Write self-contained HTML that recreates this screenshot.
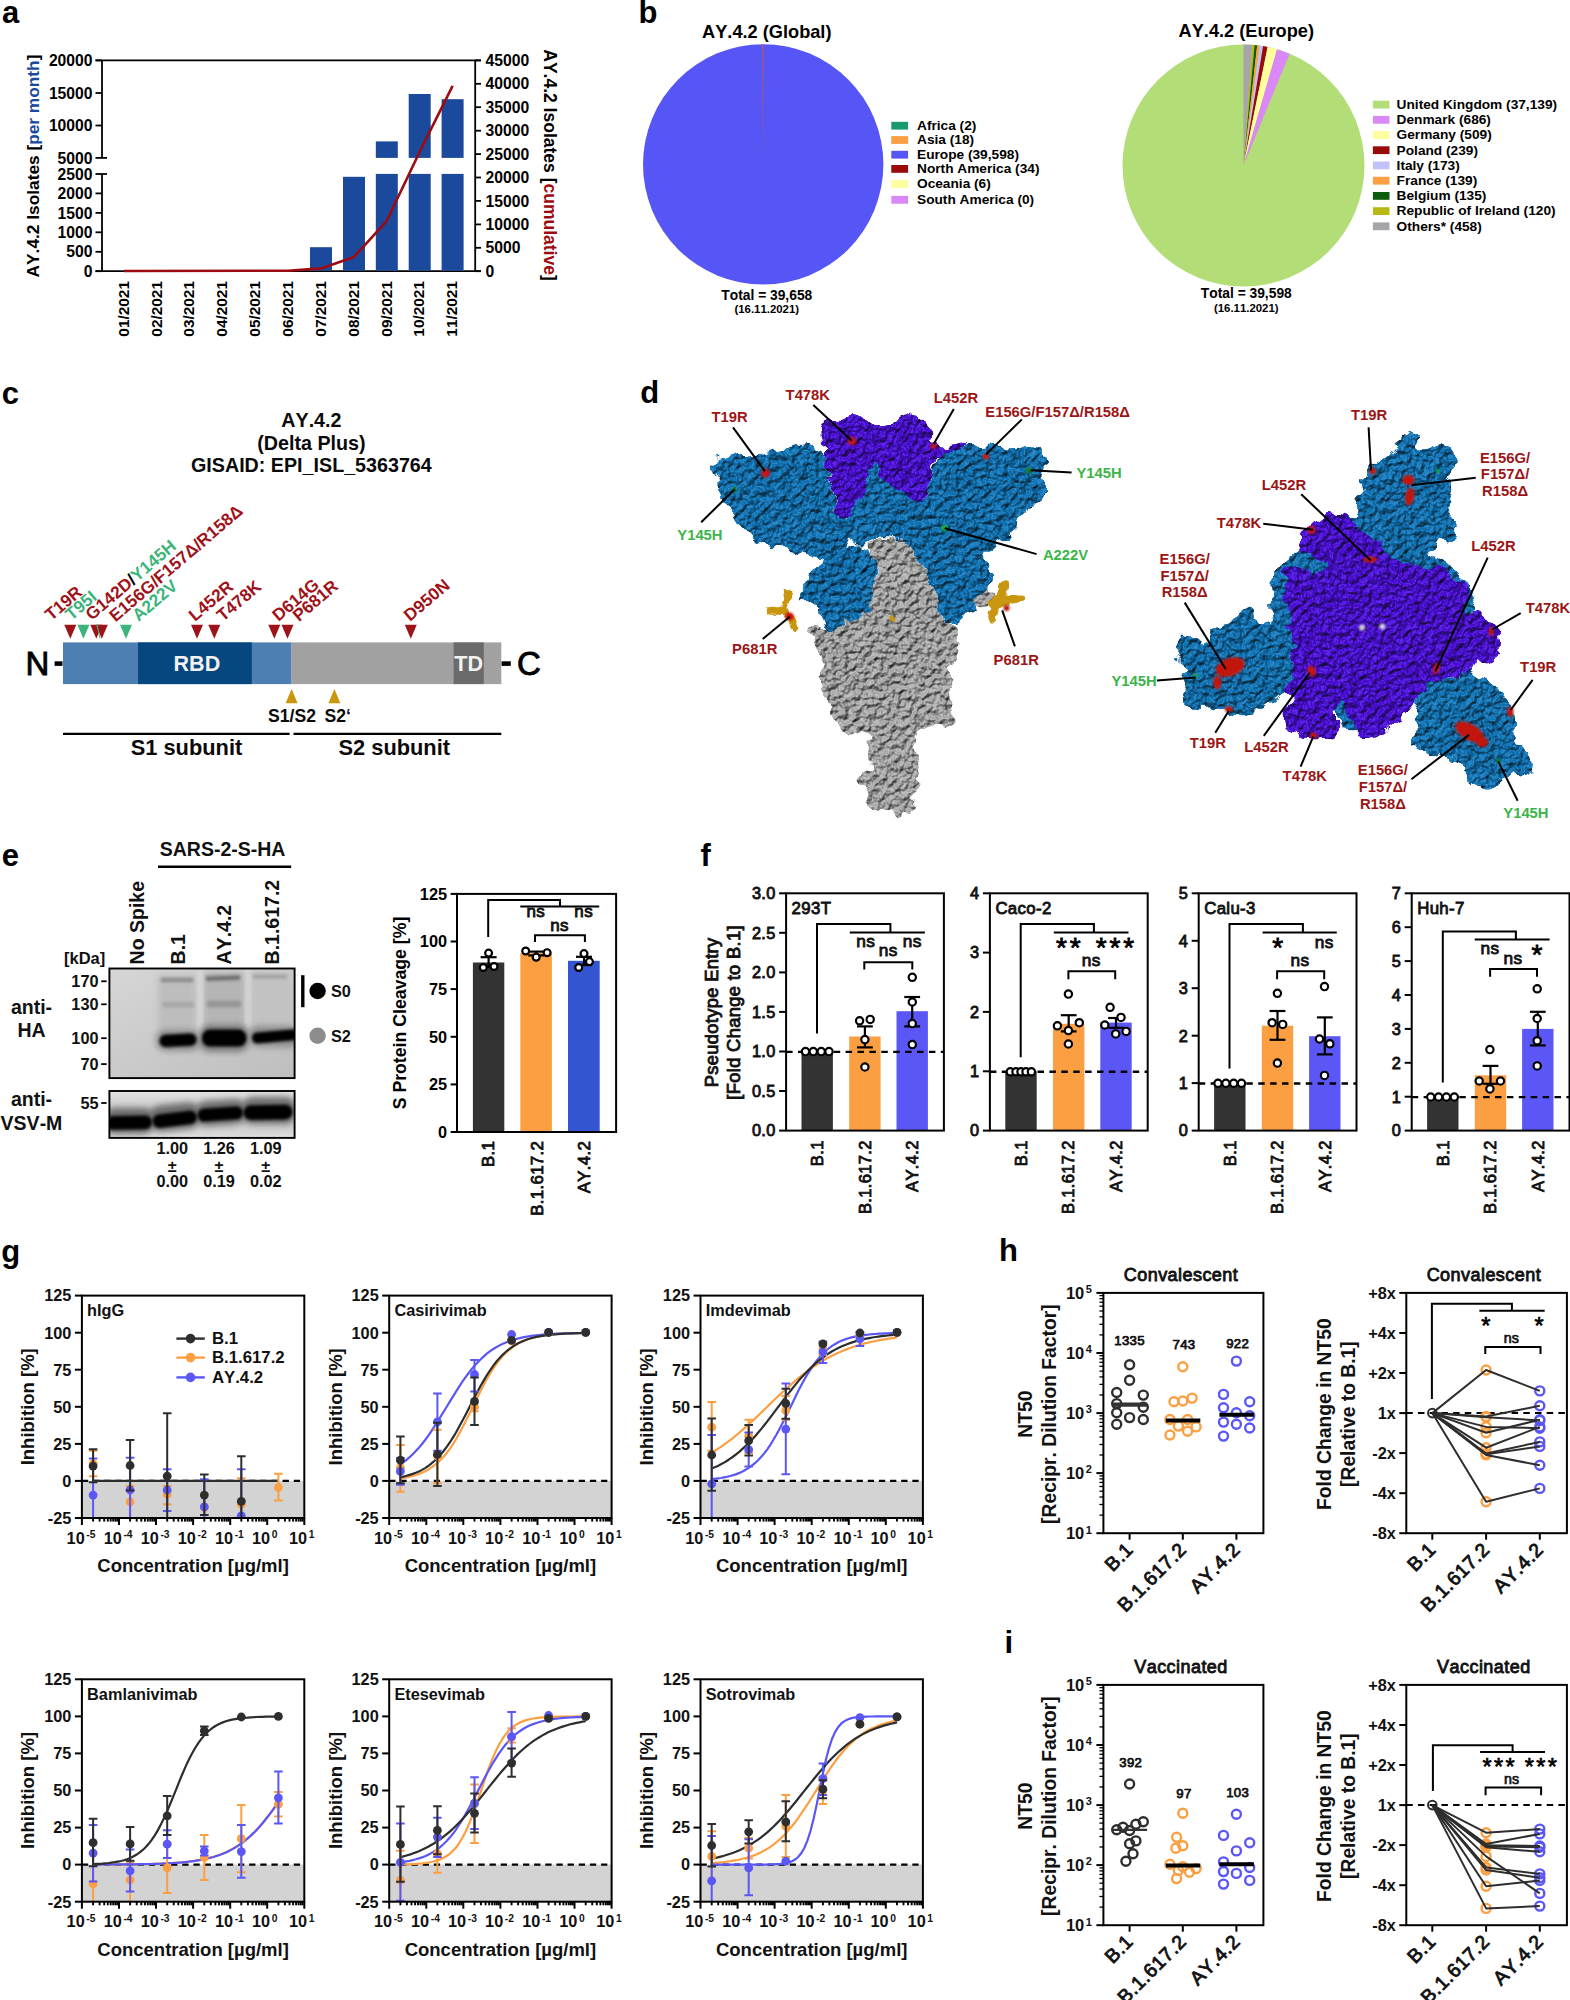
<!DOCTYPE html>
<html><head><meta charset="utf-8"><title>Figure</title>
<style>
html,body{margin:0;padding:0;background:#fff;}
svg{display:block;}
text{font-family:"Liberation Sans",sans-serif;font-weight:bold;font-kerning:none;}
</style></head><body>
<svg width="1570" height="2000" viewBox="0 0 1570 2000">
<rect width="1570" height="2000" fill="#fff"/>
<g id="pa">
<text x="2.0" y="23.2" font-size="31">a</text>
<line x1="95.5" y1="60.4" x2="481.0" y2="60.4" stroke="#000" stroke-width="1.8" />
<line x1="95.5" y1="271.2" x2="481.0" y2="271.2" stroke="#000" stroke-width="1.8" />
<line x1="102.0" y1="60.4" x2="102.0" y2="157.9" stroke="#000" stroke-width="1.8" />
<line x1="102.0" y1="174.0" x2="102.0" y2="271.2" stroke="#000" stroke-width="1.8" />
<line x1="475.2" y1="60.4" x2="475.2" y2="271.2" stroke="#000" stroke-width="1.8" />
<line x1="95.5" y1="60.4" x2="102.0" y2="60.4" stroke="#000" stroke-width="1.8" />
<text x="92.5" y="66.0" font-size="15.7" text-anchor="end">20000</text>
<line x1="95.5" y1="93.0" x2="102.0" y2="93.0" stroke="#000" stroke-width="1.8" />
<text x="92.5" y="98.6" font-size="15.7" text-anchor="end">15000</text>
<line x1="95.5" y1="125.5" x2="102.0" y2="125.5" stroke="#000" stroke-width="1.8" />
<text x="92.5" y="131.1" font-size="15.7" text-anchor="end">10000</text>
<line x1="95.5" y1="157.9" x2="107.0" y2="157.9" stroke="#000" stroke-width="1.8" />
<text x="92.5" y="163.5" font-size="15.7" text-anchor="end">5000</text>
<line x1="95.5" y1="174.0" x2="107.0" y2="174.0" stroke="#000" stroke-width="1.8" />
<text x="92.5" y="179.6" font-size="15.7" text-anchor="end">2500</text>
<line x1="95.5" y1="193.4" x2="102.0" y2="193.4" stroke="#000" stroke-width="1.8" />
<text x="92.5" y="199.0" font-size="15.7" text-anchor="end">2000</text>
<line x1="95.5" y1="212.9" x2="102.0" y2="212.9" stroke="#000" stroke-width="1.8" />
<text x="92.5" y="218.5" font-size="15.7" text-anchor="end">1500</text>
<line x1="95.5" y1="232.3" x2="102.0" y2="232.3" stroke="#000" stroke-width="1.8" />
<text x="92.5" y="237.9" font-size="15.7" text-anchor="end">1000</text>
<line x1="95.5" y1="251.8" x2="102.0" y2="251.8" stroke="#000" stroke-width="1.8" />
<text x="92.5" y="257.4" font-size="15.7" text-anchor="end">500</text>
<line x1="95.5" y1="271.2" x2="102.0" y2="271.2" stroke="#000" stroke-width="1.8" />
<text x="92.5" y="276.8" font-size="15.7" text-anchor="end">0</text>
<line x1="475.2" y1="271.2" x2="481.0" y2="271.2" stroke="#000" stroke-width="1.8" />
<text x="485.5" y="276.8" font-size="15.7">0</text>
<line x1="475.2" y1="247.8" x2="481.0" y2="247.8" stroke="#000" stroke-width="1.8" />
<text x="485.5" y="253.4" font-size="15.7">5000</text>
<line x1="475.2" y1="224.4" x2="481.0" y2="224.4" stroke="#000" stroke-width="1.8" />
<text x="485.5" y="230.0" font-size="15.7">10000</text>
<line x1="475.2" y1="200.9" x2="481.0" y2="200.9" stroke="#000" stroke-width="1.8" />
<text x="485.5" y="206.5" font-size="15.7">15000</text>
<line x1="475.2" y1="177.5" x2="481.0" y2="177.5" stroke="#000" stroke-width="1.8" />
<text x="485.5" y="183.1" font-size="15.7">20000</text>
<line x1="475.2" y1="154.1" x2="481.0" y2="154.1" stroke="#000" stroke-width="1.8" />
<text x="485.5" y="159.7" font-size="15.7">25000</text>
<line x1="475.2" y1="130.7" x2="481.0" y2="130.7" stroke="#000" stroke-width="1.8" />
<text x="485.5" y="136.3" font-size="15.7">30000</text>
<line x1="475.2" y1="107.2" x2="481.0" y2="107.2" stroke="#000" stroke-width="1.8" />
<text x="485.5" y="112.8" font-size="15.7">35000</text>
<line x1="475.2" y1="83.8" x2="481.0" y2="83.8" stroke="#000" stroke-width="1.8" />
<text x="485.5" y="89.4" font-size="15.7">40000</text>
<line x1="475.2" y1="60.4" x2="481.0" y2="60.4" stroke="#000" stroke-width="1.8" />
<text x="485.5" y="66.0" font-size="15.7">45000</text>
<rect x="310.0" y="247.2" width="22.0" height="23.5" fill="#1b4a9c" />
<rect x="343.0" y="176.8" width="22.0" height="93.9" fill="#1b4a9c" />
<rect x="375.8" y="173.9" width="22.0" height="96.8" fill="#1b4a9c" />
<rect x="375.8" y="141.4" width="22.0" height="16.5" fill="#1b4a9c" />
<rect x="408.7" y="173.9" width="22.0" height="96.8" fill="#1b4a9c" />
<rect x="408.7" y="94.0" width="22.0" height="63.9" fill="#1b4a9c" />
<rect x="441.6" y="173.9" width="22.0" height="96.8" fill="#1b4a9c" />
<rect x="441.6" y="99.2" width="22.0" height="58.7" fill="#1b4a9c" />
<path d="M124.0,271.0 L288.0,270.7 L321.0,268.4 L354.0,257.0 L386.8,220.8 L419.7,151.7 L452.6,85.8" stroke="#9b0b10" stroke-width="2.6" fill="none" stroke-linejoin="round"/>
<text x="128.6" y="281.0" font-size="15.4" text-anchor="end" transform="rotate(-90 128.6 281.0)">01/2021</text>
<text x="161.5" y="281.0" font-size="15.4" text-anchor="end" transform="rotate(-90 161.5 281.0)">02/2021</text>
<text x="194.3" y="281.0" font-size="15.4" text-anchor="end" transform="rotate(-90 194.3 281.0)">03/2021</text>
<text x="227.2" y="281.0" font-size="15.4" text-anchor="end" transform="rotate(-90 227.2 281.0)">04/2021</text>
<text x="260.0" y="281.0" font-size="15.4" text-anchor="end" transform="rotate(-90 260.0 281.0)">05/2021</text>
<text x="292.9" y="281.0" font-size="15.4" text-anchor="end" transform="rotate(-90 292.9 281.0)">06/2021</text>
<text x="325.8" y="281.0" font-size="15.4" text-anchor="end" transform="rotate(-90 325.8 281.0)">07/2021</text>
<text x="358.6" y="281.0" font-size="15.4" text-anchor="end" transform="rotate(-90 358.6 281.0)">08/2021</text>
<text x="391.5" y="281.0" font-size="15.4" text-anchor="end" transform="rotate(-90 391.5 281.0)">09/2021</text>
<text x="424.3" y="281.0" font-size="15.4" text-anchor="end" transform="rotate(-90 424.3 281.0)">10/2021</text>
<text x="457.2" y="281.0" font-size="15.4" text-anchor="end" transform="rotate(-90 457.2 281.0)">11/2021</text>
<text x="39.2" y="166.0" font-size="17.3" text-anchor="middle" transform="rotate(-90 39.2 166.0)">AY.4.2 Isolates [<tspan fill="#1b4a9c">per month</tspan>]</text>
<text x="543.8" y="165.0" font-size="17.5" text-anchor="middle" transform="rotate(90 543.8 165.0)">AY.4.2 Isolates [<tspan fill="#9b0b10">cumulative</tspan>]</text>
</g>
<g id="pb">
<text x="638.5" y="22.9" font-size="31">b</text>
<circle cx="763.2" cy="164.4" r="120.2" fill="#5656f7" stroke="none" stroke-width="0" />
<path d="M762.3,44.5 L763.5,44.5 L763.1,164.4 Z" fill="#c0564f"/>
<text x="766.8" y="38.0" font-size="18.2" text-anchor="middle">AY.4.2 (Global)</text>
<text x="766.8" y="299.6" font-size="13.8" text-anchor="middle">Total = 39,658</text>
<text x="766.8" y="313.4" font-size="11.4" text-anchor="middle">(16.11.2021)</text>
<rect x="891.3" y="121.8" width="16.8" height="7.8" fill="#1a9a6c" />
<text x="917.0" y="129.9" font-size="13.7">Africa (2)</text>
<rect x="891.3" y="136.1" width="16.8" height="7.8" fill="#fc9f42" />
<text x="917.0" y="144.2" font-size="13.7">Asia (18)</text>
<rect x="891.3" y="150.8" width="16.8" height="7.8" fill="#5656f7" />
<text x="917.0" y="158.9" font-size="13.7">Europe (39,598)</text>
<rect x="891.3" y="165.0" width="16.8" height="7.8" fill="#9b0a0a" />
<text x="917.0" y="173.1" font-size="13.7">North America (34)</text>
<rect x="891.3" y="180.1" width="16.8" height="7.8" fill="#fefe9e" />
<text x="917.0" y="188.2" font-size="13.7">Oceania (6)</text>
<rect x="891.3" y="195.9" width="16.8" height="7.8" fill="#da87f7" />
<text x="917.0" y="204.0" font-size="13.7">South America (0)</text>
<circle cx="1243.5" cy="165.5" r="121" fill="#b2dd77" stroke="none" stroke-width="0" />
<path d="M1243.50,165.50 L1243.50,44.50 A121,121 0 0 1 1252.39,44.83 Z" fill="#a6a6aa"/>
<path d="M1243.50,165.50 L1252.29,44.82 A121,121 0 0 1 1254.69,45.02 Z" fill="#b9b916"/>
<path d="M1243.50,165.50 L1254.58,45.01 A121,121 0 0 1 1257.27,45.29 Z" fill="#0b5d0b"/>
<path d="M1243.50,165.50 L1257.16,45.27 A121,121 0 0 1 1259.91,45.62 Z" fill="#fc9f42"/>
<path d="M1243.50,165.50 L1259.81,45.60 A121,121 0 0 1 1263.20,46.11 Z" fill="#c2c2fa"/>
<path d="M1243.50,165.50 L1263.09,46.10 A121,121 0 0 1 1267.71,46.95 Z" fill="#9b0a0a"/>
<path d="M1243.50,165.50 L1267.61,46.93 A121,121 0 0 1 1277.20,49.29 Z" fill="#fefe9e"/>
<path d="M1243.50,165.50 L1277.09,49.26 A121,121 0 0 1 1289.62,53.63 Z" fill="#da87f7"/>
<text x="1246.3" y="37.3" font-size="18.2" text-anchor="middle">AY.4.2 (Europe)</text>
<text x="1246.3" y="298.2" font-size="13.8" text-anchor="middle">Total = 39,598</text>
<text x="1246.3" y="312.0" font-size="11.4" text-anchor="middle">(16.11.2021)</text>
<rect x="1372.9" y="100.7" width="16.6" height="7.8" fill="#b2dd77" />
<text x="1396.6" y="108.9" font-size="13.7">United Kingdom (37,139)</text>
<rect x="1372.9" y="115.9" width="16.6" height="7.8" fill="#da87f7" />
<text x="1396.6" y="124.1" font-size="13.7">Denmark (686)</text>
<rect x="1372.9" y="131.1" width="16.6" height="7.8" fill="#fefe9e" />
<text x="1396.6" y="139.3" font-size="13.7">Germany (509)</text>
<rect x="1372.9" y="146.3" width="16.6" height="7.8" fill="#9b0a0a" />
<text x="1396.6" y="154.5" font-size="13.7">Poland (239)</text>
<rect x="1372.9" y="161.5" width="16.6" height="7.8" fill="#c2c2fa" />
<text x="1396.6" y="169.7" font-size="13.7">Italy (173)</text>
<rect x="1372.9" y="176.8" width="16.6" height="7.8" fill="#fc9f42" />
<text x="1396.6" y="185.0" font-size="13.7">France (139)</text>
<rect x="1372.9" y="192.0" width="16.6" height="7.8" fill="#0b5d0b" />
<text x="1396.6" y="200.2" font-size="13.7">Belgium (135)</text>
<rect x="1372.9" y="207.2" width="16.6" height="7.8" fill="#b9b916" />
<text x="1396.6" y="215.4" font-size="13.7">Republic of Ireland (120)</text>
<rect x="1372.9" y="222.4" width="16.6" height="7.8" fill="#a6a6aa" />
<text x="1396.6" y="230.6" font-size="13.7">Others* (458)</text>
</g>
<g id="pc">
<text x="1.7" y="403.6" font-size="31">c</text>
<text x="311.4" y="427.3" font-size="19.7" text-anchor="middle" fill="#0a0a0a">AY.4.2</text>
<text x="311.4" y="449.6" font-size="19.7" text-anchor="middle" fill="#0a0a0a">(Delta Plus)</text>
<text x="311.4" y="472.4" font-size="19.7" text-anchor="middle" fill="#0a0a0a">GISAID: EPI_ISL_5363764</text>
<rect x="63.0" y="642.4" width="228.6" height="41.7" fill="#4e7fb3" />
<rect x="138.0" y="642.4" width="113.8" height="41.7" fill="#06477f" />
<rect x="291.6" y="642.4" width="209.7" height="41.7" fill="#a1a1a1" />
<rect x="453.6" y="642.4" width="30.2" height="41.7" fill="#6b6b6b" />
<text x="196.9" y="671.3" font-size="21.5" text-anchor="middle" fill="#f2f2f2">RBD</text>
<text x="468.7" y="671.3" font-size="21.5" text-anchor="middle" fill="#f2f2f2">TD</text>
<text x="25.6" y="675.0" font-size="33" style="font-weight:normal" stroke="#000" stroke-width="0.9">N</text>
<text x="517.0" y="675.0" font-size="33" style="font-weight:normal" stroke="#000" stroke-width="0.9">C</text>
<line x1="54.6" y1="663.6" x2="62.5" y2="663.6" stroke="#000" stroke-width="4.6" />
<line x1="501.6" y1="663.6" x2="510.8" y2="663.6" stroke="#000" stroke-width="4.6" />
<path d="M64.3,624.8 L76.3,624.8 L70.3,638.8 Z" fill="#9e1219"/>
<path d="M90.3,624.8 L102.3,624.8 L96.3,638.8 Z" fill="#9e1219"/>
<path d="M95.8,624.8 L107.8,624.8 L101.8,638.8 Z" fill="#9e1219"/>
<path d="M191.0,624.8 L203.0,624.8 L197.0,638.8 Z" fill="#9e1219"/>
<path d="M208.3,624.8 L220.3,624.8 L214.3,638.8 Z" fill="#9e1219"/>
<path d="M268.3,624.8 L280.3,624.8 L274.3,638.8 Z" fill="#9e1219"/>
<path d="M281.5,624.8 L293.5,624.8 L287.5,638.8 Z" fill="#9e1219"/>
<path d="M404.8,624.8 L416.8,624.8 L410.8,638.8 Z" fill="#9e1219"/>
<path d="M96.2,624.8 L97.6,624.8 L100.4,637.5 L99.8,638.8 Z" fill="#3cb47b"/>
<path d="M77.4,624.8 L89.4,624.8 L83.4,638.8 Z" fill="#3cb47b"/>
<path d="M120.0,624.8 L132.0,624.8 L126.0,638.8 Z" fill="#3cb47b"/>
<path d="M285.6,703.2 L297.6,703.2 L291.6,689 Z" fill="#c9960c"/>
<path d="M328.4,703.2 L340.4,703.2 L334.4,689 Z" fill="#c9960c"/>
<text x="51.2" y="621.3" font-size="17.3" transform="rotate(-40.5 51.2 621.3)" fill="#9e1219">T19R</text>
<text x="71.5" y="621.0" font-size="17.3" transform="rotate(-40.5 71.5 621.0)" fill="#3cb47b">T95I</text>
<text x="91.8" y="621.0" font-size="17.3" transform="rotate(-40.5 91.8 621.0)" fill="#9e1219">G142D<tspan fill="#000">/</tspan><tspan fill="#3cb47b">Y145H</tspan></text>
<text x="115.5" y="622.5" font-size="17.3" transform="rotate(-40.5 115.5 622.5)" fill="#9e1219">E156G/F157Δ/R158Δ</text>
<text x="138.5" y="622.0" font-size="17.3" transform="rotate(-40.5 138.5 622.0)" fill="#3cb47b">A222V</text>
<text x="195.0" y="622.0" font-size="17.3" transform="rotate(-40.5 195.0 622.0)" fill="#9e1219">L452R</text>
<text x="223.0" y="622.0" font-size="17.3" transform="rotate(-40.5 223.0 622.0)" fill="#9e1219">T478K</text>
<text x="278.5" y="622.0" font-size="17.3" transform="rotate(-40.5 278.5 622.0)" fill="#9e1219">D614G</text>
<text x="299.0" y="622.3" font-size="17.3" transform="rotate(-40.5 299.0 622.3)" fill="#9e1219">P681R</text>
<text x="410.0" y="622.0" font-size="17.3" transform="rotate(-40.5 410.0 622.0)" fill="#9e1219">D950N</text>
<text x="292.0" y="721.5" font-size="17.6" text-anchor="middle" fill="#0a0a0a">S1/S2</text>
<text x="337.8" y="721.5" font-size="17.6" text-anchor="middle" fill="#0a0a0a">S2‘</text>
<line x1="63.0" y1="733.8" x2="289.6" y2="733.8" stroke="#000" stroke-width="2.2" />
<line x1="293.5" y1="733.8" x2="501.3" y2="733.8" stroke="#000" stroke-width="2.2" />
<text x="186.5" y="754.8" font-size="21.8" text-anchor="middle" fill="#0a0a0a">S1 subunit</text>
<text x="394.3" y="754.8" font-size="21.8" text-anchor="middle" fill="#0a0a0a">S2 subunit</text>
</g>
<g id="pd">
<defs>
<filter id="surf" x="-3%" y="-3%" width="106%" height="106%" color-interpolation-filters="sRGB">
<feTurbulence type="fractalNoise" baseFrequency="0.085" numOctaves="2" seed="11" result="n1"/>
<feDisplacementMap in="SourceGraphic" in2="n1" scale="13" xChannelSelector="R" yChannelSelector="G" result="d"/>
<feTurbulence type="fractalNoise" baseFrequency="0.17" numOctaves="2" seed="5" result="n"/>
<feDiffuseLighting in="n" surfaceScale="3.6" diffuseConstant="1.2" lighting-color="#fff" result="l"><feDistantLight azimuth="240" elevation="55"/></feDiffuseLighting>
<feComposite in="l" in2="d" operator="arithmetic" k1="0.92" k2="0" k3="0.04" k4="0" result="m"/>
<feSpecularLighting in="n" surfaceScale="3.6" specularConstant="0.5" specularExponent="14" lighting-color="#fff" result="sp"><feDistantLight azimuth="240" elevation="55"/></feSpecularLighting>
<feComposite in="sp" in2="m" operator="arithmetic" k1="0" k2="0.3" k3="1" k4="0" result="m2"/>
<feComposite in="m2" in2="d" operator="in"/>
</filter>
<filter id="surf2" x="-10%" y="-10%" width="120%" height="120%" color-interpolation-filters="sRGB">
<feTurbulence type="fractalNoise" baseFrequency="0.2" numOctaves="1" seed="3" result="n"/>
<feDisplacementMap in="SourceGraphic" in2="n" scale="5" xChannelSelector="R" yChannelSelector="G"/>
</filter>
<filter id="sb" x="-30%" y="-30%" width="160%" height="160%"><feGaussianBlur stdDeviation="0.8"/></filter>
</defs>
<text x="640.3" y="403.4" font-size="31">d</text>
<g filter="url(#surf)"><path d="M822.7,422.9 C824.2,420.3 827.8,418.9 830.7,418.3 C833.6,417.8 836.4,420.2 839.9,419.5 C843.3,418.8 847.9,414.7 851.3,414.2 C854.8,413.7 858.0,415.6 860.5,416.5 C863.0,417.4 864.0,418.0 866.2,419.5 C868.5,420.9 871.8,423.6 874.3,425.2 C876.8,426.9 879.2,428.7 881.2,429.4 C883.1,430.0 884.7,429.8 886.2,429.4 C887.7,428.9 888.1,428.6 890.3,426.4 C892.5,424.2 896.6,418.5 899.5,416.1 C902.4,413.6 904.8,411.7 907.5,411.9 C910.2,412.1 913.3,416.3 915.5,417.2 C917.8,418.1 919.0,415.1 921.3,417.2 C923.6,419.3 927.2,426.0 929.3,429.8 C931.4,433.6 932.0,437.3 933.9,440.1 C935.8,443.0 937.3,446.2 940.8,447.0 C944.2,447.8 950.1,445.5 954.5,444.7 C958.9,444.0 967.5,440.9 967.1,442.4 C966.8,444.0 957.4,450.8 952.2,453.9 C947.1,456.9 939.6,457.1 936.2,460.8 C932.7,464.4 933.1,469.7 931.6,475.7 C930.1,481.6 929.7,492.1 927.0,496.3 C924.3,500.5 920.5,500.9 915.5,500.9 C910.6,500.9 902.6,497.8 897.2,496.3 C891.9,494.8 888.0,491.7 883.4,491.7 C878.9,491.7 874.3,493.6 869.7,496.3 C865.1,499.0 859.7,503.8 855.9,507.8 C852.1,511.8 849.8,519.2 846.8,520.4 C843.7,521.5 839.5,518.3 837.6,514.7 C835.7,511.0 836.4,503.6 835.3,498.6 C834.1,493.6 832.0,489.8 830.7,484.8 C829.4,479.9 828.2,473.8 827.3,468.8 C826.3,463.8 825.9,460.8 825.0,455.0 C824.0,449.3 821.9,439.7 821.5,434.4 C821.1,429.0 821.1,425.6 822.7,422.9Z" fill="#3f03cc"/><path d="M867.4,546.8 C867.0,541.8 868.9,541.0 874.3,539.9 C879.6,538.7 893.4,538.3 899.5,539.9 C905.6,541.4 907.1,544.8 911.0,549.0 C914.8,553.3 919.4,559.4 922.4,565.1 C925.5,570.8 927.0,578.1 929.3,583.4 C931.6,588.8 934.7,592.6 936.2,597.2 C937.7,601.8 937.3,606.4 938.5,611.0 C939.6,615.5 940.1,622.2 943.1,624.7 C946.0,627.3 953.7,624.9 956.2,626.4 C958.7,627.8 958.0,629.9 958.0,633.5 C958.0,637.1 956.2,643.0 956.2,647.8 C956.2,652.5 959.0,658.5 958.0,662.0 C956.9,665.6 950.8,665.9 949.9,669.2 C949.0,672.4 952.8,677.5 952.6,681.7 C952.5,685.8 949.2,690.3 949.0,694.1 C948.9,698.0 950.8,701.0 951.7,704.8 C952.6,708.7 955.1,714.1 954.4,717.3 C953.7,720.6 949.9,723.6 947.3,724.5 C944.6,725.4 941.0,722.7 938.3,722.7 C935.7,722.7 934.2,723.3 931.2,724.5 C928.2,725.7 922.9,727.7 920.5,729.8 C918.1,731.9 917.8,733.4 916.9,736.9 C916.1,740.5 914.9,746.5 915.2,751.2 C915.5,756.0 918.3,761.0 918.7,765.5 C919.2,769.9 917.8,773.8 917.8,778.0 C917.8,782.1 919.2,786.9 918.7,790.5 C918.3,794.0 916.4,796.1 915.2,799.4 C914.0,802.6 913.7,807.7 911.6,810.1 C909.5,812.4 905.1,812.2 902.7,813.6 C900.3,815.1 899.1,819.6 897.3,819.0 C895.5,818.4 894.4,811.9 892.0,810.1 C889.6,808.3 885.7,808.0 883.1,808.3 C880.4,808.6 878.3,812.2 875.9,811.9 C873.5,811.6 870.3,808.6 868.8,806.5 C867.3,804.4 867.3,802.3 867.0,799.4 C866.7,796.4 867.8,791.3 867.0,788.7 C866.3,786.0 863.9,785.4 862.6,783.3 C861.2,781.2 857.6,778.6 859.0,776.2 C860.3,773.8 868.9,772.0 870.6,769.0 C872.2,766.1 868.9,762.5 868.8,758.3 C868.6,754.2 870.0,748.2 869.7,744.1 C869.4,739.9 869.2,734.6 867.0,733.4 C864.8,732.2 859.9,737.2 856.3,736.9 C852.7,736.6 849.2,734.0 845.6,731.6 C842.0,729.2 837.6,725.4 834.9,722.7 C832.2,720.0 830.6,718.5 829.6,715.5 C828.5,712.6 829.7,708.4 828.7,704.8 C827.6,701.3 824.7,698.3 823.3,694.1 C822.0,690.0 820.9,684.9 820.6,679.9 C820.3,674.8 821.5,668.6 821.5,663.8 C821.5,659.1 822.0,655.5 820.6,651.3 C819.3,647.2 814.8,643.3 813.5,638.9 C812.2,634.4 810.1,626.2 812.6,624.6 C815.1,623.0 822.6,631.1 828.3,629.2 C834.0,627.3 839.9,618.2 846.8,613.3 C853.7,608.3 865.5,604.5 869.7,599.5 C873.9,594.5 870.8,588.4 872.0,583.4 C873.1,578.5 877.3,575.8 876.6,569.7 C875.8,563.6 867.8,551.7 867.4,546.8Z" fill="#a3a3a3"/><path d="M968.7,596.1 C968.7,593.8 971.3,592.5 974.0,590.7 C976.7,588.9 982.0,585.4 984.7,585.4 C987.4,585.4 988.3,588.6 990.1,590.7 C991.9,592.8 995.7,595.8 995.4,597.8 C995.1,599.9 991.9,602.1 988.3,603.2 C984.7,604.2 977.3,605.3 974.0,604.1 C970.7,602.9 968.7,598.3 968.7,596.1Z" fill="#a3a3a3"/><path d="M712.6,464.2 C712.8,461.3 714.3,459.8 717.2,458.5 C720.1,457.1 725.6,456.9 729.8,456.2 C734.0,455.4 737.8,454.1 742.4,453.9 C747.0,453.7 752.9,455.4 757.3,455.0 C761.7,454.7 763.1,452.9 768.8,451.6 C774.5,450.3 785.2,448.2 791.7,447.0 C798.2,445.9 803.2,444.5 807.8,444.7 C812.4,444.9 816.4,446.4 819.2,448.2 C822.1,449.9 823.6,451.6 825.0,455.0 C826.3,458.5 826.3,463.8 827.3,468.8 C828.2,473.8 829.4,479.9 830.7,484.8 C832.0,489.8 834.1,493.6 835.3,498.6 C836.4,503.6 835.7,510.8 837.6,514.7 C839.5,518.5 844.8,517.7 846.8,521.5 C848.7,525.4 849.0,533.4 849.0,537.6 C849.0,541.8 844.8,545.2 846.8,546.8 C848.7,548.3 856.3,545.2 860.5,546.8 C864.7,548.3 869.3,552.1 872.0,555.9 C874.7,559.7 876.4,565.1 876.6,569.7 C876.8,574.3 874.0,578.5 873.1,583.4 C872.3,588.4 871.8,594.7 871.5,599.5 C871.3,604.3 873.4,609.5 871.5,612.1 C869.7,614.7 864.2,613.9 860.5,615.1 C856.8,616.2 853.1,616.4 849.3,619.0 C845.5,621.5 841.1,628.7 837.6,630.5 C834.1,632.2 830.9,631.0 828.4,629.3 C825.9,627.6 824.2,624.0 822.7,620.1 C821.1,616.3 821.7,609.8 819.2,606.4 C816.8,602.9 811.2,600.6 807.8,599.5 C804.3,598.3 799.0,602.2 798.6,599.5 C798.2,596.8 803.6,588.0 805.5,583.4 C807.4,578.9 807.0,575.8 810.1,572.0 C813.1,568.2 823.8,562.8 823.8,560.5 C823.8,558.2 815.0,559.7 810.1,558.2 C805.1,556.7 799.7,553.3 794.0,551.3 C788.3,549.4 781.8,548.3 775.7,546.8 C769.6,545.2 762.3,544.8 757.3,542.2 C752.4,539.5 749.3,534.5 745.9,530.7 C742.4,526.9 739.0,523.1 736.7,519.2 C734.4,515.4 734.0,510.4 732.1,507.8 C730.2,505.1 727.1,506.2 725.2,503.2 C723.3,500.1 722.2,494.0 720.6,489.4 C719.1,484.8 717.4,479.9 716.1,475.7 C714.7,471.5 712.4,467.1 712.6,464.2Z" fill="#0669ab"/><path d="M870.8,466.5 C872.4,465.0 874.5,465.0 876.6,466.5 C878.7,468.0 880.4,472.0 883.4,475.7 C886.5,479.3 891.1,485.2 894.9,488.3 C898.7,491.3 902.9,492.3 906.4,494.0 C909.8,495.7 912.1,498.2 915.5,498.6 C919.0,499.0 924.3,500.1 927.0,496.3 C929.7,492.5 929.7,481.8 931.6,475.7 C933.5,469.6 935.4,463.6 938.5,459.6 C941.5,455.6 945.2,454.1 949.9,451.6 C954.7,449.1 961.8,445.7 967.1,444.7 C972.5,443.8 976.9,445.9 982.0,445.9 C987.2,445.9 993.1,444.1 998.1,444.7 C1003.1,445.3 1006.5,449.1 1011.9,449.3 C1017.2,449.5 1024.8,444.9 1030.2,445.9 C1035.5,446.8 1040.9,452.2 1044.0,455.0 C1047.0,457.9 1048.9,459.6 1048.5,463.1 C1048.2,466.5 1042.0,471.3 1041.7,475.7 C1041.3,480.1 1046.3,485.2 1046.3,489.4 C1046.3,493.6 1044.7,497.8 1041.7,500.9 C1038.6,504.0 1032.1,504.7 1027.9,507.8 C1023.7,510.8 1019.1,514.3 1016.4,519.2 C1013.8,524.2 1014.9,534.1 1011.9,537.6 C1008.8,541.0 1001.5,538.0 998.1,539.9 C994.7,541.8 993.9,546.4 991.2,549.0 C988.5,551.7 982.0,552.9 982.0,555.9 C982.0,559.0 989.7,563.2 991.2,567.4 C992.7,571.6 992.4,577.3 991.2,581.2 C990.1,585.0 987.0,587.3 984.3,590.3 C981.7,593.4 976.3,596.4 975.2,599.5 C974.0,602.6 979.0,606.0 977.5,608.7 C975.9,611.3 969.8,613.1 966.0,615.5 C962.2,618.0 958.4,622.0 954.5,623.6 C950.7,625.1 945.7,626.8 943.1,624.7 C940.4,622.6 939.6,615.5 938.5,611.0 C937.3,606.4 937.7,601.8 936.2,597.2 C934.7,592.6 931.6,588.8 929.3,583.4 C927.0,578.1 925.5,570.8 922.4,565.1 C919.4,559.4 914.8,553.3 911.0,549.0 C907.1,544.8 904.1,541.8 899.5,539.9 C894.9,538.0 888.4,537.6 883.4,537.6 C878.5,537.6 873.5,538.3 869.7,539.9 C865.9,541.4 864.0,547.1 860.5,546.8 C857.1,546.4 851.3,541.8 849.0,537.6 C846.8,533.4 845.6,527.3 846.8,521.5 C847.9,515.8 852.9,508.2 855.9,503.2 C859.0,498.2 863.2,496.3 865.1,491.7 C867.0,487.1 866.4,479.9 867.4,475.7 C868.3,471.5 869.3,468.0 870.8,466.5Z" fill="#0669ab"/></g>
<g filter="url(#surf2)"><path d="M783.2,589.8 C784.4,588.3 789.6,589.4 791.2,590.7 C792.8,592.0 793.4,595.8 793.0,597.8 C792.5,599.9 789.6,601.4 788.5,603.2 C787.5,605.0 785.9,606.5 786.8,608.5 C787.6,610.6 792.0,612.7 793.9,615.7 C795.8,618.6 797.9,623.7 798.3,626.4 C798.8,629.0 797.6,631.1 796.6,631.7 C795.5,632.3 793.4,631.6 792.1,629.9 C790.8,628.3 789.7,624.3 788.5,621.9 C787.3,619.5 787.3,616.9 785.0,615.7 C782.6,614.5 777.1,615.1 774.3,614.8 C771.4,614.5 769.2,614.9 768.0,613.9 C766.8,612.8 766.4,609.7 767.1,608.5 C767.9,607.3 770.1,607.0 772.5,606.8 C774.9,606.5 779.5,607.9 781.4,606.8 C783.3,605.6 783.8,602.4 784.1,599.6 C784.4,596.8 782.0,591.3 783.2,589.8Z" fill="#c8960f"/><path d="M999.0,582.7 C1000.8,580.9 1006.3,580.7 1007.9,581.8 C1009.5,582.8 1009.1,586.8 1008.8,588.9 C1008.5,591.0 1004.8,593.2 1006.1,594.3 C1007.5,595.3 1013.8,594.9 1016.8,595.2 C1019.8,595.5 1022.6,595.3 1024.0,596.1 C1025.3,596.8 1025.7,598.6 1024.8,599.6 C1024.0,600.7 1021.4,601.4 1018.6,602.3 C1015.8,603.2 1011.2,603.9 1007.9,605.0 C1004.6,606.0 1000.9,606.8 999.0,608.5 C997.1,610.3 996.9,613.4 996.3,615.7 C995.7,617.9 996.5,620.9 995.4,621.9 C994.4,623.0 991.3,623.0 990.1,621.9 C988.9,620.9 988.3,617.9 988.3,615.7 C988.3,613.4 990.4,610.6 990.1,608.5 C989.8,606.5 986.2,604.7 986.5,603.2 C986.8,601.7 990.1,601.4 991.9,599.6 C993.6,597.8 996.0,595.3 997.2,592.5 C998.4,589.7 997.2,584.5 999.0,582.7Z" fill="#c8960f"/><circle cx="892" cy="618.5" r="3" fill="#c8960f"/></g>
<circle cx="852" cy="441" r="4.2" fill="#c4121a" filter="url(#sb)"/>
<circle cx="765.5" cy="473" r="4.5" fill="#c4121a" filter="url(#sb)"/>
<circle cx="933.5" cy="446" r="3" fill="#c4121a" filter="url(#sb)"/>
<circle cx="986" cy="456.5" r="3" fill="#d01a12" filter="url(#sb)"/>
<circle cx="789.5" cy="616.5" r="4" fill="#cc1111" filter="url(#sb)"/>
<circle cx="1006.5" cy="608" r="3" fill="#b5150f" filter="url(#sb)"/>
<circle cx="734" cy="489.5" r="2.5" fill="#0e7a1e" filter="url(#sb)"/>
<circle cx="1029" cy="470.5" r="3" fill="#0e7a1e" filter="url(#sb)"/>
<circle cx="944.5" cy="528" r="3" fill="#14b428" filter="url(#sb)"/>
<g filter="url(#surf)"><path d="M1272.1,588.2 C1272.5,578.8 1275.1,572.0 1277.2,567.8 C1279.3,563.5 1281.4,565.6 1284.8,562.7 C1288.2,559.7 1294.6,554.2 1297.6,549.9 C1300.6,545.7 1299.3,541.0 1302.7,537.2 C1306.1,533.4 1310.3,530.2 1318.0,527.0 C1325.6,523.8 1341.3,519.2 1348.5,518.1 C1355.8,517.0 1356.6,518.3 1361.3,520.6 C1365.9,523.0 1371.9,528.5 1376.6,532.1 C1381.2,535.7 1378.3,537.6 1389.3,542.3 C1400.3,547.0 1431.8,555.0 1442.8,560.1 C1453.8,565.2 1451.3,568.6 1455.5,572.9 C1459.8,577.1 1464.9,580.5 1468.3,585.6 C1471.7,590.7 1475.5,597.9 1475.9,603.4 C1476.3,609.0 1472.5,609.0 1470.8,618.7 C1469.1,628.5 1470.8,651.4 1465.7,662.0 C1460.6,672.7 1448.7,675.6 1440.3,682.4 C1431.8,689.2 1423.3,695.6 1414.8,702.8 C1406.3,710.0 1397.8,721.1 1389.3,725.7 C1380.8,730.4 1371.5,730.2 1363.8,730.8 C1356.2,731.5 1348.1,732.5 1343.4,729.6 C1338.8,726.6 1340.9,717.9 1335.8,713.0 C1330.7,708.1 1320.1,706.6 1312.9,700.3 C1305.6,693.9 1296.3,683.3 1292.5,674.8 C1288.7,666.3 1292.9,657.8 1289.9,649.3 C1287.0,640.8 1277.6,634.0 1274.6,623.8 C1271.7,613.6 1271.7,597.5 1272.1,588.2Z" fill="#0669ab"/><path d="M1399.5,439.1 C1402.5,436.1 1408.8,433.0 1412.2,432.7 C1415.6,432.5 1419.0,435.3 1419.9,437.8 C1420.7,440.4 1416.1,445.9 1417.3,448.0 C1418.6,450.1 1423.7,451.2 1427.5,450.6 C1431.3,449.9 1436.4,444.6 1440.3,444.2 C1444.1,443.8 1447.7,444.8 1450.4,448.0 C1453.2,451.2 1456.8,459.5 1456.8,463.3 C1456.8,467.1 1451.9,467.6 1450.4,471.0 C1449.0,474.4 1447.5,479.9 1447.9,483.7 C1448.3,487.5 1452.6,490.5 1453.0,493.9 C1453.4,497.3 1451.3,500.3 1450.4,504.1 C1449.6,507.9 1447.0,512.6 1447.9,516.8 C1448.7,521.1 1455.1,525.3 1455.5,529.6 C1456.0,533.8 1453.0,540.6 1450.4,542.3 C1447.9,544.0 1442.8,538.9 1440.3,539.7 C1437.7,540.6 1437.3,545.3 1435.2,547.4 C1433.0,549.5 1429.6,550.4 1427.5,552.5 C1425.4,554.6 1424.5,559.3 1422.4,560.1 C1420.3,561.0 1418.2,558.4 1414.8,557.6 C1411.4,556.7 1406.3,556.7 1402.0,555.0 C1397.8,553.3 1392.3,549.9 1389.3,547.4 C1386.3,544.8 1386.8,542.3 1384.2,539.7 C1381.7,537.2 1377.4,534.2 1374.0,532.1 C1370.6,530.0 1367.2,528.7 1363.8,527.0 C1360.4,525.3 1354.1,524.5 1353.6,521.9 C1353.2,519.4 1360.8,515.1 1361.3,511.7 C1361.7,508.3 1356.2,504.9 1356.2,501.5 C1356.2,498.1 1360.8,494.7 1361.3,491.3 C1361.7,487.9 1357.9,483.7 1358.7,481.1 C1359.6,478.6 1364.2,478.6 1366.4,476.1 C1368.5,473.5 1368.9,468.8 1371.5,465.9 C1374.0,462.9 1377.8,460.8 1381.7,458.2 C1385.5,455.7 1391.4,453.8 1394.4,450.6 C1397.4,447.4 1396.5,442.1 1399.5,439.1Z" fill="#0669ab"/><path d="M1175.3,656.9 C1174.0,651.4 1177.4,639.5 1180.4,636.6 C1183.4,633.6 1189.3,638.3 1193.1,639.1 C1196.9,640.0 1199.9,643.4 1203.3,641.7 C1206.7,640.0 1208.8,632.3 1213.5,628.9 C1218.2,625.5 1226.2,624.7 1231.3,621.3 C1236.4,617.9 1240.7,610.2 1244.1,608.5 C1247.5,606.8 1250.0,609.0 1251.7,611.1 C1253.4,613.2 1251.7,619.2 1254.3,621.3 C1256.8,623.4 1262.8,624.2 1267.0,623.8 C1271.3,623.4 1276.3,617.9 1279.7,618.7 C1283.1,619.6 1284.8,624.7 1287.4,628.9 C1289.9,633.2 1294.6,639.1 1295.0,644.2 C1295.5,649.3 1290.4,654.4 1289.9,659.5 C1289.5,664.6 1293.3,669.7 1292.5,674.8 C1291.6,679.9 1287.4,685.8 1284.8,690.1 C1282.3,694.3 1280.2,698.1 1277.2,700.3 C1274.2,702.4 1270.4,701.1 1267.0,702.8 C1263.6,704.5 1261.1,708.3 1256.8,710.4 C1252.6,712.6 1246.2,715.1 1241.5,715.5 C1236.9,716.0 1233.9,714.3 1228.8,713.0 C1223.7,711.7 1216.9,708.7 1211.0,707.9 C1205.0,707.0 1198.2,708.7 1193.1,707.9 C1188.0,707.0 1181.7,705.8 1180.4,702.8 C1179.1,699.8 1185.5,694.3 1185.5,690.1 C1185.5,685.8 1180.0,680.7 1180.4,677.3 C1180.8,673.9 1188.9,673.1 1188.0,669.7 C1187.2,666.3 1176.6,662.5 1175.3,656.9Z" fill="#0669ab"/><path d="M1409.7,700.3 C1410.1,698.1 1416.9,697.7 1419.9,695.2 C1422.8,692.6 1424.1,687.5 1427.5,685.0 C1430.9,682.4 1435.2,681.6 1440.3,679.9 C1445.4,678.2 1453.0,676.5 1458.1,674.8 C1463.2,673.1 1467.4,669.3 1470.8,669.7 C1474.2,670.1 1475.1,674.8 1478.5,677.3 C1481.9,679.9 1487.0,682.0 1491.2,685.0 C1495.5,687.9 1500.6,691.3 1503.9,695.2 C1507.3,699.0 1509.9,703.7 1511.6,707.9 C1513.3,712.1 1513.7,715.5 1514.1,720.6 C1514.6,725.7 1512.9,733.8 1514.1,738.5 C1515.4,743.1 1518.8,745.7 1521.8,748.7 C1524.8,751.6 1530.1,752.9 1532.0,756.3 C1533.9,759.7 1534.5,765.6 1533.2,769.0 C1532.0,772.4 1527.5,776.3 1524.3,776.7 C1521.1,777.1 1517.5,771.2 1514.1,771.6 C1510.7,772.0 1507.8,776.3 1503.9,779.2 C1500.1,782.2 1495.5,788.2 1491.2,789.4 C1487.0,790.7 1482.7,789.0 1478.5,786.9 C1474.2,784.8 1468.7,780.5 1465.7,776.7 C1462.8,772.9 1463.6,766.9 1460.6,763.9 C1457.7,761.0 1452.1,760.6 1447.9,758.9 C1443.7,757.2 1439.8,755.5 1435.2,753.8 C1430.5,752.1 1424.1,750.4 1419.9,748.7 C1415.6,747.0 1410.1,746.5 1409.7,743.6 C1409.3,740.6 1416.5,735.1 1417.3,730.8 C1418.2,726.6 1414.8,721.9 1414.8,718.1 C1414.8,714.3 1418.2,710.9 1417.3,707.9 C1416.5,704.9 1409.3,702.4 1409.7,700.3Z" fill="#0669ab"/><path d="M1298.9,539.7 C1298.9,535.5 1302.0,530.4 1305.2,527.0 C1308.4,523.6 1314.1,521.7 1318.0,519.4 C1321.8,517.0 1323.9,513.6 1328.2,513.0 C1332.4,512.4 1339.6,514.1 1343.4,515.5 C1347.3,517.0 1349.4,520.0 1351.1,521.9 C1352.8,523.8 1351.5,525.3 1353.6,527.0 C1355.8,528.7 1360.4,530.0 1363.8,532.1 C1367.2,534.2 1370.6,537.2 1374.0,539.7 C1377.4,542.3 1381.7,544.4 1384.2,547.4 C1386.8,550.4 1385.9,555.0 1389.3,557.6 C1392.7,560.1 1399.9,561.4 1404.6,562.7 C1409.3,563.9 1413.1,564.4 1417.3,565.2 C1421.6,566.1 1425.8,566.9 1430.1,567.8 C1434.3,568.6 1439.0,568.6 1442.8,570.3 C1446.6,572.0 1449.2,575.4 1453.0,578.0 C1456.8,580.5 1463.2,582.2 1465.7,585.6 C1468.3,589.0 1468.3,593.7 1468.3,598.3 C1468.3,603.0 1464.0,611.5 1465.7,613.6 C1467.4,615.8 1474.6,610.2 1478.5,611.1 C1482.3,611.9 1485.7,615.3 1488.7,618.7 C1491.6,622.1 1494.6,626.4 1496.3,631.5 C1498.0,636.6 1499.3,644.2 1498.9,649.3 C1498.4,654.4 1496.3,659.5 1493.8,662.0 C1491.2,664.6 1486.5,665.0 1483.6,664.6 C1480.6,664.2 1478.0,658.6 1475.9,659.5 C1473.8,660.3 1473.8,667.1 1470.8,669.7 C1467.9,672.2 1463.2,673.1 1458.1,674.8 C1453.0,676.5 1445.4,678.2 1440.3,679.9 C1435.2,681.6 1430.9,682.4 1427.5,685.0 C1424.1,687.5 1422.4,691.8 1419.9,695.2 C1417.3,698.6 1415.2,701.5 1412.2,705.4 C1409.3,709.2 1405.9,714.3 1402.0,718.1 C1398.2,721.9 1394.0,725.3 1389.3,728.3 C1384.6,731.3 1378.7,734.6 1374.0,735.9 C1369.3,737.2 1364.7,737.6 1361.3,735.9 C1357.9,734.2 1355.8,729.6 1353.6,725.7 C1351.5,721.9 1350.7,717.2 1348.5,713.0 C1346.4,708.7 1343.0,700.3 1340.9,700.3 C1338.8,700.3 1336.2,708.7 1335.8,713.0 C1335.4,717.2 1338.8,721.9 1338.3,725.7 C1337.9,729.6 1336.6,733.8 1333.2,735.9 C1329.9,738.0 1323.1,738.5 1318.0,738.5 C1312.9,738.5 1307.8,738.0 1302.7,735.9 C1297.6,733.8 1290.4,730.0 1287.4,725.7 C1284.4,721.5 1284.0,714.7 1284.8,710.4 C1285.7,706.2 1292.5,703.7 1292.5,700.3 C1292.5,696.9 1284.8,694.3 1284.8,690.1 C1284.8,685.8 1291.6,679.9 1292.5,674.8 C1293.3,669.7 1289.5,664.6 1289.9,659.5 C1290.4,654.4 1295.5,649.3 1295.0,644.2 C1294.6,639.1 1288.2,634.0 1287.4,628.9 C1286.5,623.8 1290.8,618.7 1289.9,613.6 C1289.1,608.5 1282.7,603.4 1282.3,598.3 C1281.9,593.2 1287.0,587.7 1287.4,583.1 C1287.8,578.4 1283.6,572.9 1284.8,570.3 C1286.1,567.8 1290.4,567.3 1295.0,567.8 C1299.7,568.2 1307.3,573.7 1312.9,572.9 C1318.4,572.0 1327.3,565.2 1328.2,562.7 C1329.0,560.1 1321.8,559.3 1318.0,557.6 C1314.1,555.9 1308.4,555.5 1305.2,552.5 C1302.0,549.5 1298.9,544.0 1298.9,539.7Z" fill="#3f03cc"/></g>
<ellipse cx="1372.7" cy="471.0" rx="3.2" ry="3.6" fill="#c2140f" transform="rotate(0 1372.7 471.0)" filter="url(#sb)"/>
<ellipse cx="1408.4" cy="479.9" rx="6" ry="5" fill="#c2140f" transform="rotate(0 1408.4 479.9)" filter="url(#sb)"/>
<ellipse cx="1409.7" cy="496.4" rx="4.5" ry="9" fill="#c2140f" transform="rotate(10 1409.7 496.4)" filter="url(#sb)"/>
<ellipse cx="1230.1" cy="667.1" rx="15" ry="9" fill="#c2140f" transform="rotate(-20 1230.1 667.1)" filter="url(#sb)"/>
<ellipse cx="1217.3" cy="682.4" rx="4" ry="7" fill="#c2140f" transform="rotate(0 1217.3 682.4)" filter="url(#sb)"/>
<ellipse cx="1228.8" cy="709.2" rx="4" ry="3" fill="#c2140f" transform="rotate(0 1228.8 709.2)" filter="url(#sb)"/>
<ellipse cx="1469.6" cy="732.1" rx="16" ry="8" fill="#c2140f" transform="rotate(30 1469.6 732.1)" filter="url(#sb)"/>
<ellipse cx="1482.3" cy="742.3" rx="6" ry="5" fill="#c2140f" transform="rotate(0 1482.3 742.3)" filter="url(#sb)"/>
<ellipse cx="1510.3" cy="711.7" rx="3.2" ry="5.5" fill="#c2140f" transform="rotate(0 1510.3 711.7)" filter="url(#sb)"/>
<ellipse cx="1311.6" cy="530.1" rx="4" ry="4" fill="#c2140f" transform="rotate(0 1311.6 530.1)" filter="url(#sb)"/>
<ellipse cx="1370.2" cy="559.6" rx="7" ry="3.2" fill="#c2140f" transform="rotate(0 1370.2 559.6)" filter="url(#sb)"/>
<ellipse cx="1311.6" cy="671.0" rx="4" ry="5.5" fill="#c2140f" transform="rotate(-20 1311.6 671.0)" filter="url(#sb)"/>
<ellipse cx="1313.6" cy="735.4" rx="3.6" ry="3" fill="#c2140f" transform="rotate(0 1313.6 735.4)" filter="url(#sb)"/>
<ellipse cx="1436.4" cy="668.4" rx="3.2" ry="6" fill="#c2140f" transform="rotate(20 1436.4 668.4)" filter="url(#sb)"/>
<ellipse cx="1491.2" cy="631.5" rx="2.4" ry="4.5" fill="#c2140f" transform="rotate(0 1491.2 631.5)" filter="url(#sb)"/>
<circle cx="1195.7" cy="675.5" r="2" fill="#18b030" filter="url(#sb)"/>
<circle cx="1498.3" cy="760.9" r="2" fill="#18b030" filter="url(#sb)"/>
<circle cx="1437.7" cy="471.0" r="2" fill="#18b030" filter="url(#sb)"/>
<circle cx="1362.0" cy="627.6" r="3" fill="#d0d0d0" filter="url(#sb)"/>
<circle cx="1382.4" cy="626.4" r="3" fill="#d0d0d0" filter="url(#sb)"/>
<line x1="813.3" y1="405.0" x2="851.8" y2="440.7" stroke="#000" stroke-width="2" />
<line x1="733.0" y1="427.3" x2="764.9" y2="471.3" stroke="#000" stroke-width="2" />
<line x1="953.8" y1="408.9" x2="933.7" y2="443.9" stroke="#000" stroke-width="2" />
<line x1="1021.9" y1="419.4" x2="986.2" y2="454.4" stroke="#000" stroke-width="2" />
<line x1="1071.6" y1="472.5" x2="1030.8" y2="470.3" stroke="#000" stroke-width="2" />
<line x1="701.2" y1="522.2" x2="734.6" y2="489.4" stroke="#000" stroke-width="2" />
<line x1="1036.6" y1="554.1" x2="944.8" y2="528.3" stroke="#000" stroke-width="2" />
<line x1="762.7" y1="639.1" x2="789.7" y2="616.8" stroke="#000" stroke-width="2" />
<line x1="1014.9" y1="646.4" x2="1002.2" y2="610.4" stroke="#000" stroke-width="2" />
<line x1="1368.6" y1="427.4" x2="1371.0" y2="470.2" stroke="#000" stroke-width="2" />
<line x1="1475.7" y1="477.7" x2="1411.4" y2="485.2" stroke="#000" stroke-width="2" />
<line x1="1301.2" y1="494.2" x2="1371.0" y2="560.7" stroke="#000" stroke-width="2" />
<line x1="1263.2" y1="523.8" x2="1313.2" y2="529.8" stroke="#000" stroke-width="2" />
<line x1="1184.7" y1="602.6" x2="1225.7" y2="669.0" stroke="#000" stroke-width="2" />
<line x1="1487.7" y1="557.7" x2="1435.3" y2="671.4" stroke="#000" stroke-width="2" />
<line x1="1520.7" y1="613.1" x2="1492.2" y2="629.5" stroke="#000" stroke-width="2" />
<line x1="1532.6" y1="679.8" x2="1510.8" y2="709.8" stroke="#000" stroke-width="2" />
<line x1="1156.9" y1="680.4" x2="1195.8" y2="677.4" stroke="#000" stroke-width="2" />
<line x1="1215.3" y1="732.8" x2="1228.7" y2="711.0" stroke="#000" stroke-width="2" />
<line x1="1263.8" y1="735.8" x2="1309.6" y2="672.9" stroke="#000" stroke-width="2" />
<line x1="1300.6" y1="766.6" x2="1313.2" y2="736.7" stroke="#000" stroke-width="2" />
<line x1="1411.4" y1="779.2" x2="1468.9" y2="734.9" stroke="#000" stroke-width="2" />
<line x1="1517.7" y1="800.8" x2="1498.2" y2="761.3" stroke="#000" stroke-width="2" />
<text x="785.6" y="400.3" font-size="14.8" fill="#9b1515">T478K</text>
<text x="711.4" y="421.6" font-size="14.8" fill="#9b1515">T19R</text>
<text x="933.7" y="403.4" font-size="14.8" fill="#9b1515">L452R</text>
<text x="985.3" y="416.8" font-size="14.8" fill="#9b1515">E156G/F157Δ/R158Δ</text>
<text x="1076.4" y="478.3" font-size="14.8" fill="#3bb54a">Y145H</text>
<text x="677.3" y="539.7" font-size="14.8" fill="#3bb54a">Y145H</text>
<text x="1042.9" y="560.4" font-size="14.8" fill="#3bb54a">A222V</text>
<text x="732.1" y="654.0" font-size="14.8" fill="#9b1515">P681R</text>
<text x="993.6" y="664.6" font-size="14.8" fill="#9b1515">P681R</text>
<text x="1350.9" y="419.9" font-size="14.8" fill="#9b1515">T19R</text>
<text x="1505.1" y="462.5" font-size="14.8" text-anchor="middle" fill="#9b1515">E156G/</text>
<text x="1505.1" y="478.9" font-size="14.8" text-anchor="middle" fill="#9b1515">F157Δ/</text>
<text x="1505.1" y="495.7" font-size="14.8" text-anchor="middle" fill="#9b1515">R158Δ</text>
<text x="1261.7" y="489.7" font-size="14.8" fill="#9b1515">L452R</text>
<text x="1216.8" y="527.7" font-size="14.8" fill="#9b1515">T478K</text>
<text x="1184.7" y="564.3" font-size="14.8" text-anchor="middle" fill="#9b1515">E156G/</text>
<text x="1184.7" y="580.7" font-size="14.8" text-anchor="middle" fill="#9b1515">F157Δ/</text>
<text x="1184.7" y="597.2" font-size="14.8" text-anchor="middle" fill="#9b1515">R158Δ</text>
<text x="1471.3" y="550.8" font-size="14.8" fill="#9b1515">L452R</text>
<text x="1525.7" y="612.5" font-size="14.8" fill="#9b1515">T478K</text>
<text x="1520.1" y="672.3" font-size="14.8" fill="#9b1515">T19R</text>
<text x="1111.4" y="685.8" font-size="14.8" fill="#3bb54a">Y145H</text>
<text x="1189.8" y="747.8" font-size="14.8" fill="#9b1515">T19R</text>
<text x="1244.3" y="751.7" font-size="14.8" fill="#9b1515">L452R</text>
<text x="1282.6" y="781.3" font-size="14.8" fill="#9b1515">T478K</text>
<text x="1382.9" y="775.3" font-size="14.8" text-anchor="middle" fill="#9b1515">E156G/</text>
<text x="1382.9" y="792.1" font-size="14.8" text-anchor="middle" fill="#9b1515">F157Δ/</text>
<text x="1382.9" y="808.6" font-size="14.8" text-anchor="middle" fill="#9b1515">R158Δ</text>
<text x="1503.3" y="818.1" font-size="14.8" fill="#3bb54a">Y145H</text>
</g>
<g id="pe">
<defs><filter id="bl2" x="-20%" y="-50%" width="140%" height="200%"><feGaussianBlur stdDeviation="2.2"/></filter><filter id="bl3" x="-20%" y="-50%" width="140%" height="200%"><feGaussianBlur stdDeviation="3"/></filter><filter id="bl1" x="-20%" y="-50%" width="140%" height="200%"><feGaussianBlur stdDeviation="1.6"/></filter><clipPath id="blot1"><rect x="109.4" y="968.5" width="185.2" height="109.6"/></clipPath><clipPath id="blot2"><rect x="109.4" y="1091" width="185.2" height="46.9"/></clipPath></defs>
<text x="1.7" y="866.3" font-size="31">e</text>
<text x="222.6" y="856.1" font-size="19.5" text-anchor="middle" fill="#111">SARS-2-S-HA</text>
<line x1="158.0" y1="866.8" x2="291.2" y2="866.8" stroke="#000" stroke-width="2.4" />
<text x="143.8" y="964.4" font-size="19.5" transform="rotate(-90 143.8 964.4)" fill="#111">No Spike</text>
<text x="184.9" y="964.4" font-size="19.5" transform="rotate(-90 184.9 964.4)" fill="#111">B.1</text>
<text x="231.0" y="964.4" font-size="19.5" transform="rotate(-90 231.0 964.4)" fill="#111">AY.4.2</text>
<text x="279.4" y="964.4" font-size="19.5" transform="rotate(-90 279.4 964.4)" fill="#111">B.1.617.2</text>
<text x="64.0" y="964.4" font-size="16.5" fill="#111">[kDa]</text>
<defs><linearGradient id="bg1" x1="0" y1="0" x2="1" y2="1"><stop offset="0" stop-color="#d6d6d6"/><stop offset="1" stop-color="#bebebe"/></linearGradient><linearGradient id="bg2" x1="0" y1="0" x2="0" y2="1"><stop offset="0" stop-color="#e2e2e2"/><stop offset="0.45" stop-color="#c8c8c8"/><stop offset="0.8" stop-color="#d0d0d0"/><stop offset="1" stop-color="#dedede"/></linearGradient></defs><rect x="109.4" y="968.5" width="185.2" height="109.6" fill="url(#bg1)" />
<g clip-path="url(#blot1)"><rect x="158" y="975" width="38" height="60" fill="#bdbdbd" filter="url(#bl3)"/><rect x="204" y="972" width="40" height="62" fill="#b4b4b4" filter="url(#bl3)"/><rect x="251" y="972" width="40" height="60" fill="#c2c2c2" filter="url(#bl3)"/><rect x="197.5" y="968" width="5" height="70" fill="#d8d8d8" filter="url(#bl2)"/><rect x="245.5" y="968" width="5" height="60" fill="#d6d6d6" filter="url(#bl2)"/><rect x="161" y="977.8" width="32" height="4.4" fill="#8e8e8e" filter="url(#bl1)"/><rect x="206" y="975.8" width="34" height="4.6" fill="#6e6e6e" filter="url(#bl1)" transform="rotate(-2 223 978)"/><rect x="253" y="974.6" width="34" height="4" fill="#a2a2a2" filter="url(#bl1)"/><rect x="162" y="1002" width="32" height="5.5" fill="#a8a8a8" filter="url(#bl1)"/><rect x="207" y="1000.5" width="34" height="7" fill="#979797" filter="url(#bl1)"/><rect x="156" y="1030" width="44" height="21" rx="9" fill="#7d7d7d" filter="url(#bl3)" opacity="0.8"/><rect x="199" y="1025" width="50" height="27" rx="10" fill="#6d6d6d" filter="url(#bl3)" opacity="0.85"/><rect x="249" y="1026" width="50" height="21" rx="9" fill="#7d7d7d" filter="url(#bl3)" opacity="0.8"/><rect x="159.5" y="1034" width="37" height="12.4" rx="6" fill="#000" filter="url(#bl1)" transform="rotate(-3 178 1040.2)"/><rect x="202" y="1029.6" width="44.5" height="17" rx="8" fill="#000" filter="url(#bl1)"/><rect x="252" y="1031" width="46" height="11" rx="5" fill="#000" filter="url(#bl1)" transform="rotate(-5 274 1036.5)"/></g>
<rect x="109.4" y="968.5" width="185.2" height="109.6" fill="none" stroke="#000" stroke-width="1.9"/>
<rect x="109.4" y="1091.0" width="185.2" height="46.9" fill="url(#bg2)" />
<g clip-path="url(#blot2)"><rect x="104" y="1108" width="50" height="26" rx="10" fill="#5a5a5a" filter="url(#bl3)" opacity="0.85"/><rect x="150" y="1104" width="50" height="26" rx="10" fill="#5a5a5a" filter="url(#bl3)" opacity="0.85" transform="rotate(-6 175 1119)"/><rect x="196" y="1100" width="50" height="25" rx="10" fill="#5a5a5a" filter="url(#bl3)" opacity="0.85" transform="rotate(-4 221 1114)"/><rect x="242" y="1097" width="54" height="27" rx="10" fill="#5a5a5a" filter="url(#bl3)" opacity="0.85"/><rect x="106" y="1115.8" width="46" height="13.6" rx="6.8" fill="#000" filter="url(#bl1)" transform="rotate(-1 129 1122.5)"/><rect x="152.5" y="1112.4" width="44.5" height="13.6" rx="6.8" fill="#000" filter="url(#bl1)" transform="rotate(-7 175 1119.2)"/><rect x="197.5" y="1107.6" width="45.5" height="13" rx="6.5" fill="#000" filter="url(#bl1)" transform="rotate(-4 220 1114)"/><rect x="243.5" y="1105" width="49" height="14.7" rx="7.3" fill="#000" filter="url(#bl1)" transform="rotate(-1 268 1112.4)"/></g>
<rect x="109.4" y="1091" width="185.2" height="46.9" fill="none" stroke="#000" stroke-width="1.9"/>
<text x="98.5" y="987.1" font-size="16.3" text-anchor="end" fill="#111">170</text>
<line x1="101.2" y1="981.3" x2="106.6" y2="981.3" stroke="#000" stroke-width="1.8" />
<text x="98.5" y="1010.1" font-size="16.3" text-anchor="end" fill="#111">130</text>
<line x1="101.2" y1="1004.3" x2="106.6" y2="1004.3" stroke="#000" stroke-width="1.8" />
<text x="98.5" y="1044.0" font-size="16.3" text-anchor="end" fill="#111">100</text>
<line x1="101.2" y1="1038.2" x2="106.6" y2="1038.2" stroke="#000" stroke-width="1.8" />
<text x="98.5" y="1069.9" font-size="16.3" text-anchor="end" fill="#111">70</text>
<line x1="101.2" y1="1064.1" x2="106.6" y2="1064.1" stroke="#000" stroke-width="1.8" />
<text x="98.5" y="1108.8" font-size="16.3" text-anchor="end" fill="#111">55</text>
<line x1="101.2" y1="1103.0" x2="106.6" y2="1103.0" stroke="#000" stroke-width="1.8" />
<text x="31.5" y="1013.8" font-size="19.5" text-anchor="middle" fill="#111">anti-</text>
<text x="31.5" y="1037.0" font-size="19.5" text-anchor="middle" fill="#111">HA</text>
<text x="31.5" y="1106.0" font-size="19.5" text-anchor="middle" fill="#111">anti-</text>
<text x="31.5" y="1129.7" font-size="19.5" text-anchor="middle" fill="#111">VSV-M</text>
<line x1="302.8" y1="975.2" x2="302.8" y2="1007.2" stroke="#000" stroke-width="3.4" />
<circle cx="317.6" cy="991.0" r="8.2" fill="#000" stroke="none" stroke-width="0" />
<circle cx="317.6" cy="1035.7" r="8.2" fill="#8c8c8c" stroke="none" stroke-width="0" />
<text x="331.0" y="997.0" font-size="16.3" fill="#111">S0</text>
<text x="331.0" y="1042.3" font-size="16.3" fill="#111">S2</text>
<text x="172.3" y="1154.3" font-size="16.3" text-anchor="middle" fill="#111">1.00</text>
<text x="172.3" y="1171.5" font-size="16.3" text-anchor="middle" fill="#111">±</text>
<text x="172.3" y="1187.2" font-size="16.3" text-anchor="middle" fill="#111">0.00</text>
<text x="219.0" y="1154.3" font-size="16.3" text-anchor="middle" fill="#111">1.26</text>
<text x="219.0" y="1171.5" font-size="16.3" text-anchor="middle" fill="#111">±</text>
<text x="219.0" y="1187.2" font-size="16.3" text-anchor="middle" fill="#111">0.19</text>
<text x="265.8" y="1154.3" font-size="16.3" text-anchor="middle" fill="#111">1.09</text>
<text x="265.8" y="1171.5" font-size="16.3" text-anchor="middle" fill="#111">±</text>
<text x="265.8" y="1187.2" font-size="16.3" text-anchor="middle" fill="#111">0.02</text>
<rect x="472.9" y="962.5" width="31.4" height="169.5" fill="#333333" />
<rect x="520.3" y="953.1" width="31.6" height="178.9" fill="#fc9f42" />
<rect x="568.0" y="960.8" width="31.7" height="171.2" fill="#3355d1" />
<rect x="457" y="893.9" width="159.1" height="238.1" fill="none" stroke="#000" stroke-width="2"/>
<line x1="450.6" y1="893.9" x2="457.0" y2="893.9" stroke="#000" stroke-width="2" />
<text x="447.0" y="899.7" font-size="16.3" text-anchor="end">125</text>
<line x1="450.6" y1="941.5" x2="457.0" y2="941.5" stroke="#000" stroke-width="2" />
<text x="447.0" y="947.3" font-size="16.3" text-anchor="end">100</text>
<line x1="450.6" y1="989.1" x2="457.0" y2="989.1" stroke="#000" stroke-width="2" />
<text x="447.0" y="994.9" font-size="16.3" text-anchor="end">75</text>
<line x1="450.6" y1="1036.8" x2="457.0" y2="1036.8" stroke="#000" stroke-width="2" />
<text x="447.0" y="1042.6" font-size="16.3" text-anchor="end">50</text>
<line x1="450.6" y1="1084.4" x2="457.0" y2="1084.4" stroke="#000" stroke-width="2" />
<text x="447.0" y="1090.2" font-size="16.3" text-anchor="end">25</text>
<line x1="450.6" y1="1132.0" x2="457.0" y2="1132.0" stroke="#000" stroke-width="2" />
<text x="447.0" y="1137.8" font-size="16.3" text-anchor="end">0</text>
<text x="406.3" y="1013.0" font-size="17.7" text-anchor="middle" transform="rotate(-90 406.3 1013.0)">S Protein Cleavage [%]</text>
<text x="494.4" y="1140.8" font-size="16.8" text-anchor="end" transform="rotate(-90 494.4 1140.8)" fill="#111" style="font-weight:normal" stroke="#111" stroke-width="0.85" letter-spacing="0.35">B.1</text>
<text x="542.6" y="1140.8" font-size="16.8" text-anchor="end" transform="rotate(-90 542.6 1140.8)" fill="#111" style="font-weight:normal" stroke="#111" stroke-width="0.85" letter-spacing="0.35">B.1.617.2</text>
<text x="589.8" y="1140.8" font-size="16.8" text-anchor="end" transform="rotate(-90 589.8 1140.8)" fill="#111" style="font-weight:normal" stroke="#111" stroke-width="0.85" letter-spacing="0.35">AY.4.2</text>
<path d="M488.2,937 V900.1 H560 V906.4 M520.3,906.4 H599.2" stroke="#000" stroke-width="2" fill="none" />
<path d="M535,942 V935.3 H584.9 V942" stroke="#000" stroke-width="2" fill="none" />
<text x="535.9" y="917.4" font-size="17" text-anchor="middle" fill="#111" style="font-weight:normal" stroke="#111" stroke-width="0.85" letter-spacing="0.35">ns</text>
<text x="583.7" y="917.4" font-size="17" text-anchor="middle" fill="#111" style="font-weight:normal" stroke="#111" stroke-width="0.85" letter-spacing="0.35">ns</text>
<text x="559.6" y="931.3" font-size="17" text-anchor="middle" fill="#111" style="font-weight:normal" stroke="#111" stroke-width="0.85" letter-spacing="0.35">ns</text>
<line x1="488.6" y1="957.2" x2="488.6" y2="967.0" stroke="#000" stroke-width="2.2" />
<line x1="480.6" y1="957.2" x2="496.6" y2="957.2" stroke="#000" stroke-width="2.2" />
<line x1="480.6" y1="967.0" x2="496.6" y2="967.0" stroke="#000" stroke-width="2.2" />
<line x1="536.2" y1="951.6" x2="536.2" y2="955.4" stroke="#000" stroke-width="2.2" />
<line x1="528.2" y1="951.6" x2="544.2" y2="951.6" stroke="#000" stroke-width="2.2" />
<line x1="528.2" y1="955.4" x2="544.2" y2="955.4" stroke="#000" stroke-width="2.2" />
<line x1="584.0" y1="956.8" x2="584.0" y2="965.0" stroke="#000" stroke-width="2.2" />
<line x1="576.0" y1="956.8" x2="592.0" y2="956.8" stroke="#000" stroke-width="2.2" />
<line x1="576.0" y1="965.0" x2="592.0" y2="965.0" stroke="#000" stroke-width="2.2" />
<circle cx="488.6" cy="953.1" r="3.45" fill="#fff" stroke="#000" stroke-width="2.2" />
<circle cx="483.3" cy="967.5" r="3.45" fill="#fff" stroke="#000" stroke-width="2.2" />
<circle cx="494.0" cy="966.5" r="3.45" fill="#fff" stroke="#000" stroke-width="2.2" />
<circle cx="525.7" cy="951.0" r="3.45" fill="#fff" stroke="#000" stroke-width="2.2" />
<circle cx="536.2" cy="957.2" r="3.45" fill="#fff" stroke="#000" stroke-width="2.2" />
<circle cx="547.1" cy="952.7" r="3.45" fill="#fff" stroke="#000" stroke-width="2.2" />
<circle cx="584.0" cy="953.6" r="3.45" fill="#fff" stroke="#000" stroke-width="2.2" />
<circle cx="589.4" cy="961.7" r="3.45" fill="#fff" stroke="#000" stroke-width="2.2" />
<circle cx="578.7" cy="967.5" r="3.45" fill="#fff" stroke="#000" stroke-width="2.2" />
</g>
<g id="pf">
<text x="700.5" y="866.0" font-size="31">f</text>
<text x="718.0" y="1012.4" font-size="18.3" text-anchor="middle" transform="rotate(-90 718.0 1012.4)" fill="#111" style="font-weight:normal" stroke="#111" stroke-width="0.85" letter-spacing="0.35">Pseudotype Entry</text>
<text x="740.5" y="1012.4" font-size="18.3" text-anchor="middle" transform="rotate(-90 740.5 1012.4)" fill="#111" style="font-weight:normal" stroke="#111" stroke-width="0.85" letter-spacing="0.35">[Fold Change to B.1]</text>
<rect x="801.5" y="1051.5" width="31.4" height="79.1" fill="#333333" />
<rect x="849.2" y="1036.5" width="31.4" height="94.1" fill="#fc9f42" />
<rect x="896.5" y="1011.2" width="31.4" height="119.4" fill="#5a57f6" />
<rect x="786.1" y="893.3" width="157.8" height="237.3" fill="none" stroke="#000" stroke-width="2"/>
<line x1="786.1" y1="1051.9" x2="943.9" y2="1051.9" stroke="#000" stroke-width="2.4" stroke-dasharray="6.5 5.4"/>
<line x1="779.1" y1="1130.6" x2="786.1" y2="1130.6" stroke="#000" stroke-width="2" />
<text x="775.6" y="1136.4" font-size="16.3" text-anchor="end" fill="#111" style="font-weight:normal" stroke="#111" stroke-width="0.85" letter-spacing="0.35">0.0</text>
<line x1="779.1" y1="1091.0" x2="786.1" y2="1091.0" stroke="#000" stroke-width="2" />
<text x="775.6" y="1096.8" font-size="16.3" text-anchor="end" fill="#111" style="font-weight:normal" stroke="#111" stroke-width="0.85" letter-spacing="0.35">0.5</text>
<line x1="779.1" y1="1051.5" x2="786.1" y2="1051.5" stroke="#000" stroke-width="2" />
<text x="775.6" y="1057.3" font-size="16.3" text-anchor="end" fill="#111" style="font-weight:normal" stroke="#111" stroke-width="0.85" letter-spacing="0.35">1.0</text>
<line x1="779.1" y1="1011.9" x2="786.1" y2="1011.9" stroke="#000" stroke-width="2" />
<text x="775.6" y="1017.7" font-size="16.3" text-anchor="end" fill="#111" style="font-weight:normal" stroke="#111" stroke-width="0.85" letter-spacing="0.35">1.5</text>
<line x1="779.1" y1="972.4" x2="786.1" y2="972.4" stroke="#000" stroke-width="2" />
<text x="775.6" y="978.2" font-size="16.3" text-anchor="end" fill="#111" style="font-weight:normal" stroke="#111" stroke-width="0.85" letter-spacing="0.35">2.0</text>
<line x1="779.1" y1="932.8" x2="786.1" y2="932.8" stroke="#000" stroke-width="2" />
<text x="775.6" y="938.6" font-size="16.3" text-anchor="end" fill="#111" style="font-weight:normal" stroke="#111" stroke-width="0.85" letter-spacing="0.35">2.5</text>
<line x1="779.1" y1="893.3" x2="786.1" y2="893.3" stroke="#000" stroke-width="2" />
<text x="775.6" y="899.1" font-size="16.3" text-anchor="end" fill="#111" style="font-weight:normal" stroke="#111" stroke-width="0.85" letter-spacing="0.35">3.0</text>
<text x="791.6" y="914.3" font-size="16.8" fill="#111" style="font-weight:normal" stroke="#111" stroke-width="0.85" letter-spacing="0.35">293T</text>
<text x="823.0" y="1140.3" font-size="16.5" text-anchor="end" transform="rotate(-90 823.0 1140.3)" fill="#111" style="font-weight:normal" stroke="#111" stroke-width="0.85" letter-spacing="0.35">B.1</text>
<text x="870.7" y="1140.3" font-size="16.5" text-anchor="end" transform="rotate(-90 870.7 1140.3)" fill="#111" style="font-weight:normal" stroke="#111" stroke-width="0.85" letter-spacing="0.35">B.1.617.2</text>
<text x="918.0" y="1140.3" font-size="16.5" text-anchor="end" transform="rotate(-90 918.0 1140.3)" fill="#111" style="font-weight:normal" stroke="#111" stroke-width="0.85" letter-spacing="0.35">AY.4.2</text>
<path d="M817,1033.4 V924.1 H890.4 V932.5 M849.8,932.5 H924.9" stroke="#000" stroke-width="2" fill="none" />
<path d="M864.3,969.5 V962.2 H912.3 V969.5" stroke="#000" stroke-width="2" fill="none" />
<text x="865.7" y="946.5" font-size="17.3" text-anchor="middle" fill="#111" style="font-weight:normal" stroke="#111" stroke-width="0.85" letter-spacing="0.35">ns</text>
<text x="912.3" y="946.5" font-size="17.3" text-anchor="middle" fill="#111" style="font-weight:normal" stroke="#111" stroke-width="0.85" letter-spacing="0.35">ns</text>
<text x="888.2" y="956.3" font-size="17.3" text-anchor="middle" fill="#111" style="font-weight:normal" stroke="#111" stroke-width="0.85" letter-spacing="0.35">ns</text>
<line x1="864.9" y1="1026.4" x2="864.9" y2="1047.4" stroke="#000" stroke-width="2.2" />
<line x1="857.0" y1="1026.4" x2="872.8" y2="1026.4" stroke="#000" stroke-width="2.2" />
<line x1="857.0" y1="1047.4" x2="872.8" y2="1047.4" stroke="#000" stroke-width="2.2" />
<line x1="912.2" y1="997.0" x2="912.2" y2="1026.4" stroke="#000" stroke-width="2.2" />
<line x1="904.3" y1="997.0" x2="920.1" y2="997.0" stroke="#000" stroke-width="2.2" />
<line x1="904.3" y1="1026.4" x2="920.1" y2="1026.4" stroke="#000" stroke-width="2.2" />
<circle cx="805.5" cy="1051.6" r="3.65" fill="#fff" stroke="#000" stroke-width="2.2" />
<circle cx="813.3" cy="1051.6" r="3.65" fill="#fff" stroke="#000" stroke-width="2.2" />
<circle cx="821.2" cy="1051.6" r="3.65" fill="#fff" stroke="#000" stroke-width="2.2" />
<circle cx="829.0" cy="1051.6" r="3.65" fill="#fff" stroke="#000" stroke-width="2.2" />
<circle cx="859.6" cy="1020.8" r="3.65" fill="#fff" stroke="#000" stroke-width="2.2" />
<circle cx="870.2" cy="1019.4" r="3.65" fill="#fff" stroke="#000" stroke-width="2.2" />
<circle cx="864.9" cy="1039.6" r="3.65" fill="#fff" stroke="#000" stroke-width="2.2" />
<circle cx="864.9" cy="1067.0" r="3.65" fill="#fff" stroke="#000" stroke-width="2.2" />
<circle cx="912.3" cy="977.3" r="3.65" fill="#fff" stroke="#000" stroke-width="2.2" />
<circle cx="912.3" cy="1002.0" r="3.65" fill="#fff" stroke="#000" stroke-width="2.2" />
<circle cx="912.3" cy="1023.6" r="3.65" fill="#fff" stroke="#000" stroke-width="2.2" />
<circle cx="912.3" cy="1044.6" r="3.65" fill="#fff" stroke="#000" stroke-width="2.2" />
<rect x="1005.3" y="1071.3" width="31.4" height="59.3" fill="#333333" />
<rect x="1053.0" y="1023.8" width="31.4" height="106.8" fill="#fc9f42" />
<rect x="1100.3" y="1022.6" width="31.4" height="108.0" fill="#5a57f6" />
<rect x="989.9" y="893.3" width="157.8" height="237.3" fill="none" stroke="#000" stroke-width="2"/>
<line x1="989.9" y1="1071.7" x2="1147.7" y2="1071.7" stroke="#000" stroke-width="2.4" stroke-dasharray="6.5 5.4"/>
<line x1="982.9" y1="1130.6" x2="989.9" y2="1130.6" stroke="#000" stroke-width="2" />
<text x="979.4" y="1136.4" font-size="16.3" text-anchor="end" fill="#111" style="font-weight:normal" stroke="#111" stroke-width="0.85" letter-spacing="0.35">0</text>
<line x1="982.9" y1="1071.3" x2="989.9" y2="1071.3" stroke="#000" stroke-width="2" />
<text x="979.4" y="1077.1" font-size="16.3" text-anchor="end" fill="#111" style="font-weight:normal" stroke="#111" stroke-width="0.85" letter-spacing="0.35">1</text>
<line x1="982.9" y1="1011.9" x2="989.9" y2="1011.9" stroke="#000" stroke-width="2" />
<text x="979.4" y="1017.7" font-size="16.3" text-anchor="end" fill="#111" style="font-weight:normal" stroke="#111" stroke-width="0.85" letter-spacing="0.35">2</text>
<line x1="982.9" y1="952.6" x2="989.9" y2="952.6" stroke="#000" stroke-width="2" />
<text x="979.4" y="958.4" font-size="16.3" text-anchor="end" fill="#111" style="font-weight:normal" stroke="#111" stroke-width="0.85" letter-spacing="0.35">3</text>
<line x1="982.9" y1="893.3" x2="989.9" y2="893.3" stroke="#000" stroke-width="2" />
<text x="979.4" y="899.1" font-size="16.3" text-anchor="end" fill="#111" style="font-weight:normal" stroke="#111" stroke-width="0.85" letter-spacing="0.35">4</text>
<text x="995.4" y="914.3" font-size="16.8" fill="#111" style="font-weight:normal" stroke="#111" stroke-width="0.85" letter-spacing="0.35">Caco-2</text>
<text x="1026.8" y="1140.3" font-size="16.5" text-anchor="end" transform="rotate(-90 1026.8 1140.3)" fill="#111" style="font-weight:normal" stroke="#111" stroke-width="0.85" letter-spacing="0.35">B.1</text>
<text x="1074.5" y="1140.3" font-size="16.5" text-anchor="end" transform="rotate(-90 1074.5 1140.3)" fill="#111" style="font-weight:normal" stroke="#111" stroke-width="0.85" letter-spacing="0.35">B.1.617.2</text>
<text x="1121.8" y="1140.3" font-size="16.5" text-anchor="end" transform="rotate(-90 1121.8 1140.3)" fill="#111" style="font-weight:normal" stroke="#111" stroke-width="0.85" letter-spacing="0.35">AY.4.2</text>
<path d="M1020.7,1057.2 V924.1 H1093.9 V932.5 M1053.8,932.5 H1128.5" stroke="#000" stroke-width="2" fill="none" />
<path d="M1068.4,979.3 V971.2 H1115.2 V979.3" stroke="#000" stroke-width="2" fill="none" />
<text x="1069.8" y="957.0" font-size="28" text-anchor="middle" style="font-weight:normal" stroke="#000" stroke-width="0.8" letter-spacing="2.8">**</text>
<text x="1116.4" y="957.0" font-size="28" text-anchor="middle" style="font-weight:normal" stroke="#000" stroke-width="0.8" letter-spacing="2.8">***</text>
<text x="1091.3" y="966.0" font-size="17.3" text-anchor="middle" fill="#111" style="font-weight:normal" stroke="#111" stroke-width="0.85" letter-spacing="0.35">ns</text>
<line x1="1068.7" y1="1015.2" x2="1068.7" y2="1031.4" stroke="#000" stroke-width="2.2" />
<line x1="1060.8" y1="1015.2" x2="1076.6" y2="1015.2" stroke="#000" stroke-width="2.2" />
<line x1="1060.8" y1="1031.4" x2="1076.6" y2="1031.4" stroke="#000" stroke-width="2.2" />
<line x1="1116.0" y1="1018.0" x2="1116.0" y2="1027.8" stroke="#000" stroke-width="2.2" />
<line x1="1108.1" y1="1018.0" x2="1123.9" y2="1018.0" stroke="#000" stroke-width="2.2" />
<line x1="1108.1" y1="1027.8" x2="1123.9" y2="1027.8" stroke="#000" stroke-width="2.2" />
<circle cx="1010.3" cy="1071.8" r="3.65" fill="#fff" stroke="#000" stroke-width="2.2" />
<circle cx="1016.0" cy="1071.8" r="3.65" fill="#fff" stroke="#000" stroke-width="2.2" />
<circle cx="1021.0" cy="1071.8" r="3.65" fill="#fff" stroke="#000" stroke-width="2.2" />
<circle cx="1026.0" cy="1071.8" r="3.65" fill="#fff" stroke="#000" stroke-width="2.2" />
<circle cx="1031.4" cy="1071.8" r="3.65" fill="#fff" stroke="#000" stroke-width="2.2" />
<circle cx="1068.4" cy="994.1" r="3.65" fill="#fff" stroke="#000" stroke-width="2.2" />
<circle cx="1057.4" cy="1025.8" r="3.65" fill="#fff" stroke="#000" stroke-width="2.2" />
<circle cx="1079.3" cy="1022.7" r="3.65" fill="#fff" stroke="#000" stroke-width="2.2" />
<circle cx="1068.4" cy="1030.6" r="3.65" fill="#fff" stroke="#000" stroke-width="2.2" />
<circle cx="1068.4" cy="1044.0" r="3.65" fill="#fff" stroke="#000" stroke-width="2.2" />
<circle cx="1110.1" cy="1007.3" r="3.65" fill="#fff" stroke="#000" stroke-width="2.2" />
<circle cx="1104.8" cy="1025.0" r="3.65" fill="#fff" stroke="#000" stroke-width="2.2" />
<circle cx="1121.0" cy="1017.4" r="3.65" fill="#fff" stroke="#000" stroke-width="2.2" />
<circle cx="1115.7" cy="1033.9" r="3.65" fill="#fff" stroke="#000" stroke-width="2.2" />
<circle cx="1126.1" cy="1031.4" r="3.65" fill="#fff" stroke="#000" stroke-width="2.2" />
<rect x="1214.1" y="1083.1" width="31.4" height="47.5" fill="#333333" />
<rect x="1261.8" y="1025.7" width="31.4" height="104.9" fill="#fc9f42" />
<rect x="1309.1" y="1036.2" width="31.4" height="94.4" fill="#5a57f6" />
<rect x="1198.7" y="893.3" width="157.8" height="237.3" fill="none" stroke="#000" stroke-width="2"/>
<line x1="1198.7" y1="1083.5" x2="1356.5" y2="1083.5" stroke="#000" stroke-width="2.4" stroke-dasharray="6.5 5.4"/>
<line x1="1191.7" y1="1130.6" x2="1198.7" y2="1130.6" stroke="#000" stroke-width="2" />
<text x="1188.2" y="1136.4" font-size="16.3" text-anchor="end" fill="#111" style="font-weight:normal" stroke="#111" stroke-width="0.85" letter-spacing="0.35">0</text>
<line x1="1191.7" y1="1083.1" x2="1198.7" y2="1083.1" stroke="#000" stroke-width="2" />
<text x="1188.2" y="1088.9" font-size="16.3" text-anchor="end" fill="#111" style="font-weight:normal" stroke="#111" stroke-width="0.85" letter-spacing="0.35">1</text>
<line x1="1191.7" y1="1035.7" x2="1198.7" y2="1035.7" stroke="#000" stroke-width="2" />
<text x="1188.2" y="1041.5" font-size="16.3" text-anchor="end" fill="#111" style="font-weight:normal" stroke="#111" stroke-width="0.85" letter-spacing="0.35">2</text>
<line x1="1191.7" y1="988.2" x2="1198.7" y2="988.2" stroke="#000" stroke-width="2" />
<text x="1188.2" y="994.0" font-size="16.3" text-anchor="end" fill="#111" style="font-weight:normal" stroke="#111" stroke-width="0.85" letter-spacing="0.35">3</text>
<line x1="1191.7" y1="940.8" x2="1198.7" y2="940.8" stroke="#000" stroke-width="2" />
<text x="1188.2" y="946.6" font-size="16.3" text-anchor="end" fill="#111" style="font-weight:normal" stroke="#111" stroke-width="0.85" letter-spacing="0.35">4</text>
<line x1="1191.7" y1="893.3" x2="1198.7" y2="893.3" stroke="#000" stroke-width="2" />
<text x="1188.2" y="899.1" font-size="16.3" text-anchor="end" fill="#111" style="font-weight:normal" stroke="#111" stroke-width="0.85" letter-spacing="0.35">5</text>
<text x="1204.2" y="914.3" font-size="16.8" fill="#111" style="font-weight:normal" stroke="#111" stroke-width="0.85" letter-spacing="0.35">Calu-3</text>
<text x="1235.6" y="1140.3" font-size="16.5" text-anchor="end" transform="rotate(-90 1235.6 1140.3)" fill="#111" style="font-weight:normal" stroke="#111" stroke-width="0.85" letter-spacing="0.35">B.1</text>
<text x="1283.3" y="1140.3" font-size="16.5" text-anchor="end" transform="rotate(-90 1283.3 1140.3)" fill="#111" style="font-weight:normal" stroke="#111" stroke-width="0.85" letter-spacing="0.35">B.1.617.2</text>
<text x="1330.6" y="1140.3" font-size="16.5" text-anchor="end" transform="rotate(-90 1330.6 1140.3)" fill="#111" style="font-weight:normal" stroke="#111" stroke-width="0.85" letter-spacing="0.35">AY.4.2</text>
<path d="M1229.5,1068.4 V924.1 H1302.9 V932.5 M1262.6,932.5 H1336.8" stroke="#000" stroke-width="2" fill="none" />
<path d="M1277.1,979.3 V971.2 H1324.2 V979.3" stroke="#000" stroke-width="2" fill="none" />
<text x="1279.1" y="957.0" font-size="28" text-anchor="middle" style="font-weight:normal" stroke="#000" stroke-width="0.8" letter-spacing="2.8">*</text>
<text x="1324.2" y="947.9" font-size="17.3" text-anchor="middle" fill="#111" style="font-weight:normal" stroke="#111" stroke-width="0.85" letter-spacing="0.35">ns</text>
<text x="1300.1" y="966.0" font-size="17.3" text-anchor="middle" fill="#111" style="font-weight:normal" stroke="#111" stroke-width="0.85" letter-spacing="0.35">ns</text>
<line x1="1277.5" y1="1011.0" x2="1277.5" y2="1039.8" stroke="#000" stroke-width="2.2" />
<line x1="1269.6" y1="1011.0" x2="1285.4" y2="1011.0" stroke="#000" stroke-width="2.2" />
<line x1="1269.6" y1="1039.8" x2="1285.4" y2="1039.8" stroke="#000" stroke-width="2.2" />
<line x1="1324.8" y1="1017.4" x2="1324.8" y2="1054.4" stroke="#000" stroke-width="2.2" />
<line x1="1316.9" y1="1017.4" x2="1332.7" y2="1017.4" stroke="#000" stroke-width="2.2" />
<line x1="1316.9" y1="1054.4" x2="1332.7" y2="1054.4" stroke="#000" stroke-width="2.2" />
<circle cx="1218.0" cy="1083.3" r="3.65" fill="#fff" stroke="#000" stroke-width="2.2" />
<circle cx="1225.9" cy="1083.3" r="3.65" fill="#fff" stroke="#000" stroke-width="2.2" />
<circle cx="1233.7" cy="1083.3" r="3.65" fill="#fff" stroke="#000" stroke-width="2.2" />
<circle cx="1241.5" cy="1083.3" r="3.65" fill="#fff" stroke="#000" stroke-width="2.2" />
<circle cx="1277.4" cy="993.3" r="3.65" fill="#fff" stroke="#000" stroke-width="2.2" />
<circle cx="1272.1" cy="1022.7" r="3.65" fill="#fff" stroke="#000" stroke-width="2.2" />
<circle cx="1282.7" cy="1024.4" r="3.65" fill="#fff" stroke="#000" stroke-width="2.2" />
<circle cx="1277.4" cy="1063.1" r="3.65" fill="#fff" stroke="#000" stroke-width="2.2" />
<circle cx="1324.5" cy="986.6" r="3.65" fill="#fff" stroke="#000" stroke-width="2.2" />
<circle cx="1319.5" cy="1039.0" r="3.65" fill="#fff" stroke="#000" stroke-width="2.2" />
<circle cx="1329.8" cy="1043.8" r="3.65" fill="#fff" stroke="#000" stroke-width="2.2" />
<circle cx="1324.5" cy="1075.4" r="3.65" fill="#fff" stroke="#000" stroke-width="2.2" />
<rect x="1427.1" y="1096.7" width="31.4" height="33.9" fill="#333333" />
<rect x="1474.8" y="1075.3" width="31.4" height="55.3" fill="#fc9f42" />
<rect x="1522.1" y="1028.9" width="31.4" height="101.7" fill="#5a57f6" />
<rect x="1411.7" y="893.3" width="157.8" height="237.3" fill="none" stroke="#000" stroke-width="2"/>
<line x1="1411.7" y1="1097.1" x2="1569.5" y2="1097.1" stroke="#000" stroke-width="2.4" stroke-dasharray="6.5 5.4"/>
<line x1="1404.7" y1="1130.6" x2="1411.7" y2="1130.6" stroke="#000" stroke-width="2" />
<text x="1401.2" y="1136.4" font-size="16.3" text-anchor="end" fill="#111" style="font-weight:normal" stroke="#111" stroke-width="0.85" letter-spacing="0.35">0</text>
<line x1="1404.7" y1="1096.7" x2="1411.7" y2="1096.7" stroke="#000" stroke-width="2" />
<text x="1401.2" y="1102.5" font-size="16.3" text-anchor="end" fill="#111" style="font-weight:normal" stroke="#111" stroke-width="0.85" letter-spacing="0.35">1</text>
<line x1="1404.7" y1="1062.8" x2="1411.7" y2="1062.8" stroke="#000" stroke-width="2" />
<text x="1401.2" y="1068.6" font-size="16.3" text-anchor="end" fill="#111" style="font-weight:normal" stroke="#111" stroke-width="0.85" letter-spacing="0.35">2</text>
<line x1="1404.7" y1="1028.9" x2="1411.7" y2="1028.9" stroke="#000" stroke-width="2" />
<text x="1401.2" y="1034.7" font-size="16.3" text-anchor="end" fill="#111" style="font-weight:normal" stroke="#111" stroke-width="0.85" letter-spacing="0.35">3</text>
<line x1="1404.7" y1="995.0" x2="1411.7" y2="995.0" stroke="#000" stroke-width="2" />
<text x="1401.2" y="1000.8" font-size="16.3" text-anchor="end" fill="#111" style="font-weight:normal" stroke="#111" stroke-width="0.85" letter-spacing="0.35">4</text>
<line x1="1404.7" y1="961.1" x2="1411.7" y2="961.1" stroke="#000" stroke-width="2" />
<text x="1401.2" y="966.9" font-size="16.3" text-anchor="end" fill="#111" style="font-weight:normal" stroke="#111" stroke-width="0.85" letter-spacing="0.35">5</text>
<line x1="1404.7" y1="927.2" x2="1411.7" y2="927.2" stroke="#000" stroke-width="2" />
<text x="1401.2" y="933.0" font-size="16.3" text-anchor="end" fill="#111" style="font-weight:normal" stroke="#111" stroke-width="0.85" letter-spacing="0.35">6</text>
<line x1="1404.7" y1="893.3" x2="1411.7" y2="893.3" stroke="#000" stroke-width="2" />
<text x="1401.2" y="899.1" font-size="16.3" text-anchor="end" fill="#111" style="font-weight:normal" stroke="#111" stroke-width="0.85" letter-spacing="0.35">7</text>
<text x="1417.2" y="914.3" font-size="16.8" fill="#111" style="font-weight:normal" stroke="#111" stroke-width="0.85" letter-spacing="0.35">Huh-7</text>
<text x="1448.6" y="1140.3" font-size="16.5" text-anchor="end" transform="rotate(-90 1448.6 1140.3)" fill="#111" style="font-weight:normal" stroke="#111" stroke-width="0.85" letter-spacing="0.35">B.1</text>
<text x="1496.3" y="1140.3" font-size="16.5" text-anchor="end" transform="rotate(-90 1496.3 1140.3)" fill="#111" style="font-weight:normal" stroke="#111" stroke-width="0.85" letter-spacing="0.35">B.1.617.2</text>
<text x="1543.6" y="1140.3" font-size="16.5" text-anchor="end" transform="rotate(-90 1543.6 1140.3)" fill="#111" style="font-weight:normal" stroke="#111" stroke-width="0.85" letter-spacing="0.35">AY.4.2</text>
<path d="M1442.8,1082.4 V931.4 H1515.9 V939.5 M1474.7,939.5 H1549.6" stroke="#000" stroke-width="2" fill="none" />
<path d="M1490.1,976.8 V968.9 H1537 V976.8" stroke="#000" stroke-width="2" fill="none" />
<text x="1490.1" y="953.5" font-size="17.3" text-anchor="middle" fill="#111" style="font-weight:normal" stroke="#111" stroke-width="0.85" letter-spacing="0.35">ns</text>
<text x="1538.4" y="963.5" font-size="28" text-anchor="middle" style="font-weight:normal" stroke="#000" stroke-width="0.8" letter-spacing="2.8">*</text>
<text x="1513.1" y="963.9" font-size="17.3" text-anchor="middle" fill="#111" style="font-weight:normal" stroke="#111" stroke-width="0.85" letter-spacing="0.35">ns</text>
<line x1="1490.5" y1="1065.9" x2="1490.5" y2="1083.8" stroke="#000" stroke-width="2.2" />
<line x1="1482.6" y1="1065.9" x2="1498.4" y2="1065.9" stroke="#000" stroke-width="2.2" />
<line x1="1482.6" y1="1083.8" x2="1498.4" y2="1083.8" stroke="#000" stroke-width="2.2" />
<line x1="1537.8" y1="1011.8" x2="1537.8" y2="1045.4" stroke="#000" stroke-width="2.2" />
<line x1="1529.9" y1="1011.8" x2="1545.7" y2="1011.8" stroke="#000" stroke-width="2.2" />
<line x1="1529.9" y1="1045.4" x2="1545.7" y2="1045.4" stroke="#000" stroke-width="2.2" />
<circle cx="1430.7" cy="1097.0" r="3.65" fill="#fff" stroke="#000" stroke-width="2.2" />
<circle cx="1438.6" cy="1097.0" r="3.65" fill="#fff" stroke="#000" stroke-width="2.2" />
<circle cx="1446.4" cy="1097.0" r="3.65" fill="#fff" stroke="#000" stroke-width="2.2" />
<circle cx="1454.3" cy="1097.0" r="3.65" fill="#fff" stroke="#000" stroke-width="2.2" />
<circle cx="1489.9" cy="1049.6" r="3.65" fill="#fff" stroke="#000" stroke-width="2.2" />
<circle cx="1479.2" cy="1081.0" r="3.65" fill="#fff" stroke="#000" stroke-width="2.2" />
<circle cx="1500.5" cy="1081.0" r="3.65" fill="#fff" stroke="#000" stroke-width="2.2" />
<circle cx="1489.9" cy="1088.9" r="3.65" fill="#fff" stroke="#000" stroke-width="2.2" />
<circle cx="1537.2" cy="988.8" r="3.65" fill="#fff" stroke="#000" stroke-width="2.2" />
<circle cx="1537.2" cy="1018.5" r="3.65" fill="#fff" stroke="#000" stroke-width="2.2" />
<circle cx="1537.2" cy="1040.7" r="3.65" fill="#fff" stroke="#000" stroke-width="2.2" />
<circle cx="1537.2" cy="1065.9" r="3.65" fill="#fff" stroke="#000" stroke-width="2.2" />
</g>
<g id="pg">
<text x="1.2" y="1261.8" font-size="31">g</text>
<rect x="81.9" y="1480.9" width="222.4" height="37.1" fill="#d3d3d3" />
<line x1="74.9" y1="1295.6" x2="81.9" y2="1295.6" stroke="#000" stroke-width="2" />
<text x="71.4" y="1301.4" font-size="16.3" text-anchor="end" fill="#111">125</text>
<line x1="74.9" y1="1332.7" x2="81.9" y2="1332.7" stroke="#000" stroke-width="2" />
<text x="71.4" y="1338.5" font-size="16.3" text-anchor="end" fill="#111">100</text>
<line x1="74.9" y1="1369.7" x2="81.9" y2="1369.7" stroke="#000" stroke-width="2" />
<text x="71.4" y="1375.5" font-size="16.3" text-anchor="end" fill="#111">75</text>
<line x1="74.9" y1="1406.8" x2="81.9" y2="1406.8" stroke="#000" stroke-width="2" />
<text x="71.4" y="1412.6" font-size="16.3" text-anchor="end" fill="#111">50</text>
<line x1="74.9" y1="1443.9" x2="81.9" y2="1443.9" stroke="#000" stroke-width="2" />
<text x="71.4" y="1449.7" font-size="16.3" text-anchor="end" fill="#111">25</text>
<line x1="74.9" y1="1480.9" x2="81.9" y2="1480.9" stroke="#000" stroke-width="2" />
<text x="71.4" y="1486.7" font-size="16.3" text-anchor="end" fill="#111">0</text>
<line x1="74.9" y1="1518.0" x2="81.9" y2="1518.0" stroke="#000" stroke-width="2" />
<text x="71.4" y="1523.8" font-size="16.3" text-anchor="end" fill="#111">-25</text>
<line x1="81.9" y1="1518.0" x2="81.9" y2="1525.0" stroke="#000" stroke-width="2" />
<text x="66.6" y="1543.6" font-size="16.3" fill="#111">10<tspan font-size="10.3" dy="-5.4" dx="1.6">-5</tspan></text>
<line x1="93.1" y1="1518.0" x2="93.1" y2="1521.6" stroke="#000" stroke-width="1.9" />
<line x1="99.6" y1="1518.0" x2="99.6" y2="1521.6" stroke="#000" stroke-width="1.9" />
<line x1="104.2" y1="1518.0" x2="104.2" y2="1521.6" stroke="#000" stroke-width="1.9" />
<line x1="107.8" y1="1518.0" x2="107.8" y2="1521.6" stroke="#000" stroke-width="1.9" />
<line x1="110.7" y1="1518.0" x2="110.7" y2="1521.6" stroke="#000" stroke-width="1.9" />
<line x1="113.2" y1="1518.0" x2="113.2" y2="1521.6" stroke="#000" stroke-width="1.9" />
<line x1="115.4" y1="1518.0" x2="115.4" y2="1521.6" stroke="#000" stroke-width="1.9" />
<line x1="117.3" y1="1518.0" x2="117.3" y2="1521.6" stroke="#000" stroke-width="1.9" />
<line x1="119.0" y1="1518.0" x2="119.0" y2="1525.0" stroke="#000" stroke-width="2" />
<text x="103.7" y="1543.6" font-size="16.3" fill="#111">10<tspan font-size="10.3" dy="-5.4" dx="1.6">-4</tspan></text>
<line x1="130.1" y1="1518.0" x2="130.1" y2="1521.6" stroke="#000" stroke-width="1.9" />
<line x1="136.7" y1="1518.0" x2="136.7" y2="1521.6" stroke="#000" stroke-width="1.9" />
<line x1="141.3" y1="1518.0" x2="141.3" y2="1521.6" stroke="#000" stroke-width="1.9" />
<line x1="144.9" y1="1518.0" x2="144.9" y2="1521.6" stroke="#000" stroke-width="1.9" />
<line x1="147.8" y1="1518.0" x2="147.8" y2="1521.6" stroke="#000" stroke-width="1.9" />
<line x1="150.3" y1="1518.0" x2="150.3" y2="1521.6" stroke="#000" stroke-width="1.9" />
<line x1="152.4" y1="1518.0" x2="152.4" y2="1521.6" stroke="#000" stroke-width="1.9" />
<line x1="154.3" y1="1518.0" x2="154.3" y2="1521.6" stroke="#000" stroke-width="1.9" />
<line x1="156.0" y1="1518.0" x2="156.0" y2="1525.0" stroke="#000" stroke-width="2" />
<text x="140.7" y="1543.6" font-size="16.3" fill="#111">10<tspan font-size="10.3" dy="-5.4" dx="1.6">-3</tspan></text>
<line x1="167.2" y1="1518.0" x2="167.2" y2="1521.6" stroke="#000" stroke-width="1.9" />
<line x1="173.7" y1="1518.0" x2="173.7" y2="1521.6" stroke="#000" stroke-width="1.9" />
<line x1="178.3" y1="1518.0" x2="178.3" y2="1521.6" stroke="#000" stroke-width="1.9" />
<line x1="181.9" y1="1518.0" x2="181.9" y2="1521.6" stroke="#000" stroke-width="1.9" />
<line x1="184.9" y1="1518.0" x2="184.9" y2="1521.6" stroke="#000" stroke-width="1.9" />
<line x1="187.4" y1="1518.0" x2="187.4" y2="1521.6" stroke="#000" stroke-width="1.9" />
<line x1="189.5" y1="1518.0" x2="189.5" y2="1521.6" stroke="#000" stroke-width="1.9" />
<line x1="191.4" y1="1518.0" x2="191.4" y2="1521.6" stroke="#000" stroke-width="1.9" />
<line x1="193.1" y1="1518.0" x2="193.1" y2="1525.0" stroke="#000" stroke-width="2" />
<text x="177.8" y="1543.6" font-size="16.3" fill="#111">10<tspan font-size="10.3" dy="-5.4" dx="1.6">-2</tspan></text>
<line x1="204.3" y1="1518.0" x2="204.3" y2="1521.6" stroke="#000" stroke-width="1.9" />
<line x1="210.8" y1="1518.0" x2="210.8" y2="1521.6" stroke="#000" stroke-width="1.9" />
<line x1="215.4" y1="1518.0" x2="215.4" y2="1521.6" stroke="#000" stroke-width="1.9" />
<line x1="219.0" y1="1518.0" x2="219.0" y2="1521.6" stroke="#000" stroke-width="1.9" />
<line x1="221.9" y1="1518.0" x2="221.9" y2="1521.6" stroke="#000" stroke-width="1.9" />
<line x1="224.4" y1="1518.0" x2="224.4" y2="1521.6" stroke="#000" stroke-width="1.9" />
<line x1="226.6" y1="1518.0" x2="226.6" y2="1521.6" stroke="#000" stroke-width="1.9" />
<line x1="228.5" y1="1518.0" x2="228.5" y2="1521.6" stroke="#000" stroke-width="1.9" />
<line x1="230.2" y1="1518.0" x2="230.2" y2="1525.0" stroke="#000" stroke-width="2" />
<text x="214.9" y="1543.6" font-size="16.3" fill="#111">10<tspan font-size="10.3" dy="-5.4" dx="1.6">-1</tspan></text>
<line x1="241.3" y1="1518.0" x2="241.3" y2="1521.6" stroke="#000" stroke-width="1.9" />
<line x1="247.9" y1="1518.0" x2="247.9" y2="1521.6" stroke="#000" stroke-width="1.9" />
<line x1="252.5" y1="1518.0" x2="252.5" y2="1521.6" stroke="#000" stroke-width="1.9" />
<line x1="256.1" y1="1518.0" x2="256.1" y2="1521.6" stroke="#000" stroke-width="1.9" />
<line x1="259.0" y1="1518.0" x2="259.0" y2="1521.6" stroke="#000" stroke-width="1.9" />
<line x1="261.5" y1="1518.0" x2="261.5" y2="1521.6" stroke="#000" stroke-width="1.9" />
<line x1="263.6" y1="1518.0" x2="263.6" y2="1521.6" stroke="#000" stroke-width="1.9" />
<line x1="265.5" y1="1518.0" x2="265.5" y2="1521.6" stroke="#000" stroke-width="1.9" />
<line x1="267.2" y1="1518.0" x2="267.2" y2="1525.0" stroke="#000" stroke-width="2" />
<text x="251.9" y="1543.6" font-size="16.3" fill="#111">10<tspan font-size="10.3" dy="-5.4" dx="1.6">0</tspan></text>
<line x1="278.4" y1="1518.0" x2="278.4" y2="1521.6" stroke="#000" stroke-width="1.9" />
<line x1="284.9" y1="1518.0" x2="284.9" y2="1521.6" stroke="#000" stroke-width="1.9" />
<line x1="289.5" y1="1518.0" x2="289.5" y2="1521.6" stroke="#000" stroke-width="1.9" />
<line x1="293.1" y1="1518.0" x2="293.1" y2="1521.6" stroke="#000" stroke-width="1.9" />
<line x1="296.1" y1="1518.0" x2="296.1" y2="1521.6" stroke="#000" stroke-width="1.9" />
<line x1="298.6" y1="1518.0" x2="298.6" y2="1521.6" stroke="#000" stroke-width="1.9" />
<line x1="300.7" y1="1518.0" x2="300.7" y2="1521.6" stroke="#000" stroke-width="1.9" />
<line x1="302.6" y1="1518.0" x2="302.6" y2="1521.6" stroke="#000" stroke-width="1.9" />
<line x1="304.3" y1="1518.0" x2="304.3" y2="1525.0" stroke="#000" stroke-width="2" />
<text x="289.0" y="1543.6" font-size="16.3" fill="#111">10<tspan font-size="10.3" dy="-5.4" dx="1.6">1</tspan></text>
<line x1="81.9" y1="1480.9" x2="304.3" y2="1480.9" stroke="#000" stroke-width="2.3" stroke-dasharray="6.3 4.85"/>
<g clip-path="url(#cp81_1295)"><clipPath id="cp81_1295"><rect x="81.9" y="1295.6" width="222.4" height="222.4"/></clipPath><line x1="93.1" y1="1480.9" x2="278.4" y2="1480.9" stroke="#2e2e2e" stroke-width="2.2" />
<line x1="93.1" y1="1450.8" x2="93.1" y2="1476.2" stroke="#fc9f42" stroke-width="2" />
<line x1="88.8" y1="1450.8" x2="97.4" y2="1450.8" stroke="#fc9f42" stroke-width="2" />
<line x1="88.8" y1="1476.2" x2="97.4" y2="1476.2" stroke="#fc9f42" stroke-width="2" />
<circle cx="93.1" cy="1463.7" r="4.4" fill="#fc9f42" stroke="none" stroke-width="0" />
<line x1="130.1" y1="1486.0" x2="130.1" y2="1530.0" stroke="#fc9f42" stroke-width="2" />
<line x1="125.8" y1="1486.0" x2="134.4" y2="1486.0" stroke="#fc9f42" stroke-width="2" />
<line x1="125.8" y1="1530.0" x2="134.4" y2="1530.0" stroke="#fc9f42" stroke-width="2" />
<circle cx="130.1" cy="1501.9" r="4.4" fill="#fc9f42" stroke="none" stroke-width="0" />
<line x1="167.2" y1="1486.0" x2="167.2" y2="1504.3" stroke="#fc9f42" stroke-width="2" />
<line x1="162.9" y1="1486.0" x2="171.5" y2="1486.0" stroke="#fc9f42" stroke-width="2" />
<line x1="162.9" y1="1504.3" x2="171.5" y2="1504.3" stroke="#fc9f42" stroke-width="2" />
<circle cx="167.2" cy="1494.5" r="4.4" fill="#fc9f42" stroke="none" stroke-width="0" />
<line x1="204.3" y1="1494.0" x2="204.3" y2="1522.0" stroke="#fc9f42" stroke-width="2" />
<line x1="200.0" y1="1494.0" x2="208.6" y2="1494.0" stroke="#fc9f42" stroke-width="2" />
<line x1="200.0" y1="1522.0" x2="208.6" y2="1522.0" stroke="#fc9f42" stroke-width="2" />
<circle cx="204.3" cy="1507.4" r="4.4" fill="#fc9f42" stroke="none" stroke-width="0" />
<line x1="241.3" y1="1478.3" x2="241.3" y2="1530.0" stroke="#fc9f42" stroke-width="2" />
<line x1="237.0" y1="1478.3" x2="245.6" y2="1478.3" stroke="#fc9f42" stroke-width="2" />
<line x1="237.0" y1="1530.0" x2="245.6" y2="1530.0" stroke="#fc9f42" stroke-width="2" />
<circle cx="241.3" cy="1504.3" r="4.4" fill="#fc9f42" stroke="none" stroke-width="0" />
<line x1="278.4" y1="1473.7" x2="278.4" y2="1500.6" stroke="#fc9f42" stroke-width="2" />
<line x1="274.1" y1="1473.7" x2="282.7" y2="1473.7" stroke="#fc9f42" stroke-width="2" />
<line x1="274.1" y1="1500.6" x2="282.7" y2="1500.6" stroke="#fc9f42" stroke-width="2" />
<circle cx="278.4" cy="1487.5" r="4.4" fill="#fc9f42" stroke="none" stroke-width="0" />
<line x1="93.1" y1="1458.5" x2="93.1" y2="1530.0" stroke="#5a57f6" stroke-width="2" />
<line x1="88.8" y1="1458.5" x2="97.4" y2="1458.5" stroke="#5a57f6" stroke-width="2" />
<line x1="88.8" y1="1530.0" x2="97.4" y2="1530.0" stroke="#5a57f6" stroke-width="2" />
<circle cx="93.1" cy="1495.1" r="4.4" fill="#5a57f6" stroke="none" stroke-width="0" />
<line x1="130.1" y1="1457.8" x2="130.1" y2="1522.0" stroke="#5a57f6" stroke-width="2" />
<line x1="125.8" y1="1457.8" x2="134.4" y2="1457.8" stroke="#5a57f6" stroke-width="2" />
<line x1="125.8" y1="1522.0" x2="134.4" y2="1522.0" stroke="#5a57f6" stroke-width="2" />
<circle cx="130.1" cy="1490.0" r="4.4" fill="#5a57f6" stroke="none" stroke-width="0" />
<line x1="167.2" y1="1469.2" x2="167.2" y2="1511.0" stroke="#5a57f6" stroke-width="2" />
<line x1="162.9" y1="1469.2" x2="171.5" y2="1469.2" stroke="#5a57f6" stroke-width="2" />
<line x1="162.9" y1="1511.0" x2="171.5" y2="1511.0" stroke="#5a57f6" stroke-width="2" />
<circle cx="167.2" cy="1490.0" r="4.4" fill="#5a57f6" stroke="none" stroke-width="0" />
<line x1="204.3" y1="1479.2" x2="204.3" y2="1530.0" stroke="#5a57f6" stroke-width="2" />
<line x1="200.0" y1="1479.2" x2="208.6" y2="1479.2" stroke="#5a57f6" stroke-width="2" />
<line x1="200.0" y1="1530.0" x2="208.6" y2="1530.0" stroke="#5a57f6" stroke-width="2" />
<circle cx="204.3" cy="1506.8" r="4.4" fill="#5a57f6" stroke="none" stroke-width="0" />
<line x1="241.3" y1="1469.2" x2="241.3" y2="1540.0" stroke="#5a57f6" stroke-width="2" />
<line x1="237.0" y1="1469.2" x2="245.6" y2="1469.2" stroke="#5a57f6" stroke-width="2" />
<line x1="237.0" y1="1540.0" x2="245.6" y2="1540.0" stroke="#5a57f6" stroke-width="2" />
<circle cx="241.3" cy="1515.9" r="4.4" fill="#5a57f6" stroke="none" stroke-width="0" />
<line x1="93.1" y1="1449.3" x2="93.1" y2="1482.3" stroke="#2e2e2e" stroke-width="2" />
<line x1="88.8" y1="1449.3" x2="97.4" y2="1449.3" stroke="#2e2e2e" stroke-width="2" />
<line x1="88.8" y1="1482.3" x2="97.4" y2="1482.3" stroke="#2e2e2e" stroke-width="2" />
<circle cx="93.1" cy="1466.1" r="4.4" fill="#2e2e2e" stroke="none" stroke-width="0" />
<line x1="130.1" y1="1440.1" x2="130.1" y2="1490.6" stroke="#2e2e2e" stroke-width="2" />
<line x1="125.8" y1="1440.1" x2="134.4" y2="1440.1" stroke="#2e2e2e" stroke-width="2" />
<line x1="125.8" y1="1490.6" x2="134.4" y2="1490.6" stroke="#2e2e2e" stroke-width="2" />
<circle cx="130.1" cy="1465.5" r="4.4" fill="#2e2e2e" stroke="none" stroke-width="0" />
<line x1="167.2" y1="1413.2" x2="167.2" y2="1540.0" stroke="#2e2e2e" stroke-width="2" />
<line x1="162.9" y1="1413.2" x2="171.5" y2="1413.2" stroke="#2e2e2e" stroke-width="2" />
<line x1="162.9" y1="1540.0" x2="171.5" y2="1540.0" stroke="#2e2e2e" stroke-width="2" />
<circle cx="167.2" cy="1476.2" r="4.4" fill="#2e2e2e" stroke="none" stroke-width="0" />
<line x1="204.3" y1="1474.4" x2="204.3" y2="1515.0" stroke="#2e2e2e" stroke-width="2" />
<line x1="200.0" y1="1474.4" x2="208.6" y2="1474.4" stroke="#2e2e2e" stroke-width="2" />
<line x1="200.0" y1="1515.0" x2="208.6" y2="1515.0" stroke="#2e2e2e" stroke-width="2" />
<circle cx="204.3" cy="1495.1" r="4.4" fill="#2e2e2e" stroke="none" stroke-width="0" />
<line x1="241.3" y1="1456.3" x2="241.3" y2="1545.0" stroke="#2e2e2e" stroke-width="2" />
<line x1="237.0" y1="1456.3" x2="245.6" y2="1456.3" stroke="#2e2e2e" stroke-width="2" />
<line x1="237.0" y1="1545.0" x2="245.6" y2="1545.0" stroke="#2e2e2e" stroke-width="2" />
<circle cx="241.3" cy="1501.3" r="4.4" fill="#2e2e2e" stroke="none" stroke-width="0" />
</g>
<rect x="81.9" y="1295.6" width="222.4" height="222.4" fill="none" stroke="#000" stroke-width="2"/>
<text x="87.1" y="1316.2" font-size="16.3" fill="#111">hIgG</text>
<text x="193.1" y="1572.4" font-size="18.5" text-anchor="middle" fill="#111">Concentration [µg/ml]</text>
<text x="34.4" y="1406.8" font-size="18.5" text-anchor="middle" transform="rotate(-90 34.4 1406.8)" fill="#111">Inhibition [%]</text>
<line x1="176.4" y1="1338.6" x2="204.8" y2="1338.6" stroke="#2e2e2e" stroke-width="2.4" />
<circle cx="190.5" cy="1338.6" r="4.8" fill="#2e2e2e" stroke="none" stroke-width="0" />
<text x="211.9" y="1344.4" font-size="16.8" fill="#111">B.1</text>
<line x1="176.4" y1="1357.6" x2="204.8" y2="1357.6" stroke="#fc9f42" stroke-width="2.4" />
<circle cx="190.5" cy="1357.6" r="4.8" fill="#fc9f42" stroke="none" stroke-width="0" />
<text x="211.9" y="1363.4" font-size="16.8" fill="#111">B.1.617.2</text>
<line x1="176.4" y1="1377.4" x2="204.8" y2="1377.4" stroke="#5a57f6" stroke-width="2.4" />
<circle cx="190.5" cy="1377.4" r="4.8" fill="#5a57f6" stroke="none" stroke-width="0" />
<text x="211.9" y="1383.2" font-size="16.8" fill="#111">AY.4.2</text>
<rect x="389.2" y="1480.9" width="222.4" height="37.1" fill="#d3d3d3" />
<line x1="382.2" y1="1295.6" x2="389.2" y2="1295.6" stroke="#000" stroke-width="2" />
<text x="378.7" y="1301.4" font-size="16.3" text-anchor="end" fill="#111">125</text>
<line x1="382.2" y1="1332.7" x2="389.2" y2="1332.7" stroke="#000" stroke-width="2" />
<text x="378.7" y="1338.5" font-size="16.3" text-anchor="end" fill="#111">100</text>
<line x1="382.2" y1="1369.7" x2="389.2" y2="1369.7" stroke="#000" stroke-width="2" />
<text x="378.7" y="1375.5" font-size="16.3" text-anchor="end" fill="#111">75</text>
<line x1="382.2" y1="1406.8" x2="389.2" y2="1406.8" stroke="#000" stroke-width="2" />
<text x="378.7" y="1412.6" font-size="16.3" text-anchor="end" fill="#111">50</text>
<line x1="382.2" y1="1443.9" x2="389.2" y2="1443.9" stroke="#000" stroke-width="2" />
<text x="378.7" y="1449.7" font-size="16.3" text-anchor="end" fill="#111">25</text>
<line x1="382.2" y1="1480.9" x2="389.2" y2="1480.9" stroke="#000" stroke-width="2" />
<text x="378.7" y="1486.7" font-size="16.3" text-anchor="end" fill="#111">0</text>
<line x1="382.2" y1="1518.0" x2="389.2" y2="1518.0" stroke="#000" stroke-width="2" />
<text x="378.7" y="1523.8" font-size="16.3" text-anchor="end" fill="#111">-25</text>
<line x1="389.2" y1="1518.0" x2="389.2" y2="1525.0" stroke="#000" stroke-width="2" />
<text x="373.9" y="1543.6" font-size="16.3" fill="#111">10<tspan font-size="10.3" dy="-5.4" dx="1.6">-5</tspan></text>
<line x1="400.4" y1="1518.0" x2="400.4" y2="1521.6" stroke="#000" stroke-width="1.9" />
<line x1="406.9" y1="1518.0" x2="406.9" y2="1521.6" stroke="#000" stroke-width="1.9" />
<line x1="411.5" y1="1518.0" x2="411.5" y2="1521.6" stroke="#000" stroke-width="1.9" />
<line x1="415.1" y1="1518.0" x2="415.1" y2="1521.6" stroke="#000" stroke-width="1.9" />
<line x1="418.0" y1="1518.0" x2="418.0" y2="1521.6" stroke="#000" stroke-width="1.9" />
<line x1="420.5" y1="1518.0" x2="420.5" y2="1521.6" stroke="#000" stroke-width="1.9" />
<line x1="422.7" y1="1518.0" x2="422.7" y2="1521.6" stroke="#000" stroke-width="1.9" />
<line x1="424.6" y1="1518.0" x2="424.6" y2="1521.6" stroke="#000" stroke-width="1.9" />
<line x1="426.3" y1="1518.0" x2="426.3" y2="1525.0" stroke="#000" stroke-width="2" />
<text x="411.0" y="1543.6" font-size="16.3" fill="#111">10<tspan font-size="10.3" dy="-5.4" dx="1.6">-4</tspan></text>
<line x1="437.4" y1="1518.0" x2="437.4" y2="1521.6" stroke="#000" stroke-width="1.9" />
<line x1="444.0" y1="1518.0" x2="444.0" y2="1521.6" stroke="#000" stroke-width="1.9" />
<line x1="448.6" y1="1518.0" x2="448.6" y2="1521.6" stroke="#000" stroke-width="1.9" />
<line x1="452.2" y1="1518.0" x2="452.2" y2="1521.6" stroke="#000" stroke-width="1.9" />
<line x1="455.1" y1="1518.0" x2="455.1" y2="1521.6" stroke="#000" stroke-width="1.9" />
<line x1="457.6" y1="1518.0" x2="457.6" y2="1521.6" stroke="#000" stroke-width="1.9" />
<line x1="459.7" y1="1518.0" x2="459.7" y2="1521.6" stroke="#000" stroke-width="1.9" />
<line x1="461.6" y1="1518.0" x2="461.6" y2="1521.6" stroke="#000" stroke-width="1.9" />
<line x1="463.3" y1="1518.0" x2="463.3" y2="1525.0" stroke="#000" stroke-width="2" />
<text x="448.0" y="1543.6" font-size="16.3" fill="#111">10<tspan font-size="10.3" dy="-5.4" dx="1.6">-3</tspan></text>
<line x1="474.5" y1="1518.0" x2="474.5" y2="1521.6" stroke="#000" stroke-width="1.9" />
<line x1="481.0" y1="1518.0" x2="481.0" y2="1521.6" stroke="#000" stroke-width="1.9" />
<line x1="485.6" y1="1518.0" x2="485.6" y2="1521.6" stroke="#000" stroke-width="1.9" />
<line x1="489.2" y1="1518.0" x2="489.2" y2="1521.6" stroke="#000" stroke-width="1.9" />
<line x1="492.2" y1="1518.0" x2="492.2" y2="1521.6" stroke="#000" stroke-width="1.9" />
<line x1="494.7" y1="1518.0" x2="494.7" y2="1521.6" stroke="#000" stroke-width="1.9" />
<line x1="496.8" y1="1518.0" x2="496.8" y2="1521.6" stroke="#000" stroke-width="1.9" />
<line x1="498.7" y1="1518.0" x2="498.7" y2="1521.6" stroke="#000" stroke-width="1.9" />
<line x1="500.4" y1="1518.0" x2="500.4" y2="1525.0" stroke="#000" stroke-width="2" />
<text x="485.1" y="1543.6" font-size="16.3" fill="#111">10<tspan font-size="10.3" dy="-5.4" dx="1.6">-2</tspan></text>
<line x1="511.6" y1="1518.0" x2="511.6" y2="1521.6" stroke="#000" stroke-width="1.9" />
<line x1="518.1" y1="1518.0" x2="518.1" y2="1521.6" stroke="#000" stroke-width="1.9" />
<line x1="522.7" y1="1518.0" x2="522.7" y2="1521.6" stroke="#000" stroke-width="1.9" />
<line x1="526.3" y1="1518.0" x2="526.3" y2="1521.6" stroke="#000" stroke-width="1.9" />
<line x1="529.2" y1="1518.0" x2="529.2" y2="1521.6" stroke="#000" stroke-width="1.9" />
<line x1="531.7" y1="1518.0" x2="531.7" y2="1521.6" stroke="#000" stroke-width="1.9" />
<line x1="533.9" y1="1518.0" x2="533.9" y2="1521.6" stroke="#000" stroke-width="1.9" />
<line x1="535.8" y1="1518.0" x2="535.8" y2="1521.6" stroke="#000" stroke-width="1.9" />
<line x1="537.5" y1="1518.0" x2="537.5" y2="1525.0" stroke="#000" stroke-width="2" />
<text x="522.2" y="1543.6" font-size="16.3" fill="#111">10<tspan font-size="10.3" dy="-5.4" dx="1.6">-1</tspan></text>
<line x1="548.6" y1="1518.0" x2="548.6" y2="1521.6" stroke="#000" stroke-width="1.9" />
<line x1="555.2" y1="1518.0" x2="555.2" y2="1521.6" stroke="#000" stroke-width="1.9" />
<line x1="559.8" y1="1518.0" x2="559.8" y2="1521.6" stroke="#000" stroke-width="1.9" />
<line x1="563.4" y1="1518.0" x2="563.4" y2="1521.6" stroke="#000" stroke-width="1.9" />
<line x1="566.3" y1="1518.0" x2="566.3" y2="1521.6" stroke="#000" stroke-width="1.9" />
<line x1="568.8" y1="1518.0" x2="568.8" y2="1521.6" stroke="#000" stroke-width="1.9" />
<line x1="570.9" y1="1518.0" x2="570.9" y2="1521.6" stroke="#000" stroke-width="1.9" />
<line x1="572.8" y1="1518.0" x2="572.8" y2="1521.6" stroke="#000" stroke-width="1.9" />
<line x1="574.5" y1="1518.0" x2="574.5" y2="1525.0" stroke="#000" stroke-width="2" />
<text x="559.2" y="1543.6" font-size="16.3" fill="#111">10<tspan font-size="10.3" dy="-5.4" dx="1.6">0</tspan></text>
<line x1="585.7" y1="1518.0" x2="585.7" y2="1521.6" stroke="#000" stroke-width="1.9" />
<line x1="592.2" y1="1518.0" x2="592.2" y2="1521.6" stroke="#000" stroke-width="1.9" />
<line x1="596.8" y1="1518.0" x2="596.8" y2="1521.6" stroke="#000" stroke-width="1.9" />
<line x1="600.4" y1="1518.0" x2="600.4" y2="1521.6" stroke="#000" stroke-width="1.9" />
<line x1="603.4" y1="1518.0" x2="603.4" y2="1521.6" stroke="#000" stroke-width="1.9" />
<line x1="605.9" y1="1518.0" x2="605.9" y2="1521.6" stroke="#000" stroke-width="1.9" />
<line x1="608.0" y1="1518.0" x2="608.0" y2="1521.6" stroke="#000" stroke-width="1.9" />
<line x1="609.9" y1="1518.0" x2="609.9" y2="1521.6" stroke="#000" stroke-width="1.9" />
<line x1="611.6" y1="1518.0" x2="611.6" y2="1525.0" stroke="#000" stroke-width="2" />
<text x="596.3" y="1543.6" font-size="16.3" fill="#111">10<tspan font-size="10.3" dy="-5.4" dx="1.6">1</tspan></text>
<line x1="389.2" y1="1480.9" x2="611.6" y2="1480.9" stroke="#000" stroke-width="2.3" stroke-dasharray="6.3 4.85"/>
<g clip-path="url(#cp389_1295)"><clipPath id="cp389_1295"><rect x="389.2" y="1295.6" width="222.4" height="222.4"/></clipPath><path d="M400.4,1478.4 L403.4,1477.9 L406.5,1477.4 L409.6,1476.7 L412.7,1475.9 L415.8,1475.0 L418.9,1474.0 L422.0,1472.8 L425.1,1471.3 L428.2,1469.6 L431.2,1467.7 L434.3,1465.5 L437.4,1462.9 L440.5,1460.0 L443.6,1456.7 L446.7,1453.0 L449.8,1448.8 L452.9,1444.3 L456.0,1439.3 L459.0,1433.9 L462.1,1428.2 L465.2,1422.2 L468.3,1416.0 L471.4,1409.7 L474.5,1403.3 L477.6,1396.9 L480.7,1390.7 L483.8,1384.7 L486.8,1379.1 L489.9,1373.8 L493.0,1368.8 L496.1,1364.3 L499.2,1360.2 L502.3,1356.6 L505.4,1353.3 L508.5,1350.4 L511.6,1347.9 L514.6,1345.7 L517.7,1343.8 L520.8,1342.1 L523.9,1340.7 L527.0,1339.5 L530.1,1338.5 L533.2,1337.6 L536.3,1336.8 L539.4,1336.2 L542.4,1335.6 L545.5,1335.2 L548.6,1334.8 L551.7,1334.4 L554.8,1334.2 L557.9,1333.9 L561.0,1333.7 L564.1,1333.6 L567.2,1333.4 L570.2,1333.3 L573.3,1333.2 L576.4,1333.1 L579.5,1333.0 L582.6,1333.0 L585.7,1332.9" stroke="#fc9f42" stroke-width="2.2" fill="none" />
<path d="M400.4,1464.3 L403.4,1462.2 L406.5,1459.8 L409.6,1457.2 L412.7,1454.3 L415.8,1451.1 L418.9,1447.7 L422.0,1444.0 L425.1,1440.0 L428.2,1435.8 L431.2,1431.4 L434.3,1426.7 L437.4,1421.9 L440.5,1416.9 L443.6,1411.8 L446.7,1406.7 L449.8,1401.6 L452.9,1396.6 L456.0,1391.6 L459.0,1386.8 L462.1,1382.1 L465.2,1377.7 L468.3,1373.5 L471.4,1369.5 L474.5,1365.8 L477.6,1362.4 L480.7,1359.2 L483.8,1356.4 L486.8,1353.7 L489.9,1351.4 L493.0,1349.2 L496.1,1347.3 L499.2,1345.6 L502.3,1344.0 L505.4,1342.7 L508.5,1341.5 L511.6,1340.4 L514.6,1339.4 L517.7,1338.6 L520.8,1337.9 L523.9,1337.2 L527.0,1336.6 L530.1,1336.1 L533.2,1335.7 L536.3,1335.3 L539.4,1335.0 L542.4,1334.7 L545.5,1334.4 L548.6,1334.2 L551.7,1334.0 L554.8,1333.8 L557.9,1333.7 L561.0,1333.6 L564.1,1333.4 L567.2,1333.3 L570.2,1333.3 L573.3,1333.2 L576.4,1333.1 L579.5,1333.1 L582.6,1333.0 L585.7,1333.0" stroke="#5a57f6" stroke-width="2.2" fill="none" />
<path d="M400.4,1477.2 L403.4,1476.6 L406.5,1475.8 L409.6,1474.9 L412.7,1473.9 L415.8,1472.8 L418.9,1471.4 L422.0,1469.9 L425.1,1468.1 L428.2,1466.0 L431.2,1463.7 L434.3,1461.0 L437.4,1458.0 L440.5,1454.7 L443.6,1451.0 L446.7,1446.9 L449.8,1442.5 L452.9,1437.6 L456.0,1432.5 L459.0,1427.0 L462.1,1421.3 L465.2,1415.4 L468.3,1409.4 L471.4,1403.3 L474.5,1397.3 L477.6,1391.5 L480.7,1385.8 L483.8,1380.4 L486.8,1375.3 L489.9,1370.5 L493.0,1366.1 L496.1,1362.0 L499.2,1358.4 L502.3,1355.1 L505.4,1352.2 L508.5,1349.6 L511.6,1347.3 L514.6,1345.3 L517.7,1343.5 L520.8,1342.0 L523.9,1340.7 L527.0,1339.5 L530.1,1338.5 L533.2,1337.7 L536.3,1336.9 L539.4,1336.3 L542.4,1335.8 L545.5,1335.3 L548.6,1334.9 L551.7,1334.6 L554.8,1334.3 L557.9,1334.1 L561.0,1333.8 L564.1,1333.7 L567.2,1333.5 L570.2,1333.4 L573.3,1333.3 L576.4,1333.2 L579.5,1333.1 L582.6,1333.0 L585.7,1333.0" stroke="#2e2e2e" stroke-width="2.2" fill="none" />
<line x1="400.4" y1="1444.9" x2="400.4" y2="1491.8" stroke="#fc9f42" stroke-width="2" />
<line x1="396.1" y1="1444.9" x2="404.7" y2="1444.9" stroke="#fc9f42" stroke-width="2" />
<line x1="396.1" y1="1491.8" x2="404.7" y2="1491.8" stroke="#fc9f42" stroke-width="2" />
<circle cx="400.4" cy="1467.6" r="4.4" fill="#fc9f42" stroke="none" stroke-width="0" />
<line x1="437.4" y1="1429.7" x2="437.4" y2="1483.3" stroke="#fc9f42" stroke-width="2" />
<line x1="433.1" y1="1429.7" x2="441.7" y2="1429.7" stroke="#fc9f42" stroke-width="2" />
<line x1="433.1" y1="1483.3" x2="441.7" y2="1483.3" stroke="#fc9f42" stroke-width="2" />
<circle cx="437.4" cy="1456.0" r="4.4" fill="#fc9f42" stroke="none" stroke-width="0" />
<line x1="474.5" y1="1407.7" x2="474.5" y2="1411.2" stroke="#fc9f42" stroke-width="2" />
<line x1="470.2" y1="1407.7" x2="478.8" y2="1407.7" stroke="#fc9f42" stroke-width="2" />
<line x1="470.2" y1="1411.2" x2="478.8" y2="1411.2" stroke="#fc9f42" stroke-width="2" />
<circle cx="474.5" cy="1406.6" r="4.4" fill="#fc9f42" stroke="none" stroke-width="0" />
<circle cx="511.6" cy="1340.8" r="4.4" fill="#fc9f42" stroke="none" stroke-width="0" />
<circle cx="548.6" cy="1332.6" r="4.4" fill="#fc9f42" stroke="none" stroke-width="0" />
<circle cx="585.7" cy="1332.4" r="4.4" fill="#fc9f42" stroke="none" stroke-width="0" />
<line x1="400.4" y1="1458.1" x2="400.4" y2="1484.8" stroke="#5a57f6" stroke-width="2" />
<line x1="396.1" y1="1458.1" x2="404.7" y2="1458.1" stroke="#5a57f6" stroke-width="2" />
<line x1="396.1" y1="1484.8" x2="404.7" y2="1484.8" stroke="#5a57f6" stroke-width="2" />
<circle cx="400.4" cy="1471.4" r="4.4" fill="#5a57f6" stroke="none" stroke-width="0" />
<line x1="437.4" y1="1393.6" x2="437.4" y2="1450.8" stroke="#5a57f6" stroke-width="2" />
<line x1="433.1" y1="1393.6" x2="441.7" y2="1393.6" stroke="#5a57f6" stroke-width="2" />
<line x1="433.1" y1="1450.8" x2="441.7" y2="1450.8" stroke="#5a57f6" stroke-width="2" />
<circle cx="437.4" cy="1421.8" r="4.4" fill="#5a57f6" stroke="none" stroke-width="0" />
<line x1="474.5" y1="1360.0" x2="474.5" y2="1391.5" stroke="#5a57f6" stroke-width="2" />
<line x1="470.2" y1="1360.0" x2="478.8" y2="1360.0" stroke="#5a57f6" stroke-width="2" />
<line x1="470.2" y1="1391.5" x2="478.8" y2="1391.5" stroke="#5a57f6" stroke-width="2" />
<circle cx="474.5" cy="1374.5" r="4.4" fill="#5a57f6" stroke="none" stroke-width="0" />
<circle cx="511.6" cy="1334.5" r="4.4" fill="#5a57f6" stroke="none" stroke-width="0" />
<circle cx="548.6" cy="1332.4" r="4.4" fill="#5a57f6" stroke="none" stroke-width="0" />
<circle cx="585.7" cy="1332.4" r="4.4" fill="#5a57f6" stroke="none" stroke-width="0" />
<line x1="400.4" y1="1436.5" x2="400.4" y2="1483.3" stroke="#2e2e2e" stroke-width="2" />
<line x1="396.1" y1="1436.5" x2="404.7" y2="1436.5" stroke="#2e2e2e" stroke-width="2" />
<line x1="396.1" y1="1483.3" x2="404.7" y2="1483.3" stroke="#2e2e2e" stroke-width="2" />
<circle cx="400.4" cy="1460.2" r="4.4" fill="#2e2e2e" stroke="none" stroke-width="0" />
<line x1="437.4" y1="1422.8" x2="437.4" y2="1485.9" stroke="#2e2e2e" stroke-width="2" />
<line x1="433.1" y1="1422.8" x2="441.7" y2="1422.8" stroke="#2e2e2e" stroke-width="2" />
<line x1="433.1" y1="1485.9" x2="441.7" y2="1485.9" stroke="#2e2e2e" stroke-width="2" />
<circle cx="437.4" cy="1454.5" r="4.4" fill="#2e2e2e" stroke="none" stroke-width="0" />
<line x1="474.5" y1="1377.6" x2="474.5" y2="1425.1" stroke="#2e2e2e" stroke-width="2" />
<line x1="470.2" y1="1377.6" x2="478.8" y2="1377.6" stroke="#2e2e2e" stroke-width="2" />
<line x1="470.2" y1="1425.1" x2="478.8" y2="1425.1" stroke="#2e2e2e" stroke-width="2" />
<circle cx="474.5" cy="1401.4" r="4.4" fill="#2e2e2e" stroke="none" stroke-width="0" />
<circle cx="511.6" cy="1340.4" r="4.4" fill="#2e2e2e" stroke="none" stroke-width="0" />
<circle cx="548.6" cy="1332.4" r="4.4" fill="#2e2e2e" stroke="none" stroke-width="0" />
<circle cx="585.7" cy="1332.4" r="4.4" fill="#2e2e2e" stroke="none" stroke-width="0" />
</g>
<rect x="389.2" y="1295.6" width="222.4" height="222.4" fill="none" stroke="#000" stroke-width="2"/>
<text x="394.4" y="1316.2" font-size="16.3" fill="#111">Casirivimab</text>
<text x="500.4" y="1572.4" font-size="18.5" text-anchor="middle" fill="#111">Concentration [µg/ml]</text>
<text x="341.7" y="1406.8" font-size="18.5" text-anchor="middle" transform="rotate(-90 341.7 1406.8)" fill="#111">Inhibition [%]</text>
<rect x="700.5" y="1480.9" width="222.4" height="37.1" fill="#d3d3d3" />
<line x1="693.5" y1="1295.6" x2="700.5" y2="1295.6" stroke="#000" stroke-width="2" />
<text x="690.0" y="1301.4" font-size="16.3" text-anchor="end" fill="#111">125</text>
<line x1="693.5" y1="1332.7" x2="700.5" y2="1332.7" stroke="#000" stroke-width="2" />
<text x="690.0" y="1338.5" font-size="16.3" text-anchor="end" fill="#111">100</text>
<line x1="693.5" y1="1369.7" x2="700.5" y2="1369.7" stroke="#000" stroke-width="2" />
<text x="690.0" y="1375.5" font-size="16.3" text-anchor="end" fill="#111">75</text>
<line x1="693.5" y1="1406.8" x2="700.5" y2="1406.8" stroke="#000" stroke-width="2" />
<text x="690.0" y="1412.6" font-size="16.3" text-anchor="end" fill="#111">50</text>
<line x1="693.5" y1="1443.9" x2="700.5" y2="1443.9" stroke="#000" stroke-width="2" />
<text x="690.0" y="1449.7" font-size="16.3" text-anchor="end" fill="#111">25</text>
<line x1="693.5" y1="1480.9" x2="700.5" y2="1480.9" stroke="#000" stroke-width="2" />
<text x="690.0" y="1486.7" font-size="16.3" text-anchor="end" fill="#111">0</text>
<line x1="693.5" y1="1518.0" x2="700.5" y2="1518.0" stroke="#000" stroke-width="2" />
<text x="690.0" y="1523.8" font-size="16.3" text-anchor="end" fill="#111">-25</text>
<line x1="700.5" y1="1518.0" x2="700.5" y2="1525.0" stroke="#000" stroke-width="2" />
<text x="685.2" y="1543.6" font-size="16.3" fill="#111">10<tspan font-size="10.3" dy="-5.4" dx="1.6">-5</tspan></text>
<line x1="711.7" y1="1518.0" x2="711.7" y2="1521.6" stroke="#000" stroke-width="1.9" />
<line x1="718.2" y1="1518.0" x2="718.2" y2="1521.6" stroke="#000" stroke-width="1.9" />
<line x1="722.8" y1="1518.0" x2="722.8" y2="1521.6" stroke="#000" stroke-width="1.9" />
<line x1="726.4" y1="1518.0" x2="726.4" y2="1521.6" stroke="#000" stroke-width="1.9" />
<line x1="729.3" y1="1518.0" x2="729.3" y2="1521.6" stroke="#000" stroke-width="1.9" />
<line x1="731.8" y1="1518.0" x2="731.8" y2="1521.6" stroke="#000" stroke-width="1.9" />
<line x1="734.0" y1="1518.0" x2="734.0" y2="1521.6" stroke="#000" stroke-width="1.9" />
<line x1="735.9" y1="1518.0" x2="735.9" y2="1521.6" stroke="#000" stroke-width="1.9" />
<line x1="737.6" y1="1518.0" x2="737.6" y2="1525.0" stroke="#000" stroke-width="2" />
<text x="722.3" y="1543.6" font-size="16.3" fill="#111">10<tspan font-size="10.3" dy="-5.4" dx="1.6">-4</tspan></text>
<line x1="748.7" y1="1518.0" x2="748.7" y2="1521.6" stroke="#000" stroke-width="1.9" />
<line x1="755.3" y1="1518.0" x2="755.3" y2="1521.6" stroke="#000" stroke-width="1.9" />
<line x1="759.9" y1="1518.0" x2="759.9" y2="1521.6" stroke="#000" stroke-width="1.9" />
<line x1="763.5" y1="1518.0" x2="763.5" y2="1521.6" stroke="#000" stroke-width="1.9" />
<line x1="766.4" y1="1518.0" x2="766.4" y2="1521.6" stroke="#000" stroke-width="1.9" />
<line x1="768.9" y1="1518.0" x2="768.9" y2="1521.6" stroke="#000" stroke-width="1.9" />
<line x1="771.0" y1="1518.0" x2="771.0" y2="1521.6" stroke="#000" stroke-width="1.9" />
<line x1="772.9" y1="1518.0" x2="772.9" y2="1521.6" stroke="#000" stroke-width="1.9" />
<line x1="774.6" y1="1518.0" x2="774.6" y2="1525.0" stroke="#000" stroke-width="2" />
<text x="759.3" y="1543.6" font-size="16.3" fill="#111">10<tspan font-size="10.3" dy="-5.4" dx="1.6">-3</tspan></text>
<line x1="785.8" y1="1518.0" x2="785.8" y2="1521.6" stroke="#000" stroke-width="1.9" />
<line x1="792.3" y1="1518.0" x2="792.3" y2="1521.6" stroke="#000" stroke-width="1.9" />
<line x1="796.9" y1="1518.0" x2="796.9" y2="1521.6" stroke="#000" stroke-width="1.9" />
<line x1="800.5" y1="1518.0" x2="800.5" y2="1521.6" stroke="#000" stroke-width="1.9" />
<line x1="803.5" y1="1518.0" x2="803.5" y2="1521.6" stroke="#000" stroke-width="1.9" />
<line x1="806.0" y1="1518.0" x2="806.0" y2="1521.6" stroke="#000" stroke-width="1.9" />
<line x1="808.1" y1="1518.0" x2="808.1" y2="1521.6" stroke="#000" stroke-width="1.9" />
<line x1="810.0" y1="1518.0" x2="810.0" y2="1521.6" stroke="#000" stroke-width="1.9" />
<line x1="811.7" y1="1518.0" x2="811.7" y2="1525.0" stroke="#000" stroke-width="2" />
<text x="796.4" y="1543.6" font-size="16.3" fill="#111">10<tspan font-size="10.3" dy="-5.4" dx="1.6">-2</tspan></text>
<line x1="822.9" y1="1518.0" x2="822.9" y2="1521.6" stroke="#000" stroke-width="1.9" />
<line x1="829.4" y1="1518.0" x2="829.4" y2="1521.6" stroke="#000" stroke-width="1.9" />
<line x1="834.0" y1="1518.0" x2="834.0" y2="1521.6" stroke="#000" stroke-width="1.9" />
<line x1="837.6" y1="1518.0" x2="837.6" y2="1521.6" stroke="#000" stroke-width="1.9" />
<line x1="840.5" y1="1518.0" x2="840.5" y2="1521.6" stroke="#000" stroke-width="1.9" />
<line x1="843.0" y1="1518.0" x2="843.0" y2="1521.6" stroke="#000" stroke-width="1.9" />
<line x1="845.2" y1="1518.0" x2="845.2" y2="1521.6" stroke="#000" stroke-width="1.9" />
<line x1="847.1" y1="1518.0" x2="847.1" y2="1521.6" stroke="#000" stroke-width="1.9" />
<line x1="848.8" y1="1518.0" x2="848.8" y2="1525.0" stroke="#000" stroke-width="2" />
<text x="833.5" y="1543.6" font-size="16.3" fill="#111">10<tspan font-size="10.3" dy="-5.4" dx="1.6">-1</tspan></text>
<line x1="859.9" y1="1518.0" x2="859.9" y2="1521.6" stroke="#000" stroke-width="1.9" />
<line x1="866.5" y1="1518.0" x2="866.5" y2="1521.6" stroke="#000" stroke-width="1.9" />
<line x1="871.1" y1="1518.0" x2="871.1" y2="1521.6" stroke="#000" stroke-width="1.9" />
<line x1="874.7" y1="1518.0" x2="874.7" y2="1521.6" stroke="#000" stroke-width="1.9" />
<line x1="877.6" y1="1518.0" x2="877.6" y2="1521.6" stroke="#000" stroke-width="1.9" />
<line x1="880.1" y1="1518.0" x2="880.1" y2="1521.6" stroke="#000" stroke-width="1.9" />
<line x1="882.2" y1="1518.0" x2="882.2" y2="1521.6" stroke="#000" stroke-width="1.9" />
<line x1="884.1" y1="1518.0" x2="884.1" y2="1521.6" stroke="#000" stroke-width="1.9" />
<line x1="885.8" y1="1518.0" x2="885.8" y2="1525.0" stroke="#000" stroke-width="2" />
<text x="870.5" y="1543.6" font-size="16.3" fill="#111">10<tspan font-size="10.3" dy="-5.4" dx="1.6">0</tspan></text>
<line x1="897.0" y1="1518.0" x2="897.0" y2="1521.6" stroke="#000" stroke-width="1.9" />
<line x1="903.5" y1="1518.0" x2="903.5" y2="1521.6" stroke="#000" stroke-width="1.9" />
<line x1="908.1" y1="1518.0" x2="908.1" y2="1521.6" stroke="#000" stroke-width="1.9" />
<line x1="911.7" y1="1518.0" x2="911.7" y2="1521.6" stroke="#000" stroke-width="1.9" />
<line x1="914.7" y1="1518.0" x2="914.7" y2="1521.6" stroke="#000" stroke-width="1.9" />
<line x1="917.2" y1="1518.0" x2="917.2" y2="1521.6" stroke="#000" stroke-width="1.9" />
<line x1="919.3" y1="1518.0" x2="919.3" y2="1521.6" stroke="#000" stroke-width="1.9" />
<line x1="921.2" y1="1518.0" x2="921.2" y2="1521.6" stroke="#000" stroke-width="1.9" />
<line x1="922.9" y1="1518.0" x2="922.9" y2="1525.0" stroke="#000" stroke-width="2" />
<text x="907.6" y="1543.6" font-size="16.3" fill="#111">10<tspan font-size="10.3" dy="-5.4" dx="1.6">1</tspan></text>
<line x1="700.5" y1="1480.9" x2="922.9" y2="1480.9" stroke="#000" stroke-width="2.3" stroke-dasharray="6.3 4.85"/>
<g clip-path="url(#cp700_1295)"><clipPath id="cp700_1295"><rect x="700.5" y="1295.6" width="222.4" height="222.4"/></clipPath><path d="M711.7,1452.8 L714.7,1450.9 L717.8,1448.9 L720.9,1446.8 L724.0,1444.7 L727.1,1442.4 L730.2,1440.1 L733.3,1437.6 L736.4,1435.1 L739.5,1432.5 L742.5,1429.9 L745.6,1427.1 L748.7,1424.3 L751.8,1421.5 L754.9,1418.6 L758.0,1415.7 L761.1,1412.7 L764.2,1409.7 L767.3,1406.8 L770.3,1403.8 L773.4,1400.8 L776.5,1397.8 L779.6,1394.9 L782.7,1392.0 L785.8,1389.2 L788.9,1386.4 L792.0,1383.7 L795.1,1381.0 L798.1,1378.4 L801.2,1375.9 L804.3,1373.5 L807.4,1371.1 L810.5,1368.9 L813.6,1366.7 L816.7,1364.7 L819.8,1362.7 L822.9,1360.8 L825.9,1359.0 L829.0,1357.3 L832.1,1355.7 L835.2,1354.2 L838.3,1352.7 L841.4,1351.4 L844.5,1350.1 L847.6,1348.9 L850.7,1347.8 L853.7,1346.7 L856.8,1345.7 L859.9,1344.8 L863.0,1343.9 L866.1,1343.1 L869.2,1342.4 L872.3,1341.7 L875.4,1341.0 L878.5,1340.4 L881.5,1339.8 L884.6,1339.3 L887.7,1338.8 L890.8,1338.3 L893.9,1337.9 L897.0,1337.5" stroke="#fc9f42" stroke-width="2.2" fill="none" />
<path d="M711.7,1479.2 L714.7,1478.8 L717.8,1478.4 L720.9,1478.0 L724.0,1477.4 L727.1,1476.8 L730.2,1476.0 L733.3,1475.1 L736.4,1474.1 L739.5,1472.9 L742.5,1471.5 L745.6,1469.8 L748.7,1467.9 L751.8,1465.7 L754.9,1463.2 L758.0,1460.3 L761.1,1457.0 L764.2,1453.4 L767.3,1449.3 L770.3,1444.8 L773.4,1439.8 L776.5,1434.5 L779.6,1428.8 L782.7,1422.8 L785.8,1416.6 L788.9,1410.3 L792.0,1403.9 L795.1,1397.6 L798.1,1391.3 L801.2,1385.3 L804.3,1379.6 L807.4,1374.3 L810.5,1369.3 L813.6,1364.7 L816.7,1360.6 L819.8,1356.9 L822.9,1353.6 L825.9,1350.7 L829.0,1348.1 L832.1,1345.9 L835.2,1344.0 L838.3,1342.3 L841.4,1340.8 L844.5,1339.6 L847.6,1338.5 L850.7,1337.6 L853.7,1336.9 L856.8,1336.2 L859.9,1335.7 L863.0,1335.2 L866.1,1334.8 L869.2,1334.5 L872.3,1334.2 L875.4,1334.0 L878.5,1333.7 L881.5,1333.6 L884.6,1333.4 L887.7,1333.3 L890.8,1333.2 L893.9,1333.1 L897.0,1333.1" stroke="#5a57f6" stroke-width="2.2" fill="none" />
<path d="M711.7,1468.6 L714.7,1467.3 L717.8,1465.9 L720.9,1464.3 L724.0,1462.6 L727.1,1460.7 L730.2,1458.7 L733.3,1456.5 L736.4,1454.2 L739.5,1451.6 L742.5,1448.9 L745.6,1446.0 L748.7,1443.0 L751.8,1439.8 L754.9,1436.4 L758.0,1432.8 L761.1,1429.1 L764.2,1425.3 L767.3,1421.4 L770.3,1417.4 L773.4,1413.3 L776.5,1409.2 L779.6,1405.1 L782.7,1401.0 L785.8,1396.9 L788.9,1392.9 L792.0,1389.0 L795.1,1385.1 L798.1,1381.4 L801.2,1377.8 L804.3,1374.4 L807.4,1371.2 L810.5,1368.1 L813.6,1365.2 L816.7,1362.4 L819.8,1359.9 L822.9,1357.5 L825.9,1355.3 L829.0,1353.2 L832.1,1351.3 L835.2,1349.6 L838.3,1348.0 L841.4,1346.5 L844.5,1345.2 L847.6,1344.0 L850.7,1342.9 L853.7,1341.9 L856.8,1340.9 L859.9,1340.1 L863.0,1339.4 L866.1,1338.7 L869.2,1338.1 L872.3,1337.5 L875.4,1337.0 L878.5,1336.6 L881.5,1336.2 L884.6,1335.8 L887.7,1335.5 L890.8,1335.2 L893.9,1334.9 L897.0,1334.7" stroke="#2e2e2e" stroke-width="2.2" fill="none" />
<line x1="711.7" y1="1402.0" x2="711.7" y2="1450.8" stroke="#fc9f42" stroke-width="2" />
<line x1="707.4" y1="1402.0" x2="716.0" y2="1402.0" stroke="#fc9f42" stroke-width="2" />
<line x1="707.4" y1="1450.8" x2="716.0" y2="1450.8" stroke="#fc9f42" stroke-width="2" />
<circle cx="711.7" cy="1427.2" r="4.4" fill="#fc9f42" stroke="none" stroke-width="0" />
<line x1="748.7" y1="1419.7" x2="748.7" y2="1452.9" stroke="#fc9f42" stroke-width="2" />
<line x1="744.4" y1="1419.7" x2="753.0" y2="1419.7" stroke="#fc9f42" stroke-width="2" />
<line x1="744.4" y1="1452.9" x2="753.0" y2="1452.9" stroke="#fc9f42" stroke-width="2" />
<circle cx="748.7" cy="1436.0" r="4.4" fill="#fc9f42" stroke="none" stroke-width="0" />
<line x1="785.8" y1="1396.0" x2="785.8" y2="1420.0" stroke="#fc9f42" stroke-width="2" />
<line x1="781.5" y1="1396.0" x2="790.1" y2="1396.0" stroke="#fc9f42" stroke-width="2" />
<line x1="781.5" y1="1420.0" x2="790.1" y2="1420.0" stroke="#fc9f42" stroke-width="2" />
<circle cx="785.8" cy="1410.4" r="4.4" fill="#fc9f42" stroke="none" stroke-width="0" />
<line x1="822.9" y1="1343.0" x2="822.9" y2="1355.0" stroke="#fc9f42" stroke-width="2" />
<line x1="818.6" y1="1343.0" x2="827.2" y2="1343.0" stroke="#fc9f42" stroke-width="2" />
<line x1="818.6" y1="1355.0" x2="827.2" y2="1355.0" stroke="#fc9f42" stroke-width="2" />
<circle cx="822.9" cy="1348.8" r="4.4" fill="#fc9f42" stroke="none" stroke-width="0" />
<circle cx="859.9" cy="1336.5" r="4.4" fill="#fc9f42" stroke="none" stroke-width="0" />
<circle cx="897.0" cy="1332.6" r="4.4" fill="#fc9f42" stroke="none" stroke-width="0" />
<line x1="711.7" y1="1435.0" x2="711.7" y2="1540.0" stroke="#5a57f6" stroke-width="2" />
<line x1="707.4" y1="1435.0" x2="716.0" y2="1435.0" stroke="#5a57f6" stroke-width="2" />
<line x1="707.4" y1="1540.0" x2="716.0" y2="1540.0" stroke="#5a57f6" stroke-width="2" />
<circle cx="711.7" cy="1483.8" r="4.4" fill="#5a57f6" stroke="none" stroke-width="0" />
<line x1="748.7" y1="1432.5" x2="748.7" y2="1466.5" stroke="#5a57f6" stroke-width="2" />
<line x1="744.4" y1="1432.5" x2="753.0" y2="1432.5" stroke="#5a57f6" stroke-width="2" />
<line x1="744.4" y1="1466.5" x2="753.0" y2="1466.5" stroke="#5a57f6" stroke-width="2" />
<circle cx="748.7" cy="1449.7" r="4.4" fill="#5a57f6" stroke="none" stroke-width="0" />
<line x1="785.8" y1="1383.5" x2="785.8" y2="1474.3" stroke="#5a57f6" stroke-width="2" />
<line x1="781.5" y1="1383.5" x2="790.1" y2="1383.5" stroke="#5a57f6" stroke-width="2" />
<line x1="781.5" y1="1474.3" x2="790.1" y2="1474.3" stroke="#5a57f6" stroke-width="2" />
<circle cx="785.8" cy="1429.1" r="4.4" fill="#5a57f6" stroke="none" stroke-width="0" />
<line x1="822.9" y1="1341.5" x2="822.9" y2="1363.1" stroke="#5a57f6" stroke-width="2" />
<line x1="818.6" y1="1341.5" x2="827.2" y2="1341.5" stroke="#5a57f6" stroke-width="2" />
<line x1="818.6" y1="1363.1" x2="827.2" y2="1363.1" stroke="#5a57f6" stroke-width="2" />
<circle cx="822.9" cy="1352.0" r="4.4" fill="#5a57f6" stroke="none" stroke-width="0" />
<line x1="859.9" y1="1332.0" x2="859.9" y2="1346.1" stroke="#5a57f6" stroke-width="2" />
<line x1="855.6" y1="1332.0" x2="864.2" y2="1332.0" stroke="#5a57f6" stroke-width="2" />
<line x1="855.6" y1="1346.1" x2="864.2" y2="1346.1" stroke="#5a57f6" stroke-width="2" />
<circle cx="859.9" cy="1338.9" r="4.4" fill="#5a57f6" stroke="none" stroke-width="0" />
<circle cx="897.0" cy="1332.4" r="4.4" fill="#5a57f6" stroke="none" stroke-width="0" />
<line x1="711.7" y1="1418.6" x2="711.7" y2="1490.7" stroke="#2e2e2e" stroke-width="2" />
<line x1="707.4" y1="1418.6" x2="716.0" y2="1418.6" stroke="#2e2e2e" stroke-width="2" />
<line x1="707.4" y1="1490.7" x2="716.0" y2="1490.7" stroke="#2e2e2e" stroke-width="2" />
<circle cx="711.7" cy="1455.0" r="4.4" fill="#2e2e2e" stroke="none" stroke-width="0" />
<line x1="748.7" y1="1425.1" x2="748.7" y2="1455.4" stroke="#2e2e2e" stroke-width="2" />
<line x1="744.4" y1="1425.1" x2="753.0" y2="1425.1" stroke="#2e2e2e" stroke-width="2" />
<line x1="744.4" y1="1455.4" x2="753.0" y2="1455.4" stroke="#2e2e2e" stroke-width="2" />
<circle cx="748.7" cy="1440.7" r="4.4" fill="#2e2e2e" stroke="none" stroke-width="0" />
<line x1="785.8" y1="1388.8" x2="785.8" y2="1418.8" stroke="#2e2e2e" stroke-width="2" />
<line x1="781.5" y1="1388.8" x2="790.1" y2="1388.8" stroke="#2e2e2e" stroke-width="2" />
<line x1="781.5" y1="1418.8" x2="790.1" y2="1418.8" stroke="#2e2e2e" stroke-width="2" />
<circle cx="785.8" cy="1403.5" r="4.4" fill="#2e2e2e" stroke="none" stroke-width="0" />
<circle cx="822.9" cy="1344.0" r="4.4" fill="#2e2e2e" stroke="none" stroke-width="0" />
<circle cx="859.9" cy="1333.0" r="4.4" fill="#2e2e2e" stroke="none" stroke-width="0" />
<circle cx="897.0" cy="1332.4" r="4.4" fill="#2e2e2e" stroke="none" stroke-width="0" />
</g>
<rect x="700.5" y="1295.6" width="222.4" height="222.4" fill="none" stroke="#000" stroke-width="2"/>
<text x="705.7" y="1316.2" font-size="16.3" fill="#111">Imdevimab</text>
<text x="811.7" y="1572.4" font-size="18.5" text-anchor="middle" fill="#111">Concentration [µg/ml]</text>
<text x="653.0" y="1406.8" font-size="18.5" text-anchor="middle" transform="rotate(-90 653.0 1406.8)" fill="#111">Inhibition [%]</text>
<rect x="81.9" y="1864.6" width="222.4" height="37.1" fill="#d3d3d3" />
<line x1="74.9" y1="1679.3" x2="81.9" y2="1679.3" stroke="#000" stroke-width="2" />
<text x="71.4" y="1685.1" font-size="16.3" text-anchor="end" fill="#111">125</text>
<line x1="74.9" y1="1716.4" x2="81.9" y2="1716.4" stroke="#000" stroke-width="2" />
<text x="71.4" y="1722.2" font-size="16.3" text-anchor="end" fill="#111">100</text>
<line x1="74.9" y1="1753.4" x2="81.9" y2="1753.4" stroke="#000" stroke-width="2" />
<text x="71.4" y="1759.2" font-size="16.3" text-anchor="end" fill="#111">75</text>
<line x1="74.9" y1="1790.5" x2="81.9" y2="1790.5" stroke="#000" stroke-width="2" />
<text x="71.4" y="1796.3" font-size="16.3" text-anchor="end" fill="#111">50</text>
<line x1="74.9" y1="1827.6" x2="81.9" y2="1827.6" stroke="#000" stroke-width="2" />
<text x="71.4" y="1833.4" font-size="16.3" text-anchor="end" fill="#111">25</text>
<line x1="74.9" y1="1864.6" x2="81.9" y2="1864.6" stroke="#000" stroke-width="2" />
<text x="71.4" y="1870.4" font-size="16.3" text-anchor="end" fill="#111">0</text>
<line x1="74.9" y1="1901.7" x2="81.9" y2="1901.7" stroke="#000" stroke-width="2" />
<text x="71.4" y="1907.5" font-size="16.3" text-anchor="end" fill="#111">-25</text>
<line x1="81.9" y1="1901.7" x2="81.9" y2="1908.7" stroke="#000" stroke-width="2" />
<text x="66.6" y="1927.3" font-size="16.3" fill="#111">10<tspan font-size="10.3" dy="-5.4" dx="1.6">-5</tspan></text>
<line x1="93.1" y1="1901.7" x2="93.1" y2="1905.3" stroke="#000" stroke-width="1.9" />
<line x1="99.6" y1="1901.7" x2="99.6" y2="1905.3" stroke="#000" stroke-width="1.9" />
<line x1="104.2" y1="1901.7" x2="104.2" y2="1905.3" stroke="#000" stroke-width="1.9" />
<line x1="107.8" y1="1901.7" x2="107.8" y2="1905.3" stroke="#000" stroke-width="1.9" />
<line x1="110.7" y1="1901.7" x2="110.7" y2="1905.3" stroke="#000" stroke-width="1.9" />
<line x1="113.2" y1="1901.7" x2="113.2" y2="1905.3" stroke="#000" stroke-width="1.9" />
<line x1="115.4" y1="1901.7" x2="115.4" y2="1905.3" stroke="#000" stroke-width="1.9" />
<line x1="117.3" y1="1901.7" x2="117.3" y2="1905.3" stroke="#000" stroke-width="1.9" />
<line x1="119.0" y1="1901.7" x2="119.0" y2="1908.7" stroke="#000" stroke-width="2" />
<text x="103.7" y="1927.3" font-size="16.3" fill="#111">10<tspan font-size="10.3" dy="-5.4" dx="1.6">-4</tspan></text>
<line x1="130.1" y1="1901.7" x2="130.1" y2="1905.3" stroke="#000" stroke-width="1.9" />
<line x1="136.7" y1="1901.7" x2="136.7" y2="1905.3" stroke="#000" stroke-width="1.9" />
<line x1="141.3" y1="1901.7" x2="141.3" y2="1905.3" stroke="#000" stroke-width="1.9" />
<line x1="144.9" y1="1901.7" x2="144.9" y2="1905.3" stroke="#000" stroke-width="1.9" />
<line x1="147.8" y1="1901.7" x2="147.8" y2="1905.3" stroke="#000" stroke-width="1.9" />
<line x1="150.3" y1="1901.7" x2="150.3" y2="1905.3" stroke="#000" stroke-width="1.9" />
<line x1="152.4" y1="1901.7" x2="152.4" y2="1905.3" stroke="#000" stroke-width="1.9" />
<line x1="154.3" y1="1901.7" x2="154.3" y2="1905.3" stroke="#000" stroke-width="1.9" />
<line x1="156.0" y1="1901.7" x2="156.0" y2="1908.7" stroke="#000" stroke-width="2" />
<text x="140.7" y="1927.3" font-size="16.3" fill="#111">10<tspan font-size="10.3" dy="-5.4" dx="1.6">-3</tspan></text>
<line x1="167.2" y1="1901.7" x2="167.2" y2="1905.3" stroke="#000" stroke-width="1.9" />
<line x1="173.7" y1="1901.7" x2="173.7" y2="1905.3" stroke="#000" stroke-width="1.9" />
<line x1="178.3" y1="1901.7" x2="178.3" y2="1905.3" stroke="#000" stroke-width="1.9" />
<line x1="181.9" y1="1901.7" x2="181.9" y2="1905.3" stroke="#000" stroke-width="1.9" />
<line x1="184.9" y1="1901.7" x2="184.9" y2="1905.3" stroke="#000" stroke-width="1.9" />
<line x1="187.4" y1="1901.7" x2="187.4" y2="1905.3" stroke="#000" stroke-width="1.9" />
<line x1="189.5" y1="1901.7" x2="189.5" y2="1905.3" stroke="#000" stroke-width="1.9" />
<line x1="191.4" y1="1901.7" x2="191.4" y2="1905.3" stroke="#000" stroke-width="1.9" />
<line x1="193.1" y1="1901.7" x2="193.1" y2="1908.7" stroke="#000" stroke-width="2" />
<text x="177.8" y="1927.3" font-size="16.3" fill="#111">10<tspan font-size="10.3" dy="-5.4" dx="1.6">-2</tspan></text>
<line x1="204.3" y1="1901.7" x2="204.3" y2="1905.3" stroke="#000" stroke-width="1.9" />
<line x1="210.8" y1="1901.7" x2="210.8" y2="1905.3" stroke="#000" stroke-width="1.9" />
<line x1="215.4" y1="1901.7" x2="215.4" y2="1905.3" stroke="#000" stroke-width="1.9" />
<line x1="219.0" y1="1901.7" x2="219.0" y2="1905.3" stroke="#000" stroke-width="1.9" />
<line x1="221.9" y1="1901.7" x2="221.9" y2="1905.3" stroke="#000" stroke-width="1.9" />
<line x1="224.4" y1="1901.7" x2="224.4" y2="1905.3" stroke="#000" stroke-width="1.9" />
<line x1="226.6" y1="1901.7" x2="226.6" y2="1905.3" stroke="#000" stroke-width="1.9" />
<line x1="228.5" y1="1901.7" x2="228.5" y2="1905.3" stroke="#000" stroke-width="1.9" />
<line x1="230.2" y1="1901.7" x2="230.2" y2="1908.7" stroke="#000" stroke-width="2" />
<text x="214.9" y="1927.3" font-size="16.3" fill="#111">10<tspan font-size="10.3" dy="-5.4" dx="1.6">-1</tspan></text>
<line x1="241.3" y1="1901.7" x2="241.3" y2="1905.3" stroke="#000" stroke-width="1.9" />
<line x1="247.9" y1="1901.7" x2="247.9" y2="1905.3" stroke="#000" stroke-width="1.9" />
<line x1="252.5" y1="1901.7" x2="252.5" y2="1905.3" stroke="#000" stroke-width="1.9" />
<line x1="256.1" y1="1901.7" x2="256.1" y2="1905.3" stroke="#000" stroke-width="1.9" />
<line x1="259.0" y1="1901.7" x2="259.0" y2="1905.3" stroke="#000" stroke-width="1.9" />
<line x1="261.5" y1="1901.7" x2="261.5" y2="1905.3" stroke="#000" stroke-width="1.9" />
<line x1="263.6" y1="1901.7" x2="263.6" y2="1905.3" stroke="#000" stroke-width="1.9" />
<line x1="265.5" y1="1901.7" x2="265.5" y2="1905.3" stroke="#000" stroke-width="1.9" />
<line x1="267.2" y1="1901.7" x2="267.2" y2="1908.7" stroke="#000" stroke-width="2" />
<text x="251.9" y="1927.3" font-size="16.3" fill="#111">10<tspan font-size="10.3" dy="-5.4" dx="1.6">0</tspan></text>
<line x1="278.4" y1="1901.7" x2="278.4" y2="1905.3" stroke="#000" stroke-width="1.9" />
<line x1="284.9" y1="1901.7" x2="284.9" y2="1905.3" stroke="#000" stroke-width="1.9" />
<line x1="289.5" y1="1901.7" x2="289.5" y2="1905.3" stroke="#000" stroke-width="1.9" />
<line x1="293.1" y1="1901.7" x2="293.1" y2="1905.3" stroke="#000" stroke-width="1.9" />
<line x1="296.1" y1="1901.7" x2="296.1" y2="1905.3" stroke="#000" stroke-width="1.9" />
<line x1="298.6" y1="1901.7" x2="298.6" y2="1905.3" stroke="#000" stroke-width="1.9" />
<line x1="300.7" y1="1901.7" x2="300.7" y2="1905.3" stroke="#000" stroke-width="1.9" />
<line x1="302.6" y1="1901.7" x2="302.6" y2="1905.3" stroke="#000" stroke-width="1.9" />
<line x1="304.3" y1="1901.7" x2="304.3" y2="1908.7" stroke="#000" stroke-width="2" />
<text x="289.0" y="1927.3" font-size="16.3" fill="#111">10<tspan font-size="10.3" dy="-5.4" dx="1.6">1</tspan></text>
<line x1="81.9" y1="1864.6" x2="304.3" y2="1864.6" stroke="#000" stroke-width="2.3" stroke-dasharray="6.3 4.85"/>
<g clip-path="url(#cp81_1679)"><clipPath id="cp81_1679"><rect x="81.9" y="1679.3" width="222.4" height="222.4"/></clipPath><path d="M93.1,1864.6 L96.1,1864.5 L99.2,1864.5 L102.3,1864.5 L105.4,1864.5 L108.5,1864.5 L111.6,1864.5 L114.7,1864.5 L117.8,1864.4 L120.9,1864.4 L123.9,1864.4 L127.0,1864.3 L130.1,1864.3 L133.2,1864.3 L136.3,1864.2 L139.4,1864.2 L142.5,1864.1 L145.6,1864.0 L148.7,1864.0 L151.7,1863.9 L154.8,1863.8 L157.9,1863.7 L161.0,1863.6 L164.1,1863.4 L167.2,1863.3 L170.3,1863.1 L173.4,1862.9 L176.5,1862.7 L179.5,1862.4 L182.6,1862.2 L185.7,1861.9 L188.8,1861.5 L191.9,1861.1 L195.0,1860.7 L198.1,1860.2 L201.2,1859.6 L204.3,1859.0 L207.3,1858.3 L210.4,1857.5 L213.5,1856.7 L216.6,1855.7 L219.7,1854.7 L222.8,1853.5 L225.9,1852.2 L229.0,1850.7 L232.1,1849.1 L235.1,1847.3 L238.2,1845.4 L241.3,1843.3 L244.4,1841.0 L247.5,1838.5 L250.6,1835.8 L253.7,1832.9 L256.8,1829.7 L259.9,1826.4 L262.9,1822.9 L266.0,1819.2 L269.1,1815.3 L272.2,1811.2 L275.3,1807.0 L278.4,1802.7" stroke="#fc9f42" stroke-width="2.2" fill="none" />
<path d="M93.1,1864.6 L96.1,1864.6 L99.2,1864.6 L102.3,1864.5 L105.4,1864.5 L108.5,1864.5 L111.6,1864.5 L114.7,1864.5 L117.8,1864.5 L120.9,1864.4 L123.9,1864.4 L127.0,1864.4 L130.1,1864.3 L133.2,1864.3 L136.3,1864.3 L139.4,1864.2 L142.5,1864.2 L145.6,1864.1 L148.7,1864.0 L151.7,1864.0 L154.8,1863.9 L157.9,1863.8 L161.0,1863.7 L164.1,1863.5 L167.2,1863.4 L170.3,1863.2 L173.4,1863.0 L176.5,1862.8 L179.5,1862.6 L182.6,1862.3 L185.7,1862.0 L188.8,1861.7 L191.9,1861.3 L195.0,1860.9 L198.1,1860.4 L201.2,1859.9 L204.3,1859.3 L207.3,1858.6 L210.4,1857.8 L213.5,1857.0 L216.6,1856.0 L219.7,1855.0 L222.8,1853.8 L225.9,1852.5 L229.0,1851.0 L232.1,1849.4 L235.1,1847.6 L238.2,1845.7 L241.3,1843.5 L244.4,1841.2 L247.5,1838.6 L250.6,1835.9 L253.7,1832.9 L256.8,1829.7 L259.9,1826.3 L262.9,1822.7 L266.0,1818.8 L269.1,1814.8 L272.2,1810.7 L275.3,1806.3 L278.4,1801.9" stroke="#5a57f6" stroke-width="2.2" fill="none" />
<path d="M93.1,1864.1 L96.1,1863.9 L99.2,1863.8 L102.3,1863.6 L105.4,1863.3 L108.5,1863.0 L111.6,1862.6 L114.7,1862.2 L117.8,1861.6 L120.9,1861.0 L123.9,1860.2 L127.0,1859.2 L130.1,1858.0 L133.2,1856.5 L136.3,1854.8 L139.4,1852.7 L142.5,1850.2 L145.6,1847.3 L148.7,1843.8 L151.7,1839.8 L154.8,1835.3 L157.9,1830.1 L161.0,1824.3 L164.1,1817.9 L167.2,1811.1 L170.3,1803.8 L173.4,1796.2 L176.5,1788.6 L179.5,1780.9 L182.6,1773.5 L185.7,1766.4 L188.8,1759.8 L191.9,1753.7 L195.0,1748.2 L198.1,1743.3 L201.2,1739.1 L204.3,1735.4 L207.3,1732.2 L210.4,1729.5 L213.5,1727.2 L216.6,1725.3 L219.7,1723.7 L222.8,1722.4 L225.9,1721.3 L229.0,1720.4 L232.1,1719.7 L235.1,1719.1 L238.2,1718.6 L241.3,1718.2 L244.4,1717.8 L247.5,1717.6 L250.6,1717.3 L253.7,1717.2 L256.8,1717.0 L259.9,1716.9 L262.9,1716.8 L266.0,1716.7 L269.1,1716.6 L272.2,1716.6 L275.3,1716.6 L278.4,1716.5" stroke="#2e2e2e" stroke-width="2.2" fill="none" />
<line x1="93.1" y1="1854.0" x2="93.1" y2="1920.0" stroke="#fc9f42" stroke-width="2" />
<line x1="88.8" y1="1854.0" x2="97.4" y2="1854.0" stroke="#fc9f42" stroke-width="2" />
<line x1="88.8" y1="1920.0" x2="97.4" y2="1920.0" stroke="#fc9f42" stroke-width="2" />
<circle cx="93.1" cy="1884.0" r="4.4" fill="#fc9f42" stroke="none" stroke-width="0" />
<line x1="130.1" y1="1862.0" x2="130.1" y2="1920.0" stroke="#fc9f42" stroke-width="2" />
<line x1="125.8" y1="1862.0" x2="134.4" y2="1862.0" stroke="#fc9f42" stroke-width="2" />
<line x1="125.8" y1="1920.0" x2="134.4" y2="1920.0" stroke="#fc9f42" stroke-width="2" />
<circle cx="130.1" cy="1880.0" r="4.4" fill="#fc9f42" stroke="none" stroke-width="0" />
<line x1="167.2" y1="1842.4" x2="167.2" y2="1893.1" stroke="#fc9f42" stroke-width="2" />
<line x1="162.9" y1="1842.4" x2="171.5" y2="1842.4" stroke="#fc9f42" stroke-width="2" />
<line x1="162.9" y1="1893.1" x2="171.5" y2="1893.1" stroke="#fc9f42" stroke-width="2" />
<circle cx="167.2" cy="1867.8" r="4.4" fill="#fc9f42" stroke="none" stroke-width="0" />
<line x1="204.3" y1="1835.0" x2="204.3" y2="1880.0" stroke="#fc9f42" stroke-width="2" />
<line x1="200.0" y1="1835.0" x2="208.6" y2="1835.0" stroke="#fc9f42" stroke-width="2" />
<line x1="200.0" y1="1880.0" x2="208.6" y2="1880.0" stroke="#fc9f42" stroke-width="2" />
<circle cx="204.3" cy="1857.7" r="4.4" fill="#fc9f42" stroke="none" stroke-width="0" />
<line x1="241.3" y1="1805.1" x2="241.3" y2="1872.3" stroke="#fc9f42" stroke-width="2" />
<line x1="237.0" y1="1805.1" x2="245.6" y2="1805.1" stroke="#fc9f42" stroke-width="2" />
<line x1="237.0" y1="1872.3" x2="245.6" y2="1872.3" stroke="#fc9f42" stroke-width="2" />
<circle cx="241.3" cy="1838.7" r="4.4" fill="#fc9f42" stroke="none" stroke-width="0" />
<line x1="278.4" y1="1791.9" x2="278.4" y2="1816.4" stroke="#fc9f42" stroke-width="2" />
<line x1="274.1" y1="1791.9" x2="282.7" y2="1791.9" stroke="#fc9f42" stroke-width="2" />
<line x1="274.1" y1="1816.4" x2="282.7" y2="1816.4" stroke="#fc9f42" stroke-width="2" />
<circle cx="278.4" cy="1804.2" r="4.4" fill="#fc9f42" stroke="none" stroke-width="0" />
<line x1="93.1" y1="1825.0" x2="93.1" y2="1881.5" stroke="#5a57f6" stroke-width="2" />
<line x1="88.8" y1="1825.0" x2="97.4" y2="1825.0" stroke="#5a57f6" stroke-width="2" />
<line x1="88.8" y1="1881.5" x2="97.4" y2="1881.5" stroke="#5a57f6" stroke-width="2" />
<circle cx="93.1" cy="1853.1" r="4.4" fill="#5a57f6" stroke="none" stroke-width="0" />
<line x1="130.1" y1="1849.4" x2="130.1" y2="1891.6" stroke="#5a57f6" stroke-width="2" />
<line x1="125.8" y1="1849.4" x2="134.4" y2="1849.4" stroke="#5a57f6" stroke-width="2" />
<line x1="125.8" y1="1891.6" x2="134.4" y2="1891.6" stroke="#5a57f6" stroke-width="2" />
<circle cx="130.1" cy="1870.8" r="4.4" fill="#5a57f6" stroke="none" stroke-width="0" />
<line x1="167.2" y1="1830.2" x2="167.2" y2="1858.0" stroke="#5a57f6" stroke-width="2" />
<line x1="162.9" y1="1830.2" x2="171.5" y2="1830.2" stroke="#5a57f6" stroke-width="2" />
<line x1="162.9" y1="1858.0" x2="171.5" y2="1858.0" stroke="#5a57f6" stroke-width="2" />
<circle cx="167.2" cy="1844.2" r="4.4" fill="#5a57f6" stroke="none" stroke-width="0" />
<line x1="204.3" y1="1846.4" x2="204.3" y2="1855.5" stroke="#5a57f6" stroke-width="2" />
<line x1="200.0" y1="1846.4" x2="208.6" y2="1846.4" stroke="#5a57f6" stroke-width="2" />
<line x1="200.0" y1="1855.5" x2="208.6" y2="1855.5" stroke="#5a57f6" stroke-width="2" />
<circle cx="204.3" cy="1851.0" r="4.4" fill="#5a57f6" stroke="none" stroke-width="0" />
<line x1="241.3" y1="1825.0" x2="241.3" y2="1877.8" stroke="#5a57f6" stroke-width="2" />
<line x1="237.0" y1="1825.0" x2="245.6" y2="1825.0" stroke="#5a57f6" stroke-width="2" />
<line x1="237.0" y1="1877.8" x2="245.6" y2="1877.8" stroke="#5a57f6" stroke-width="2" />
<circle cx="241.3" cy="1851.6" r="4.4" fill="#5a57f6" stroke="none" stroke-width="0" />
<line x1="278.4" y1="1771.5" x2="278.4" y2="1823.4" stroke="#5a57f6" stroke-width="2" />
<line x1="274.1" y1="1771.5" x2="282.7" y2="1771.5" stroke="#5a57f6" stroke-width="2" />
<line x1="274.1" y1="1823.4" x2="282.7" y2="1823.4" stroke="#5a57f6" stroke-width="2" />
<circle cx="278.4" cy="1797.8" r="4.4" fill="#5a57f6" stroke="none" stroke-width="0" />
<line x1="93.1" y1="1818.8" x2="93.1" y2="1866.2" stroke="#2e2e2e" stroke-width="2" />
<line x1="88.8" y1="1818.8" x2="97.4" y2="1818.8" stroke="#2e2e2e" stroke-width="2" />
<line x1="88.8" y1="1866.2" x2="97.4" y2="1866.2" stroke="#2e2e2e" stroke-width="2" />
<circle cx="93.1" cy="1842.7" r="4.4" fill="#2e2e2e" stroke="none" stroke-width="0" />
<line x1="130.1" y1="1827.1" x2="130.1" y2="1860.7" stroke="#2e2e2e" stroke-width="2" />
<line x1="125.8" y1="1827.1" x2="134.4" y2="1827.1" stroke="#2e2e2e" stroke-width="2" />
<line x1="125.8" y1="1860.7" x2="134.4" y2="1860.7" stroke="#2e2e2e" stroke-width="2" />
<circle cx="130.1" cy="1843.9" r="4.4" fill="#2e2e2e" stroke="none" stroke-width="0" />
<line x1="167.2" y1="1795.9" x2="167.2" y2="1835.0" stroke="#2e2e2e" stroke-width="2" />
<line x1="162.9" y1="1795.9" x2="171.5" y2="1795.9" stroke="#2e2e2e" stroke-width="2" />
<line x1="162.9" y1="1835.0" x2="171.5" y2="1835.0" stroke="#2e2e2e" stroke-width="2" />
<circle cx="167.2" cy="1815.8" r="4.4" fill="#2e2e2e" stroke="none" stroke-width="0" />
<line x1="204.3" y1="1726.5" x2="204.3" y2="1735.0" stroke="#2e2e2e" stroke-width="2" />
<line x1="200.0" y1="1726.5" x2="208.6" y2="1726.5" stroke="#2e2e2e" stroke-width="2" />
<line x1="200.0" y1="1735.0" x2="208.6" y2="1735.0" stroke="#2e2e2e" stroke-width="2" />
<circle cx="204.3" cy="1730.8" r="4.4" fill="#2e2e2e" stroke="none" stroke-width="0" />
<circle cx="241.3" cy="1717.0" r="4.4" fill="#2e2e2e" stroke="none" stroke-width="0" />
<circle cx="278.4" cy="1716.4" r="4.4" fill="#2e2e2e" stroke="none" stroke-width="0" />
</g>
<rect x="81.9" y="1679.3" width="222.4" height="222.4" fill="none" stroke="#000" stroke-width="2"/>
<text x="87.1" y="1699.9" font-size="16.3" fill="#111">Bamlanivimab</text>
<text x="193.1" y="1956.1" font-size="18.5" text-anchor="middle" fill="#111">Concentration [µg/ml]</text>
<text x="34.4" y="1790.5" font-size="18.5" text-anchor="middle" transform="rotate(-90 34.4 1790.5)" fill="#111">Inhibition [%]</text>
<rect x="389.2" y="1864.6" width="222.4" height="37.1" fill="#d3d3d3" />
<line x1="382.2" y1="1679.3" x2="389.2" y2="1679.3" stroke="#000" stroke-width="2" />
<text x="378.7" y="1685.1" font-size="16.3" text-anchor="end" fill="#111">125</text>
<line x1="382.2" y1="1716.4" x2="389.2" y2="1716.4" stroke="#000" stroke-width="2" />
<text x="378.7" y="1722.2" font-size="16.3" text-anchor="end" fill="#111">100</text>
<line x1="382.2" y1="1753.4" x2="389.2" y2="1753.4" stroke="#000" stroke-width="2" />
<text x="378.7" y="1759.2" font-size="16.3" text-anchor="end" fill="#111">75</text>
<line x1="382.2" y1="1790.5" x2="389.2" y2="1790.5" stroke="#000" stroke-width="2" />
<text x="378.7" y="1796.3" font-size="16.3" text-anchor="end" fill="#111">50</text>
<line x1="382.2" y1="1827.6" x2="389.2" y2="1827.6" stroke="#000" stroke-width="2" />
<text x="378.7" y="1833.4" font-size="16.3" text-anchor="end" fill="#111">25</text>
<line x1="382.2" y1="1864.6" x2="389.2" y2="1864.6" stroke="#000" stroke-width="2" />
<text x="378.7" y="1870.4" font-size="16.3" text-anchor="end" fill="#111">0</text>
<line x1="382.2" y1="1901.7" x2="389.2" y2="1901.7" stroke="#000" stroke-width="2" />
<text x="378.7" y="1907.5" font-size="16.3" text-anchor="end" fill="#111">-25</text>
<line x1="389.2" y1="1901.7" x2="389.2" y2="1908.7" stroke="#000" stroke-width="2" />
<text x="373.9" y="1927.3" font-size="16.3" fill="#111">10<tspan font-size="10.3" dy="-5.4" dx="1.6">-5</tspan></text>
<line x1="400.4" y1="1901.7" x2="400.4" y2="1905.3" stroke="#000" stroke-width="1.9" />
<line x1="406.9" y1="1901.7" x2="406.9" y2="1905.3" stroke="#000" stroke-width="1.9" />
<line x1="411.5" y1="1901.7" x2="411.5" y2="1905.3" stroke="#000" stroke-width="1.9" />
<line x1="415.1" y1="1901.7" x2="415.1" y2="1905.3" stroke="#000" stroke-width="1.9" />
<line x1="418.0" y1="1901.7" x2="418.0" y2="1905.3" stroke="#000" stroke-width="1.9" />
<line x1="420.5" y1="1901.7" x2="420.5" y2="1905.3" stroke="#000" stroke-width="1.9" />
<line x1="422.7" y1="1901.7" x2="422.7" y2="1905.3" stroke="#000" stroke-width="1.9" />
<line x1="424.6" y1="1901.7" x2="424.6" y2="1905.3" stroke="#000" stroke-width="1.9" />
<line x1="426.3" y1="1901.7" x2="426.3" y2="1908.7" stroke="#000" stroke-width="2" />
<text x="411.0" y="1927.3" font-size="16.3" fill="#111">10<tspan font-size="10.3" dy="-5.4" dx="1.6">-4</tspan></text>
<line x1="437.4" y1="1901.7" x2="437.4" y2="1905.3" stroke="#000" stroke-width="1.9" />
<line x1="444.0" y1="1901.7" x2="444.0" y2="1905.3" stroke="#000" stroke-width="1.9" />
<line x1="448.6" y1="1901.7" x2="448.6" y2="1905.3" stroke="#000" stroke-width="1.9" />
<line x1="452.2" y1="1901.7" x2="452.2" y2="1905.3" stroke="#000" stroke-width="1.9" />
<line x1="455.1" y1="1901.7" x2="455.1" y2="1905.3" stroke="#000" stroke-width="1.9" />
<line x1="457.6" y1="1901.7" x2="457.6" y2="1905.3" stroke="#000" stroke-width="1.9" />
<line x1="459.7" y1="1901.7" x2="459.7" y2="1905.3" stroke="#000" stroke-width="1.9" />
<line x1="461.6" y1="1901.7" x2="461.6" y2="1905.3" stroke="#000" stroke-width="1.9" />
<line x1="463.3" y1="1901.7" x2="463.3" y2="1908.7" stroke="#000" stroke-width="2" />
<text x="448.0" y="1927.3" font-size="16.3" fill="#111">10<tspan font-size="10.3" dy="-5.4" dx="1.6">-3</tspan></text>
<line x1="474.5" y1="1901.7" x2="474.5" y2="1905.3" stroke="#000" stroke-width="1.9" />
<line x1="481.0" y1="1901.7" x2="481.0" y2="1905.3" stroke="#000" stroke-width="1.9" />
<line x1="485.6" y1="1901.7" x2="485.6" y2="1905.3" stroke="#000" stroke-width="1.9" />
<line x1="489.2" y1="1901.7" x2="489.2" y2="1905.3" stroke="#000" stroke-width="1.9" />
<line x1="492.2" y1="1901.7" x2="492.2" y2="1905.3" stroke="#000" stroke-width="1.9" />
<line x1="494.7" y1="1901.7" x2="494.7" y2="1905.3" stroke="#000" stroke-width="1.9" />
<line x1="496.8" y1="1901.7" x2="496.8" y2="1905.3" stroke="#000" stroke-width="1.9" />
<line x1="498.7" y1="1901.7" x2="498.7" y2="1905.3" stroke="#000" stroke-width="1.9" />
<line x1="500.4" y1="1901.7" x2="500.4" y2="1908.7" stroke="#000" stroke-width="2" />
<text x="485.1" y="1927.3" font-size="16.3" fill="#111">10<tspan font-size="10.3" dy="-5.4" dx="1.6">-2</tspan></text>
<line x1="511.6" y1="1901.7" x2="511.6" y2="1905.3" stroke="#000" stroke-width="1.9" />
<line x1="518.1" y1="1901.7" x2="518.1" y2="1905.3" stroke="#000" stroke-width="1.9" />
<line x1="522.7" y1="1901.7" x2="522.7" y2="1905.3" stroke="#000" stroke-width="1.9" />
<line x1="526.3" y1="1901.7" x2="526.3" y2="1905.3" stroke="#000" stroke-width="1.9" />
<line x1="529.2" y1="1901.7" x2="529.2" y2="1905.3" stroke="#000" stroke-width="1.9" />
<line x1="531.7" y1="1901.7" x2="531.7" y2="1905.3" stroke="#000" stroke-width="1.9" />
<line x1="533.9" y1="1901.7" x2="533.9" y2="1905.3" stroke="#000" stroke-width="1.9" />
<line x1="535.8" y1="1901.7" x2="535.8" y2="1905.3" stroke="#000" stroke-width="1.9" />
<line x1="537.5" y1="1901.7" x2="537.5" y2="1908.7" stroke="#000" stroke-width="2" />
<text x="522.2" y="1927.3" font-size="16.3" fill="#111">10<tspan font-size="10.3" dy="-5.4" dx="1.6">-1</tspan></text>
<line x1="548.6" y1="1901.7" x2="548.6" y2="1905.3" stroke="#000" stroke-width="1.9" />
<line x1="555.2" y1="1901.7" x2="555.2" y2="1905.3" stroke="#000" stroke-width="1.9" />
<line x1="559.8" y1="1901.7" x2="559.8" y2="1905.3" stroke="#000" stroke-width="1.9" />
<line x1="563.4" y1="1901.7" x2="563.4" y2="1905.3" stroke="#000" stroke-width="1.9" />
<line x1="566.3" y1="1901.7" x2="566.3" y2="1905.3" stroke="#000" stroke-width="1.9" />
<line x1="568.8" y1="1901.7" x2="568.8" y2="1905.3" stroke="#000" stroke-width="1.9" />
<line x1="570.9" y1="1901.7" x2="570.9" y2="1905.3" stroke="#000" stroke-width="1.9" />
<line x1="572.8" y1="1901.7" x2="572.8" y2="1905.3" stroke="#000" stroke-width="1.9" />
<line x1="574.5" y1="1901.7" x2="574.5" y2="1908.7" stroke="#000" stroke-width="2" />
<text x="559.2" y="1927.3" font-size="16.3" fill="#111">10<tspan font-size="10.3" dy="-5.4" dx="1.6">0</tspan></text>
<line x1="585.7" y1="1901.7" x2="585.7" y2="1905.3" stroke="#000" stroke-width="1.9" />
<line x1="592.2" y1="1901.7" x2="592.2" y2="1905.3" stroke="#000" stroke-width="1.9" />
<line x1="596.8" y1="1901.7" x2="596.8" y2="1905.3" stroke="#000" stroke-width="1.9" />
<line x1="600.4" y1="1901.7" x2="600.4" y2="1905.3" stroke="#000" stroke-width="1.9" />
<line x1="603.4" y1="1901.7" x2="603.4" y2="1905.3" stroke="#000" stroke-width="1.9" />
<line x1="605.9" y1="1901.7" x2="605.9" y2="1905.3" stroke="#000" stroke-width="1.9" />
<line x1="608.0" y1="1901.7" x2="608.0" y2="1905.3" stroke="#000" stroke-width="1.9" />
<line x1="609.9" y1="1901.7" x2="609.9" y2="1905.3" stroke="#000" stroke-width="1.9" />
<line x1="611.6" y1="1901.7" x2="611.6" y2="1908.7" stroke="#000" stroke-width="2" />
<text x="596.3" y="1927.3" font-size="16.3" fill="#111">10<tspan font-size="10.3" dy="-5.4" dx="1.6">1</tspan></text>
<line x1="389.2" y1="1864.6" x2="611.6" y2="1864.6" stroke="#000" stroke-width="2.3" stroke-dasharray="6.3 4.85"/>
<g clip-path="url(#cp389_1679)"><clipPath id="cp389_1679"><rect x="389.2" y="1679.3" width="222.4" height="222.4"/></clipPath><path d="M400.4,1864.4 L403.4,1864.4 L406.5,1864.3 L409.6,1864.2 L412.7,1864.0 L415.8,1863.9 L418.9,1863.7 L422.0,1863.4 L425.1,1863.0 L428.2,1862.6 L431.2,1862.0 L434.3,1861.3 L437.4,1860.4 L440.5,1859.3 L443.6,1857.8 L446.7,1856.0 L449.8,1853.7 L452.9,1850.9 L456.0,1847.5 L459.0,1843.3 L462.1,1838.3 L465.2,1832.5 L468.3,1825.8 L471.4,1818.2 L474.5,1809.9 L477.6,1801.0 L480.7,1791.9 L483.8,1782.6 L486.8,1773.7 L489.9,1765.2 L493.0,1757.4 L496.1,1750.4 L499.2,1744.3 L502.3,1739.1 L505.4,1734.7 L508.5,1731.0 L511.6,1728.1 L514.6,1725.6 L517.7,1723.7 L520.8,1722.1 L523.9,1720.9 L527.0,1719.9 L530.1,1719.2 L533.2,1718.5 L536.3,1718.1 L539.4,1717.7 L542.4,1717.4 L545.5,1717.2 L548.6,1717.0 L551.7,1716.9 L554.8,1716.8 L557.9,1716.7 L561.0,1716.6 L564.1,1716.5 L567.2,1716.5 L570.2,1716.5 L573.3,1716.5 L576.4,1716.4 L579.5,1716.4 L582.6,1716.4 L585.7,1716.4" stroke="#fc9f42" stroke-width="2.2" fill="none" />
<path d="M400.4,1862.2 L403.4,1861.8 L406.5,1861.3 L409.6,1860.8 L412.7,1860.1 L415.8,1859.3 L418.9,1858.4 L422.0,1857.4 L425.1,1856.2 L428.2,1854.8 L431.2,1853.1 L434.3,1851.3 L437.4,1849.2 L440.5,1846.8 L443.6,1844.0 L446.7,1841.0 L449.8,1837.6 L452.9,1833.8 L456.0,1829.6 L459.0,1825.0 L462.1,1820.1 L465.2,1814.9 L468.3,1809.3 L471.4,1803.6 L474.5,1797.7 L477.6,1791.6 L480.7,1785.6 L483.8,1779.6 L486.8,1773.8 L489.9,1768.2 L493.0,1762.8 L496.1,1757.8 L499.2,1753.1 L502.3,1748.8 L505.4,1744.8 L508.5,1741.3 L511.6,1738.1 L514.6,1735.2 L517.7,1732.7 L520.8,1730.5 L523.9,1728.5 L527.0,1726.8 L530.1,1725.3 L533.2,1724.1 L536.3,1723.0 L539.4,1722.0 L542.4,1721.2 L545.5,1720.5 L548.6,1719.9 L551.7,1719.4 L554.8,1718.9 L557.9,1718.5 L561.0,1718.2 L564.1,1717.9 L567.2,1717.7 L570.2,1717.5 L573.3,1717.3 L576.4,1717.2 L579.5,1717.1 L582.6,1717.0 L585.7,1716.9" stroke="#5a57f6" stroke-width="2.2" fill="none" />
<path d="M400.4,1857.2 L403.4,1856.4 L406.5,1855.5 L409.6,1854.6 L412.7,1853.5 L415.8,1852.4 L418.9,1851.2 L422.0,1849.8 L425.1,1848.3 L428.2,1846.8 L431.2,1845.0 L434.3,1843.2 L437.4,1841.2 L440.5,1839.0 L443.6,1836.7 L446.7,1834.2 L449.8,1831.6 L452.9,1828.8 L456.0,1825.8 L459.0,1822.7 L462.1,1819.5 L465.2,1816.1 L468.3,1812.6 L471.4,1809.0 L474.5,1805.3 L477.6,1801.5 L480.7,1797.6 L483.8,1793.7 L486.8,1789.8 L489.9,1785.9 L493.0,1782.0 L496.1,1778.2 L499.2,1774.4 L502.3,1770.8 L505.4,1767.2 L508.5,1763.7 L511.6,1760.4 L514.6,1757.2 L517.7,1754.1 L520.8,1751.2 L523.9,1748.5 L527.0,1745.9 L530.1,1743.5 L533.2,1741.2 L536.3,1739.1 L539.4,1737.2 L542.4,1735.4 L545.5,1733.7 L548.6,1732.1 L551.7,1730.7 L554.8,1729.4 L557.9,1728.2 L561.0,1727.1 L564.1,1726.1 L567.2,1725.2 L570.2,1724.3 L573.3,1723.6 L576.4,1722.9 L579.5,1722.3 L582.6,1721.7 L585.7,1721.2" stroke="#2e2e2e" stroke-width="2.2" fill="none" />
<line x1="400.4" y1="1850.7" x2="400.4" y2="1920.0" stroke="#fc9f42" stroke-width="2" />
<line x1="396.1" y1="1850.7" x2="404.7" y2="1850.7" stroke="#fc9f42" stroke-width="2" />
<line x1="396.1" y1="1920.0" x2="404.7" y2="1920.0" stroke="#fc9f42" stroke-width="2" />
<circle cx="400.4" cy="1880.2" r="4.4" fill="#fc9f42" stroke="none" stroke-width="0" />
<line x1="437.4" y1="1836.0" x2="437.4" y2="1872.8" stroke="#fc9f42" stroke-width="2" />
<line x1="433.1" y1="1836.0" x2="441.7" y2="1836.0" stroke="#fc9f42" stroke-width="2" />
<line x1="433.1" y1="1872.8" x2="441.7" y2="1872.8" stroke="#fc9f42" stroke-width="2" />
<circle cx="437.4" cy="1853.5" r="4.4" fill="#fc9f42" stroke="none" stroke-width="0" />
<line x1="474.5" y1="1784.5" x2="474.5" y2="1843.0" stroke="#fc9f42" stroke-width="2" />
<line x1="470.2" y1="1784.5" x2="478.8" y2="1784.5" stroke="#fc9f42" stroke-width="2" />
<line x1="470.2" y1="1843.0" x2="478.8" y2="1843.0" stroke="#fc9f42" stroke-width="2" />
<circle cx="474.5" cy="1803.4" r="4.4" fill="#fc9f42" stroke="none" stroke-width="0" />
<line x1="511.6" y1="1728.2" x2="511.6" y2="1742.5" stroke="#fc9f42" stroke-width="2" />
<line x1="507.3" y1="1728.2" x2="515.9" y2="1728.2" stroke="#fc9f42" stroke-width="2" />
<line x1="507.3" y1="1742.5" x2="515.9" y2="1742.5" stroke="#fc9f42" stroke-width="2" />
<circle cx="511.6" cy="1737.2" r="4.4" fill="#fc9f42" stroke="none" stroke-width="0" />
<circle cx="548.6" cy="1717.0" r="4.4" fill="#fc9f42" stroke="none" stroke-width="0" />
<circle cx="585.7" cy="1716.4" r="4.4" fill="#fc9f42" stroke="none" stroke-width="0" />
<line x1="400.4" y1="1823.4" x2="400.4" y2="1900.8" stroke="#5a57f6" stroke-width="2" />
<line x1="396.1" y1="1823.4" x2="404.7" y2="1823.4" stroke="#5a57f6" stroke-width="2" />
<line x1="396.1" y1="1900.8" x2="404.7" y2="1900.8" stroke="#5a57f6" stroke-width="2" />
<circle cx="400.4" cy="1862.3" r="4.4" fill="#5a57f6" stroke="none" stroke-width="0" />
<line x1="437.4" y1="1817.7" x2="437.4" y2="1857.0" stroke="#5a57f6" stroke-width="2" />
<line x1="433.1" y1="1817.7" x2="441.7" y2="1817.7" stroke="#5a57f6" stroke-width="2" />
<line x1="433.1" y1="1857.0" x2="441.7" y2="1857.0" stroke="#5a57f6" stroke-width="2" />
<circle cx="437.4" cy="1837.1" r="4.4" fill="#5a57f6" stroke="none" stroke-width="0" />
<line x1="474.5" y1="1777.2" x2="474.5" y2="1829.1" stroke="#5a57f6" stroke-width="2" />
<line x1="470.2" y1="1777.2" x2="478.8" y2="1777.2" stroke="#5a57f6" stroke-width="2" />
<line x1="470.2" y1="1829.1" x2="478.8" y2="1829.1" stroke="#5a57f6" stroke-width="2" />
<circle cx="474.5" cy="1803.4" r="4.4" fill="#5a57f6" stroke="none" stroke-width="0" />
<line x1="511.6" y1="1712.0" x2="511.6" y2="1761.4" stroke="#5a57f6" stroke-width="2" />
<line x1="507.3" y1="1712.0" x2="515.9" y2="1712.0" stroke="#5a57f6" stroke-width="2" />
<line x1="507.3" y1="1761.4" x2="515.9" y2="1761.4" stroke="#5a57f6" stroke-width="2" />
<circle cx="511.6" cy="1736.6" r="4.4" fill="#5a57f6" stroke="none" stroke-width="0" />
<circle cx="548.6" cy="1715.5" r="4.4" fill="#5a57f6" stroke="none" stroke-width="0" />
<circle cx="585.7" cy="1716.4" r="4.4" fill="#5a57f6" stroke="none" stroke-width="0" />
<line x1="400.4" y1="1806.6" x2="400.4" y2="1881.8" stroke="#2e2e2e" stroke-width="2" />
<line x1="396.1" y1="1806.6" x2="404.7" y2="1806.6" stroke="#2e2e2e" stroke-width="2" />
<line x1="396.1" y1="1881.8" x2="404.7" y2="1881.8" stroke="#2e2e2e" stroke-width="2" />
<circle cx="400.4" cy="1844.4" r="4.4" fill="#2e2e2e" stroke="none" stroke-width="0" />
<line x1="437.4" y1="1806.2" x2="437.4" y2="1854.3" stroke="#2e2e2e" stroke-width="2" />
<line x1="433.1" y1="1806.2" x2="441.7" y2="1806.2" stroke="#2e2e2e" stroke-width="2" />
<line x1="433.1" y1="1854.3" x2="441.7" y2="1854.3" stroke="#2e2e2e" stroke-width="2" />
<circle cx="437.4" cy="1830.3" r="4.4" fill="#2e2e2e" stroke="none" stroke-width="0" />
<line x1="474.5" y1="1793.4" x2="474.5" y2="1832.4" stroke="#2e2e2e" stroke-width="2" />
<line x1="470.2" y1="1793.4" x2="478.8" y2="1793.4" stroke="#2e2e2e" stroke-width="2" />
<line x1="470.2" y1="1832.4" x2="478.8" y2="1832.4" stroke="#2e2e2e" stroke-width="2" />
<circle cx="474.5" cy="1813.3" r="4.4" fill="#2e2e2e" stroke="none" stroke-width="0" />
<line x1="511.6" y1="1748.4" x2="511.6" y2="1776.7" stroke="#2e2e2e" stroke-width="2" />
<line x1="507.3" y1="1748.4" x2="515.9" y2="1748.4" stroke="#2e2e2e" stroke-width="2" />
<line x1="507.3" y1="1776.7" x2="515.9" y2="1776.7" stroke="#2e2e2e" stroke-width="2" />
<circle cx="511.6" cy="1763.1" r="4.4" fill="#2e2e2e" stroke="none" stroke-width="0" />
<circle cx="548.6" cy="1718.3" r="4.4" fill="#2e2e2e" stroke="none" stroke-width="0" />
<circle cx="585.7" cy="1716.4" r="4.4" fill="#2e2e2e" stroke="none" stroke-width="0" />
</g>
<rect x="389.2" y="1679.3" width="222.4" height="222.4" fill="none" stroke="#000" stroke-width="2"/>
<text x="394.4" y="1699.9" font-size="16.3" fill="#111">Etesevimab</text>
<text x="500.4" y="1956.1" font-size="18.5" text-anchor="middle" fill="#111">Concentration [µg/ml]</text>
<text x="341.7" y="1790.5" font-size="18.5" text-anchor="middle" transform="rotate(-90 341.7 1790.5)" fill="#111">Inhibition [%]</text>
<rect x="700.5" y="1864.6" width="222.4" height="37.1" fill="#d3d3d3" />
<line x1="693.5" y1="1679.3" x2="700.5" y2="1679.3" stroke="#000" stroke-width="2" />
<text x="690.0" y="1685.1" font-size="16.3" text-anchor="end" fill="#111">125</text>
<line x1="693.5" y1="1716.4" x2="700.5" y2="1716.4" stroke="#000" stroke-width="2" />
<text x="690.0" y="1722.2" font-size="16.3" text-anchor="end" fill="#111">100</text>
<line x1="693.5" y1="1753.4" x2="700.5" y2="1753.4" stroke="#000" stroke-width="2" />
<text x="690.0" y="1759.2" font-size="16.3" text-anchor="end" fill="#111">75</text>
<line x1="693.5" y1="1790.5" x2="700.5" y2="1790.5" stroke="#000" stroke-width="2" />
<text x="690.0" y="1796.3" font-size="16.3" text-anchor="end" fill="#111">50</text>
<line x1="693.5" y1="1827.6" x2="700.5" y2="1827.6" stroke="#000" stroke-width="2" />
<text x="690.0" y="1833.4" font-size="16.3" text-anchor="end" fill="#111">25</text>
<line x1="693.5" y1="1864.6" x2="700.5" y2="1864.6" stroke="#000" stroke-width="2" />
<text x="690.0" y="1870.4" font-size="16.3" text-anchor="end" fill="#111">0</text>
<line x1="693.5" y1="1901.7" x2="700.5" y2="1901.7" stroke="#000" stroke-width="2" />
<text x="690.0" y="1907.5" font-size="16.3" text-anchor="end" fill="#111">-25</text>
<line x1="700.5" y1="1901.7" x2="700.5" y2="1908.7" stroke="#000" stroke-width="2" />
<text x="685.2" y="1927.3" font-size="16.3" fill="#111">10<tspan font-size="10.3" dy="-5.4" dx="1.6">-5</tspan></text>
<line x1="711.7" y1="1901.7" x2="711.7" y2="1905.3" stroke="#000" stroke-width="1.9" />
<line x1="718.2" y1="1901.7" x2="718.2" y2="1905.3" stroke="#000" stroke-width="1.9" />
<line x1="722.8" y1="1901.7" x2="722.8" y2="1905.3" stroke="#000" stroke-width="1.9" />
<line x1="726.4" y1="1901.7" x2="726.4" y2="1905.3" stroke="#000" stroke-width="1.9" />
<line x1="729.3" y1="1901.7" x2="729.3" y2="1905.3" stroke="#000" stroke-width="1.9" />
<line x1="731.8" y1="1901.7" x2="731.8" y2="1905.3" stroke="#000" stroke-width="1.9" />
<line x1="734.0" y1="1901.7" x2="734.0" y2="1905.3" stroke="#000" stroke-width="1.9" />
<line x1="735.9" y1="1901.7" x2="735.9" y2="1905.3" stroke="#000" stroke-width="1.9" />
<line x1="737.6" y1="1901.7" x2="737.6" y2="1908.7" stroke="#000" stroke-width="2" />
<text x="722.3" y="1927.3" font-size="16.3" fill="#111">10<tspan font-size="10.3" dy="-5.4" dx="1.6">-4</tspan></text>
<line x1="748.7" y1="1901.7" x2="748.7" y2="1905.3" stroke="#000" stroke-width="1.9" />
<line x1="755.3" y1="1901.7" x2="755.3" y2="1905.3" stroke="#000" stroke-width="1.9" />
<line x1="759.9" y1="1901.7" x2="759.9" y2="1905.3" stroke="#000" stroke-width="1.9" />
<line x1="763.5" y1="1901.7" x2="763.5" y2="1905.3" stroke="#000" stroke-width="1.9" />
<line x1="766.4" y1="1901.7" x2="766.4" y2="1905.3" stroke="#000" stroke-width="1.9" />
<line x1="768.9" y1="1901.7" x2="768.9" y2="1905.3" stroke="#000" stroke-width="1.9" />
<line x1="771.0" y1="1901.7" x2="771.0" y2="1905.3" stroke="#000" stroke-width="1.9" />
<line x1="772.9" y1="1901.7" x2="772.9" y2="1905.3" stroke="#000" stroke-width="1.9" />
<line x1="774.6" y1="1901.7" x2="774.6" y2="1908.7" stroke="#000" stroke-width="2" />
<text x="759.3" y="1927.3" font-size="16.3" fill="#111">10<tspan font-size="10.3" dy="-5.4" dx="1.6">-3</tspan></text>
<line x1="785.8" y1="1901.7" x2="785.8" y2="1905.3" stroke="#000" stroke-width="1.9" />
<line x1="792.3" y1="1901.7" x2="792.3" y2="1905.3" stroke="#000" stroke-width="1.9" />
<line x1="796.9" y1="1901.7" x2="796.9" y2="1905.3" stroke="#000" stroke-width="1.9" />
<line x1="800.5" y1="1901.7" x2="800.5" y2="1905.3" stroke="#000" stroke-width="1.9" />
<line x1="803.5" y1="1901.7" x2="803.5" y2="1905.3" stroke="#000" stroke-width="1.9" />
<line x1="806.0" y1="1901.7" x2="806.0" y2="1905.3" stroke="#000" stroke-width="1.9" />
<line x1="808.1" y1="1901.7" x2="808.1" y2="1905.3" stroke="#000" stroke-width="1.9" />
<line x1="810.0" y1="1901.7" x2="810.0" y2="1905.3" stroke="#000" stroke-width="1.9" />
<line x1="811.7" y1="1901.7" x2="811.7" y2="1908.7" stroke="#000" stroke-width="2" />
<text x="796.4" y="1927.3" font-size="16.3" fill="#111">10<tspan font-size="10.3" dy="-5.4" dx="1.6">-2</tspan></text>
<line x1="822.9" y1="1901.7" x2="822.9" y2="1905.3" stroke="#000" stroke-width="1.9" />
<line x1="829.4" y1="1901.7" x2="829.4" y2="1905.3" stroke="#000" stroke-width="1.9" />
<line x1="834.0" y1="1901.7" x2="834.0" y2="1905.3" stroke="#000" stroke-width="1.9" />
<line x1="837.6" y1="1901.7" x2="837.6" y2="1905.3" stroke="#000" stroke-width="1.9" />
<line x1="840.5" y1="1901.7" x2="840.5" y2="1905.3" stroke="#000" stroke-width="1.9" />
<line x1="843.0" y1="1901.7" x2="843.0" y2="1905.3" stroke="#000" stroke-width="1.9" />
<line x1="845.2" y1="1901.7" x2="845.2" y2="1905.3" stroke="#000" stroke-width="1.9" />
<line x1="847.1" y1="1901.7" x2="847.1" y2="1905.3" stroke="#000" stroke-width="1.9" />
<line x1="848.8" y1="1901.7" x2="848.8" y2="1908.7" stroke="#000" stroke-width="2" />
<text x="833.5" y="1927.3" font-size="16.3" fill="#111">10<tspan font-size="10.3" dy="-5.4" dx="1.6">-1</tspan></text>
<line x1="859.9" y1="1901.7" x2="859.9" y2="1905.3" stroke="#000" stroke-width="1.9" />
<line x1="866.5" y1="1901.7" x2="866.5" y2="1905.3" stroke="#000" stroke-width="1.9" />
<line x1="871.1" y1="1901.7" x2="871.1" y2="1905.3" stroke="#000" stroke-width="1.9" />
<line x1="874.7" y1="1901.7" x2="874.7" y2="1905.3" stroke="#000" stroke-width="1.9" />
<line x1="877.6" y1="1901.7" x2="877.6" y2="1905.3" stroke="#000" stroke-width="1.9" />
<line x1="880.1" y1="1901.7" x2="880.1" y2="1905.3" stroke="#000" stroke-width="1.9" />
<line x1="882.2" y1="1901.7" x2="882.2" y2="1905.3" stroke="#000" stroke-width="1.9" />
<line x1="884.1" y1="1901.7" x2="884.1" y2="1905.3" stroke="#000" stroke-width="1.9" />
<line x1="885.8" y1="1901.7" x2="885.8" y2="1908.7" stroke="#000" stroke-width="2" />
<text x="870.5" y="1927.3" font-size="16.3" fill="#111">10<tspan font-size="10.3" dy="-5.4" dx="1.6">0</tspan></text>
<line x1="897.0" y1="1901.7" x2="897.0" y2="1905.3" stroke="#000" stroke-width="1.9" />
<line x1="903.5" y1="1901.7" x2="903.5" y2="1905.3" stroke="#000" stroke-width="1.9" />
<line x1="908.1" y1="1901.7" x2="908.1" y2="1905.3" stroke="#000" stroke-width="1.9" />
<line x1="911.7" y1="1901.7" x2="911.7" y2="1905.3" stroke="#000" stroke-width="1.9" />
<line x1="914.7" y1="1901.7" x2="914.7" y2="1905.3" stroke="#000" stroke-width="1.9" />
<line x1="917.2" y1="1901.7" x2="917.2" y2="1905.3" stroke="#000" stroke-width="1.9" />
<line x1="919.3" y1="1901.7" x2="919.3" y2="1905.3" stroke="#000" stroke-width="1.9" />
<line x1="921.2" y1="1901.7" x2="921.2" y2="1905.3" stroke="#000" stroke-width="1.9" />
<line x1="922.9" y1="1901.7" x2="922.9" y2="1908.7" stroke="#000" stroke-width="2" />
<text x="907.6" y="1927.3" font-size="16.3" fill="#111">10<tspan font-size="10.3" dy="-5.4" dx="1.6">1</tspan></text>
<line x1="700.5" y1="1864.6" x2="922.9" y2="1864.6" stroke="#000" stroke-width="2.3" stroke-dasharray="6.3 4.85"/>
<g clip-path="url(#cp700_1679)"><clipPath id="cp700_1679"><rect x="700.5" y="1679.3" width="222.4" height="222.4"/></clipPath><path d="M711.7,1863.1 L714.7,1862.9 L717.8,1862.6 L720.9,1862.3 L724.0,1862.0 L727.1,1861.6 L730.2,1861.2 L733.3,1860.7 L736.4,1860.2 L739.5,1859.5 L742.5,1858.8 L745.6,1858.0 L748.7,1857.1 L751.8,1856.1 L754.9,1855.0 L758.0,1853.7 L761.1,1852.2 L764.2,1850.6 L767.3,1848.8 L770.3,1846.8 L773.4,1844.6 L776.5,1842.2 L779.6,1839.5 L782.7,1836.6 L785.8,1833.4 L788.9,1829.9 L792.0,1826.2 L795.1,1822.3 L798.1,1818.1 L801.2,1813.7 L804.3,1809.1 L807.4,1804.4 L810.5,1799.6 L813.6,1794.6 L816.7,1789.6 L819.8,1784.7 L822.9,1779.8 L825.9,1774.9 L829.0,1770.3 L832.1,1765.7 L835.2,1761.4 L838.3,1757.3 L841.4,1753.5 L844.5,1749.8 L847.6,1746.5 L850.7,1743.4 L853.7,1740.6 L856.8,1738.0 L859.9,1735.6 L863.0,1733.5 L866.1,1731.5 L869.2,1729.8 L872.3,1728.2 L875.4,1726.9 L878.5,1725.6 L881.5,1724.5 L884.6,1723.5 L887.7,1722.7 L890.8,1721.9 L893.9,1721.2 L897.0,1720.6" stroke="#fc9f42" stroke-width="2.2" fill="none" />
<path d="M711.7,1864.6 L714.7,1864.6 L717.8,1864.6 L720.9,1864.6 L724.0,1864.6 L727.1,1864.6 L730.2,1864.6 L733.3,1864.6 L736.4,1864.6 L739.5,1864.6 L742.5,1864.6 L745.6,1864.6 L748.7,1864.6 L751.8,1864.6 L754.9,1864.6 L758.0,1864.6 L761.1,1864.6 L764.2,1864.6 L767.3,1864.5 L770.3,1864.5 L773.4,1864.4 L776.5,1864.2 L779.6,1864.0 L782.7,1863.7 L785.8,1863.2 L788.9,1862.4 L792.0,1861.3 L795.1,1859.5 L798.1,1857.0 L801.2,1853.3 L804.3,1848.0 L807.4,1840.7 L810.5,1831.0 L813.6,1818.8 L816.7,1804.5 L819.8,1789.1 L822.9,1773.7 L825.9,1759.7 L829.0,1748.0 L832.1,1738.7 L835.2,1731.8 L838.3,1726.9 L841.4,1723.4 L844.5,1721.1 L847.6,1719.5 L850.7,1718.4 L853.7,1717.7 L856.8,1717.3 L859.9,1717.0 L863.0,1716.8 L866.1,1716.6 L869.2,1716.5 L872.3,1716.5 L875.4,1716.4 L878.5,1716.4 L881.5,1716.4 L884.6,1716.4 L887.7,1716.4 L890.8,1716.4 L893.9,1716.4 L897.0,1716.4" stroke="#5a57f6" stroke-width="2.2" fill="none" />
<path d="M711.7,1858.7 L714.7,1858.1 L717.8,1857.4 L720.9,1856.6 L724.0,1855.8 L727.1,1854.8 L730.2,1853.8 L733.3,1852.7 L736.4,1851.5 L739.5,1850.2 L742.5,1848.8 L745.6,1847.2 L748.7,1845.5 L751.8,1843.7 L754.9,1841.7 L758.0,1839.6 L761.1,1837.3 L764.2,1834.9 L767.3,1832.3 L770.3,1829.6 L773.4,1826.7 L776.5,1823.6 L779.6,1820.4 L782.7,1817.1 L785.8,1813.6 L788.9,1810.0 L792.0,1806.3 L795.1,1802.5 L798.1,1798.7 L801.2,1794.8 L804.3,1790.9 L807.4,1787.0 L810.5,1783.1 L813.6,1779.3 L816.7,1775.5 L819.8,1771.8 L822.9,1768.2 L825.9,1764.7 L829.0,1761.3 L832.1,1758.1 L835.2,1755.0 L838.3,1752.0 L841.4,1749.3 L844.5,1746.6 L847.6,1744.2 L850.7,1741.9 L853.7,1739.7 L856.8,1737.7 L859.9,1735.9 L863.0,1734.1 L866.1,1732.6 L869.2,1731.1 L872.3,1729.7 L875.4,1728.5 L878.5,1727.4 L881.5,1726.4 L884.6,1725.4 L887.7,1724.6 L890.8,1723.8 L893.9,1723.1 L897.0,1722.4" stroke="#2e2e2e" stroke-width="2.2" fill="none" />
<line x1="711.7" y1="1831.2" x2="711.7" y2="1881.0" stroke="#fc9f42" stroke-width="2" />
<line x1="707.4" y1="1831.2" x2="716.0" y2="1831.2" stroke="#fc9f42" stroke-width="2" />
<line x1="707.4" y1="1881.0" x2="716.0" y2="1881.0" stroke="#fc9f42" stroke-width="2" />
<circle cx="711.7" cy="1856.4" r="4.4" fill="#fc9f42" stroke="none" stroke-width="0" />
<line x1="748.7" y1="1838.1" x2="748.7" y2="1858.5" stroke="#fc9f42" stroke-width="2" />
<line x1="744.4" y1="1838.1" x2="753.0" y2="1838.1" stroke="#fc9f42" stroke-width="2" />
<line x1="744.4" y1="1858.5" x2="753.0" y2="1858.5" stroke="#fc9f42" stroke-width="2" />
<circle cx="748.7" cy="1848.2" r="4.4" fill="#fc9f42" stroke="none" stroke-width="0" />
<line x1="785.8" y1="1795.0" x2="785.8" y2="1857.0" stroke="#fc9f42" stroke-width="2" />
<line x1="781.5" y1="1795.0" x2="790.1" y2="1795.0" stroke="#fc9f42" stroke-width="2" />
<line x1="781.5" y1="1857.0" x2="790.1" y2="1857.0" stroke="#fc9f42" stroke-width="2" />
<circle cx="785.8" cy="1826.1" r="4.4" fill="#fc9f42" stroke="none" stroke-width="0" />
<line x1="822.9" y1="1777.0" x2="822.9" y2="1804.0" stroke="#fc9f42" stroke-width="2" />
<line x1="818.6" y1="1777.0" x2="827.2" y2="1777.0" stroke="#fc9f42" stroke-width="2" />
<line x1="818.6" y1="1804.0" x2="827.2" y2="1804.0" stroke="#fc9f42" stroke-width="2" />
<circle cx="822.9" cy="1790.4" r="4.4" fill="#fc9f42" stroke="none" stroke-width="0" />
<circle cx="859.9" cy="1724.2" r="4.4" fill="#fc9f42" stroke="none" stroke-width="0" />
<circle cx="897.0" cy="1716.8" r="4.4" fill="#fc9f42" stroke="none" stroke-width="0" />
<line x1="711.7" y1="1836.0" x2="711.7" y2="1925.0" stroke="#5a57f6" stroke-width="2" />
<line x1="707.4" y1="1836.0" x2="716.0" y2="1836.0" stroke="#5a57f6" stroke-width="2" />
<line x1="707.4" y1="1925.0" x2="716.0" y2="1925.0" stroke="#5a57f6" stroke-width="2" />
<circle cx="711.7" cy="1880.8" r="4.4" fill="#5a57f6" stroke="none" stroke-width="0" />
<line x1="748.7" y1="1839.2" x2="748.7" y2="1895.3" stroke="#5a57f6" stroke-width="2" />
<line x1="744.4" y1="1839.2" x2="753.0" y2="1839.2" stroke="#5a57f6" stroke-width="2" />
<line x1="744.4" y1="1895.3" x2="753.0" y2="1895.3" stroke="#5a57f6" stroke-width="2" />
<circle cx="748.7" cy="1868.0" r="4.4" fill="#5a57f6" stroke="none" stroke-width="0" />
<circle cx="785.8" cy="1861.2" r="4.4" fill="#5a57f6" stroke="none" stroke-width="0" />
<line x1="822.9" y1="1763.5" x2="822.9" y2="1795.0" stroke="#5a57f6" stroke-width="2" />
<line x1="818.6" y1="1763.5" x2="827.2" y2="1763.5" stroke="#5a57f6" stroke-width="2" />
<line x1="818.6" y1="1795.0" x2="827.2" y2="1795.0" stroke="#5a57f6" stroke-width="2" />
<circle cx="822.9" cy="1778.6" r="4.4" fill="#5a57f6" stroke="none" stroke-width="0" />
<circle cx="859.9" cy="1717.7" r="4.4" fill="#5a57f6" stroke="none" stroke-width="0" />
<circle cx="897.0" cy="1716.8" r="4.4" fill="#5a57f6" stroke="none" stroke-width="0" />
<line x1="711.7" y1="1824.0" x2="711.7" y2="1866.5" stroke="#2e2e2e" stroke-width="2" />
<line x1="707.4" y1="1824.0" x2="716.0" y2="1824.0" stroke="#2e2e2e" stroke-width="2" />
<line x1="707.4" y1="1866.5" x2="716.0" y2="1866.5" stroke="#2e2e2e" stroke-width="2" />
<circle cx="711.7" cy="1845.5" r="4.4" fill="#2e2e2e" stroke="none" stroke-width="0" />
<line x1="748.7" y1="1820.3" x2="748.7" y2="1843.4" stroke="#2e2e2e" stroke-width="2" />
<line x1="744.4" y1="1820.3" x2="753.0" y2="1820.3" stroke="#2e2e2e" stroke-width="2" />
<line x1="744.4" y1="1843.4" x2="753.0" y2="1843.4" stroke="#2e2e2e" stroke-width="2" />
<circle cx="748.7" cy="1831.8" r="4.4" fill="#2e2e2e" stroke="none" stroke-width="0" />
<line x1="785.8" y1="1801.3" x2="785.8" y2="1841.3" stroke="#2e2e2e" stroke-width="2" />
<line x1="781.5" y1="1801.3" x2="790.1" y2="1801.3" stroke="#2e2e2e" stroke-width="2" />
<line x1="781.5" y1="1841.3" x2="790.1" y2="1841.3" stroke="#2e2e2e" stroke-width="2" />
<circle cx="785.8" cy="1821.9" r="4.4" fill="#2e2e2e" stroke="none" stroke-width="0" />
<line x1="822.9" y1="1780.3" x2="822.9" y2="1798.2" stroke="#2e2e2e" stroke-width="2" />
<line x1="818.6" y1="1780.3" x2="827.2" y2="1780.3" stroke="#2e2e2e" stroke-width="2" />
<line x1="818.6" y1="1798.2" x2="827.2" y2="1798.2" stroke="#2e2e2e" stroke-width="2" />
<circle cx="822.9" cy="1789.1" r="4.4" fill="#2e2e2e" stroke="none" stroke-width="0" />
<circle cx="859.9" cy="1724.2" r="4.4" fill="#2e2e2e" stroke="none" stroke-width="0" />
<circle cx="897.0" cy="1716.8" r="4.4" fill="#2e2e2e" stroke="none" stroke-width="0" />
</g>
<rect x="700.5" y="1679.3" width="222.4" height="222.4" fill="none" stroke="#000" stroke-width="2"/>
<text x="705.7" y="1699.9" font-size="16.3" fill="#111">Sotrovimab</text>
<text x="811.7" y="1956.1" font-size="18.5" text-anchor="middle" fill="#111">Concentration [µg/ml]</text>
<text x="653.0" y="1790.5" font-size="18.5" text-anchor="middle" transform="rotate(-90 653.0 1790.5)" fill="#111">Inhibition [%]</text>
</g>
<g id="ph">
<text x="999.0" y="1261.4" font-size="31">h</text>
<text x="1004.5" y="1652.5" font-size="31">i</text>
<text x="1181.0" y="1280.5" font-size="18" text-anchor="middle" fill="#111" style="font-weight:normal" stroke="#111" stroke-width="0.85" letter-spacing="0.45">Convalescent</text>
<rect x="1103.4" y="1292.9" width="160.0" height="240.3" fill="none" stroke="#000" stroke-width="2"/>
<line x1="1096.4" y1="1292.9" x2="1103.4" y2="1292.9" stroke="#000" stroke-width="2" />
<text x="1065.9" y="1298.7" font-size="16.5" fill="#111">10<tspan font-size="11" dy="-5.5" dx="1.5">5</tspan></text>
<line x1="1099.4" y1="1334.9" x2="1103.4" y2="1334.9" stroke="#000" stroke-width="1.3" />
<line x1="1099.4" y1="1324.3" x2="1103.4" y2="1324.3" stroke="#000" stroke-width="1.3" />
<line x1="1099.4" y1="1316.8" x2="1103.4" y2="1316.8" stroke="#000" stroke-width="1.3" />
<line x1="1099.4" y1="1311.0" x2="1103.4" y2="1311.0" stroke="#000" stroke-width="1.3" />
<line x1="1099.4" y1="1306.2" x2="1103.4" y2="1306.2" stroke="#000" stroke-width="1.3" />
<line x1="1099.4" y1="1302.2" x2="1103.4" y2="1302.2" stroke="#000" stroke-width="1.3" />
<line x1="1099.4" y1="1298.7" x2="1103.4" y2="1298.7" stroke="#000" stroke-width="1.3" />
<line x1="1099.4" y1="1295.6" x2="1103.4" y2="1295.6" stroke="#000" stroke-width="1.3" />
<line x1="1096.4" y1="1353.0" x2="1103.4" y2="1353.0" stroke="#000" stroke-width="2" />
<text x="1065.9" y="1358.8" font-size="16.5" fill="#111">10<tspan font-size="11" dy="-5.5" dx="1.5">4</tspan></text>
<line x1="1099.4" y1="1395.0" x2="1103.4" y2="1395.0" stroke="#000" stroke-width="1.3" />
<line x1="1099.4" y1="1384.4" x2="1103.4" y2="1384.4" stroke="#000" stroke-width="1.3" />
<line x1="1099.4" y1="1376.9" x2="1103.4" y2="1376.9" stroke="#000" stroke-width="1.3" />
<line x1="1099.4" y1="1371.1" x2="1103.4" y2="1371.1" stroke="#000" stroke-width="1.3" />
<line x1="1099.4" y1="1366.3" x2="1103.4" y2="1366.3" stroke="#000" stroke-width="1.3" />
<line x1="1099.4" y1="1362.3" x2="1103.4" y2="1362.3" stroke="#000" stroke-width="1.3" />
<line x1="1099.4" y1="1358.8" x2="1103.4" y2="1358.8" stroke="#000" stroke-width="1.3" />
<line x1="1099.4" y1="1355.7" x2="1103.4" y2="1355.7" stroke="#000" stroke-width="1.3" />
<line x1="1096.4" y1="1413.1" x2="1103.4" y2="1413.1" stroke="#000" stroke-width="2" />
<text x="1065.9" y="1418.9" font-size="16.5" fill="#111">10<tspan font-size="11" dy="-5.5" dx="1.5">3</tspan></text>
<line x1="1099.4" y1="1455.0" x2="1103.4" y2="1455.0" stroke="#000" stroke-width="1.3" />
<line x1="1099.4" y1="1444.5" x2="1103.4" y2="1444.5" stroke="#000" stroke-width="1.3" />
<line x1="1099.4" y1="1437.0" x2="1103.4" y2="1437.0" stroke="#000" stroke-width="1.3" />
<line x1="1099.4" y1="1431.1" x2="1103.4" y2="1431.1" stroke="#000" stroke-width="1.3" />
<line x1="1099.4" y1="1426.4" x2="1103.4" y2="1426.4" stroke="#000" stroke-width="1.3" />
<line x1="1099.4" y1="1422.4" x2="1103.4" y2="1422.4" stroke="#000" stroke-width="1.3" />
<line x1="1099.4" y1="1418.9" x2="1103.4" y2="1418.9" stroke="#000" stroke-width="1.3" />
<line x1="1099.4" y1="1415.8" x2="1103.4" y2="1415.8" stroke="#000" stroke-width="1.3" />
<line x1="1096.4" y1="1473.1" x2="1103.4" y2="1473.1" stroke="#000" stroke-width="2" />
<text x="1065.9" y="1478.9" font-size="16.5" fill="#111">10<tspan font-size="11" dy="-5.5" dx="1.5">2</tspan></text>
<line x1="1099.4" y1="1515.1" x2="1103.4" y2="1515.1" stroke="#000" stroke-width="1.3" />
<line x1="1099.4" y1="1504.5" x2="1103.4" y2="1504.5" stroke="#000" stroke-width="1.3" />
<line x1="1099.4" y1="1497.0" x2="1103.4" y2="1497.0" stroke="#000" stroke-width="1.3" />
<line x1="1099.4" y1="1491.2" x2="1103.4" y2="1491.2" stroke="#000" stroke-width="1.3" />
<line x1="1099.4" y1="1486.5" x2="1103.4" y2="1486.5" stroke="#000" stroke-width="1.3" />
<line x1="1099.4" y1="1482.4" x2="1103.4" y2="1482.4" stroke="#000" stroke-width="1.3" />
<line x1="1099.4" y1="1478.9" x2="1103.4" y2="1478.9" stroke="#000" stroke-width="1.3" />
<line x1="1099.4" y1="1475.9" x2="1103.4" y2="1475.9" stroke="#000" stroke-width="1.3" />
<line x1="1096.4" y1="1533.2" x2="1103.4" y2="1533.2" stroke="#000" stroke-width="2" />
<text x="1065.9" y="1539.0" font-size="16.5" fill="#111">10<tspan font-size="11" dy="-5.5" dx="1.5">1</tspan></text>
<line x1="1129.6" y1="1533.2" x2="1129.6" y2="1539.7" stroke="#000" stroke-width="2" />
<text x="1134.4" y="1550.8" font-size="19.4" text-anchor="end" transform="rotate(-45 1134.4 1550.8)" fill="#111" style="font-weight:normal" stroke="#111" stroke-width="0.85" letter-spacing="0.55">B.1</text>
<line x1="1182.8" y1="1533.2" x2="1182.8" y2="1539.7" stroke="#000" stroke-width="2" />
<text x="1187.6" y="1550.8" font-size="19.4" text-anchor="end" transform="rotate(-45 1187.6 1550.8)" fill="#111" style="font-weight:normal" stroke="#111" stroke-width="0.85" letter-spacing="0.55">B.1.617.2</text>
<line x1="1236.4" y1="1533.2" x2="1236.4" y2="1539.7" stroke="#000" stroke-width="2" />
<text x="1241.2" y="1550.8" font-size="19.4" text-anchor="end" transform="rotate(-45 1241.2 1550.8)" fill="#111" style="font-weight:normal" stroke="#111" stroke-width="0.85" letter-spacing="0.55">AY.4.2</text>
<text x="1129.6" y="1344.5" font-size="13.2" text-anchor="middle" fill="#111" style="font-weight:normal" stroke="#111" stroke-width="0.75" letter-spacing="0.3">1335</text>
<text x="1184.0" y="1348.6" font-size="13.2" text-anchor="middle" fill="#111" style="font-weight:normal" stroke="#111" stroke-width="0.75" letter-spacing="0.3">743</text>
<text x="1237.6" y="1347.5" font-size="13.2" text-anchor="middle" fill="#111" style="font-weight:normal" stroke="#111" stroke-width="0.75" letter-spacing="0.3">922</text>
<circle cx="1129.6" cy="1364.8" r="4.5" fill="none" stroke="#2e2e2e" stroke-width="2.4" />
<circle cx="1129.6" cy="1380.3" r="4.5" fill="none" stroke="#2e2e2e" stroke-width="2.4" />
<circle cx="1116.7" cy="1392.5" r="4.5" fill="none" stroke="#2e2e2e" stroke-width="2.4" />
<circle cx="1143.3" cy="1395.1" r="4.5" fill="none" stroke="#2e2e2e" stroke-width="2.4" />
<circle cx="1116.7" cy="1403.6" r="4.5" fill="none" stroke="#2e2e2e" stroke-width="2.4" />
<circle cx="1143.3" cy="1407.3" r="4.5" fill="none" stroke="#2e2e2e" stroke-width="2.4" />
<circle cx="1116.7" cy="1412.8" r="4.5" fill="none" stroke="#2e2e2e" stroke-width="2.4" />
<circle cx="1129.6" cy="1417.6" r="4.5" fill="none" stroke="#2e2e2e" stroke-width="2.4" />
<circle cx="1143.3" cy="1419.5" r="4.5" fill="none" stroke="#2e2e2e" stroke-width="2.4" />
<circle cx="1116.7" cy="1424.3" r="4.5" fill="none" stroke="#2e2e2e" stroke-width="2.4" />
<circle cx="1182.8" cy="1366.7" r="4.5" fill="none" stroke="#fc9f42" stroke-width="2.4" />
<circle cx="1192.1" cy="1398.1" r="4.5" fill="none" stroke="#fc9f42" stroke-width="2.4" />
<circle cx="1174.0" cy="1401.8" r="4.5" fill="none" stroke="#fc9f42" stroke-width="2.4" />
<circle cx="1182.8" cy="1401.0" r="4.5" fill="none" stroke="#fc9f42" stroke-width="2.4" />
<circle cx="1169.9" cy="1419.5" r="4.5" fill="none" stroke="#fc9f42" stroke-width="2.4" />
<circle cx="1187.6" cy="1419.5" r="4.5" fill="none" stroke="#fc9f42" stroke-width="2.4" />
<circle cx="1178.4" cy="1426.1" r="4.5" fill="none" stroke="#fc9f42" stroke-width="2.4" />
<circle cx="1196.1" cy="1426.9" r="4.5" fill="none" stroke="#fc9f42" stroke-width="2.4" />
<circle cx="1187.6" cy="1431.3" r="4.5" fill="none" stroke="#fc9f42" stroke-width="2.4" />
<circle cx="1169.9" cy="1435.0" r="4.5" fill="none" stroke="#fc9f42" stroke-width="2.4" />
<circle cx="1236.4" cy="1361.1" r="4.5" fill="none" stroke="#5a57f6" stroke-width="2.4" />
<circle cx="1223.5" cy="1394.4" r="4.5" fill="none" stroke="#5a57f6" stroke-width="2.4" />
<circle cx="1249.7" cy="1401.8" r="4.5" fill="none" stroke="#5a57f6" stroke-width="2.4" />
<circle cx="1223.5" cy="1407.7" r="4.5" fill="none" stroke="#5a57f6" stroke-width="2.4" />
<circle cx="1236.4" cy="1412.8" r="4.5" fill="none" stroke="#5a57f6" stroke-width="2.4" />
<circle cx="1249.7" cy="1415.8" r="4.5" fill="none" stroke="#5a57f6" stroke-width="2.4" />
<circle cx="1223.5" cy="1422.1" r="4.5" fill="none" stroke="#5a57f6" stroke-width="2.4" />
<circle cx="1236.4" cy="1424.3" r="4.5" fill="none" stroke="#5a57f6" stroke-width="2.4" />
<circle cx="1249.7" cy="1428.0" r="4.5" fill="none" stroke="#5a57f6" stroke-width="2.4" />
<circle cx="1223.5" cy="1436.1" r="4.5" fill="none" stroke="#5a57f6" stroke-width="2.4" />
<line x1="1112.6" y1="1404.7" x2="1147.1" y2="1404.7" stroke="#333" stroke-width="4.2" />
<line x1="1165.8" y1="1420.6" x2="1200.3" y2="1420.6" stroke="#000" stroke-width="4" />
<line x1="1219.4" y1="1414.7" x2="1253.9" y2="1414.7" stroke="#000" stroke-width="4" />
<text x="1032.4" y="1414.1" font-size="19.3" text-anchor="middle" transform="rotate(-90 1032.4 1414.1)" fill="#111">NT50</text>
<text x="1056.4" y="1414.1" font-size="19.3" text-anchor="middle" transform="rotate(-90 1056.4 1414.1)" fill="#111">[Recipr. Dilution Factor]</text>
<text x="1181.0" y="1672.5" font-size="18" text-anchor="middle" fill="#111" style="font-weight:normal" stroke="#111" stroke-width="0.85" letter-spacing="0.45">Vaccinated</text>
<rect x="1103.4" y="1684.9" width="160.0" height="240.3" fill="none" stroke="#000" stroke-width="2"/>
<line x1="1096.4" y1="1684.9" x2="1103.4" y2="1684.9" stroke="#000" stroke-width="2" />
<text x="1065.9" y="1690.7" font-size="16.5" fill="#111">10<tspan font-size="11" dy="-5.5" dx="1.5">5</tspan></text>
<line x1="1099.4" y1="1726.9" x2="1103.4" y2="1726.9" stroke="#000" stroke-width="1.3" />
<line x1="1099.4" y1="1716.3" x2="1103.4" y2="1716.3" stroke="#000" stroke-width="1.3" />
<line x1="1099.4" y1="1708.8" x2="1103.4" y2="1708.8" stroke="#000" stroke-width="1.3" />
<line x1="1099.4" y1="1703.0" x2="1103.4" y2="1703.0" stroke="#000" stroke-width="1.3" />
<line x1="1099.4" y1="1698.2" x2="1103.4" y2="1698.2" stroke="#000" stroke-width="1.3" />
<line x1="1099.4" y1="1694.2" x2="1103.4" y2="1694.2" stroke="#000" stroke-width="1.3" />
<line x1="1099.4" y1="1690.7" x2="1103.4" y2="1690.7" stroke="#000" stroke-width="1.3" />
<line x1="1099.4" y1="1687.6" x2="1103.4" y2="1687.6" stroke="#000" stroke-width="1.3" />
<line x1="1096.4" y1="1745.0" x2="1103.4" y2="1745.0" stroke="#000" stroke-width="2" />
<text x="1065.9" y="1750.8" font-size="16.5" fill="#111">10<tspan font-size="11" dy="-5.5" dx="1.5">4</tspan></text>
<line x1="1099.4" y1="1787.0" x2="1103.4" y2="1787.0" stroke="#000" stroke-width="1.3" />
<line x1="1099.4" y1="1776.4" x2="1103.4" y2="1776.4" stroke="#000" stroke-width="1.3" />
<line x1="1099.4" y1="1768.9" x2="1103.4" y2="1768.9" stroke="#000" stroke-width="1.3" />
<line x1="1099.4" y1="1763.1" x2="1103.4" y2="1763.1" stroke="#000" stroke-width="1.3" />
<line x1="1099.4" y1="1758.3" x2="1103.4" y2="1758.3" stroke="#000" stroke-width="1.3" />
<line x1="1099.4" y1="1754.3" x2="1103.4" y2="1754.3" stroke="#000" stroke-width="1.3" />
<line x1="1099.4" y1="1750.8" x2="1103.4" y2="1750.8" stroke="#000" stroke-width="1.3" />
<line x1="1099.4" y1="1747.7" x2="1103.4" y2="1747.7" stroke="#000" stroke-width="1.3" />
<line x1="1096.4" y1="1805.1" x2="1103.4" y2="1805.1" stroke="#000" stroke-width="2" />
<text x="1065.9" y="1810.9" font-size="16.5" fill="#111">10<tspan font-size="11" dy="-5.5" dx="1.5">3</tspan></text>
<line x1="1099.4" y1="1847.0" x2="1103.4" y2="1847.0" stroke="#000" stroke-width="1.3" />
<line x1="1099.4" y1="1836.5" x2="1103.4" y2="1836.5" stroke="#000" stroke-width="1.3" />
<line x1="1099.4" y1="1829.0" x2="1103.4" y2="1829.0" stroke="#000" stroke-width="1.3" />
<line x1="1099.4" y1="1823.1" x2="1103.4" y2="1823.1" stroke="#000" stroke-width="1.3" />
<line x1="1099.4" y1="1818.4" x2="1103.4" y2="1818.4" stroke="#000" stroke-width="1.3" />
<line x1="1099.4" y1="1814.4" x2="1103.4" y2="1814.4" stroke="#000" stroke-width="1.3" />
<line x1="1099.4" y1="1810.9" x2="1103.4" y2="1810.9" stroke="#000" stroke-width="1.3" />
<line x1="1099.4" y1="1807.8" x2="1103.4" y2="1807.8" stroke="#000" stroke-width="1.3" />
<line x1="1096.4" y1="1865.1" x2="1103.4" y2="1865.1" stroke="#000" stroke-width="2" />
<text x="1065.9" y="1870.9" font-size="16.5" fill="#111">10<tspan font-size="11" dy="-5.5" dx="1.5">2</tspan></text>
<line x1="1099.4" y1="1907.1" x2="1103.4" y2="1907.1" stroke="#000" stroke-width="1.3" />
<line x1="1099.4" y1="1896.5" x2="1103.4" y2="1896.5" stroke="#000" stroke-width="1.3" />
<line x1="1099.4" y1="1889.0" x2="1103.4" y2="1889.0" stroke="#000" stroke-width="1.3" />
<line x1="1099.4" y1="1883.2" x2="1103.4" y2="1883.2" stroke="#000" stroke-width="1.3" />
<line x1="1099.4" y1="1878.5" x2="1103.4" y2="1878.5" stroke="#000" stroke-width="1.3" />
<line x1="1099.4" y1="1874.4" x2="1103.4" y2="1874.4" stroke="#000" stroke-width="1.3" />
<line x1="1099.4" y1="1870.9" x2="1103.4" y2="1870.9" stroke="#000" stroke-width="1.3" />
<line x1="1099.4" y1="1867.9" x2="1103.4" y2="1867.9" stroke="#000" stroke-width="1.3" />
<line x1="1096.4" y1="1925.2" x2="1103.4" y2="1925.2" stroke="#000" stroke-width="2" />
<text x="1065.9" y="1931.0" font-size="16.5" fill="#111">10<tspan font-size="11" dy="-5.5" dx="1.5">1</tspan></text>
<line x1="1129.6" y1="1925.2" x2="1129.6" y2="1931.7" stroke="#000" stroke-width="2" />
<text x="1134.4" y="1942.8" font-size="19.4" text-anchor="end" transform="rotate(-45 1134.4 1942.8)" fill="#111" style="font-weight:normal" stroke="#111" stroke-width="0.85" letter-spacing="0.55">B.1</text>
<line x1="1182.8" y1="1925.2" x2="1182.8" y2="1931.7" stroke="#000" stroke-width="2" />
<text x="1187.6" y="1942.8" font-size="19.4" text-anchor="end" transform="rotate(-45 1187.6 1942.8)" fill="#111" style="font-weight:normal" stroke="#111" stroke-width="0.85" letter-spacing="0.55">B.1.617.2</text>
<line x1="1236.4" y1="1925.2" x2="1236.4" y2="1931.7" stroke="#000" stroke-width="2" />
<text x="1241.2" y="1942.8" font-size="19.4" text-anchor="end" transform="rotate(-45 1241.2 1942.8)" fill="#111" style="font-weight:normal" stroke="#111" stroke-width="0.85" letter-spacing="0.55">AY.4.2</text>
<text x="1130.8" y="1766.6" font-size="13.2" text-anchor="middle" fill="#111" style="font-weight:normal" stroke="#111" stroke-width="0.75" letter-spacing="0.3">392</text>
<text x="1184.0" y="1798.4" font-size="13.2" text-anchor="middle" fill="#111" style="font-weight:normal" stroke="#111" stroke-width="0.75" letter-spacing="0.3">97</text>
<text x="1237.6" y="1796.6" font-size="13.2" text-anchor="middle" fill="#111" style="font-weight:normal" stroke="#111" stroke-width="0.75" letter-spacing="0.3">103</text>
<circle cx="1129.6" cy="1784.0" r="4.5" fill="none" stroke="#2e2e2e" stroke-width="2.4" />
<circle cx="1143.3" cy="1821.7" r="4.5" fill="none" stroke="#2e2e2e" stroke-width="2.4" />
<circle cx="1135.9" cy="1824.3" r="4.5" fill="none" stroke="#2e2e2e" stroke-width="2.4" />
<circle cx="1123.0" cy="1827.2" r="4.5" fill="none" stroke="#2e2e2e" stroke-width="2.4" />
<circle cx="1116.7" cy="1829.8" r="4.5" fill="none" stroke="#2e2e2e" stroke-width="2.4" />
<circle cx="1129.6" cy="1830.5" r="4.5" fill="none" stroke="#2e2e2e" stroke-width="2.4" />
<circle cx="1135.9" cy="1840.9" r="4.5" fill="none" stroke="#2e2e2e" stroke-width="2.4" />
<circle cx="1129.6" cy="1843.8" r="4.5" fill="none" stroke="#2e2e2e" stroke-width="2.4" />
<circle cx="1133.0" cy="1853.8" r="4.5" fill="none" stroke="#2e2e2e" stroke-width="2.4" />
<circle cx="1125.9" cy="1861.2" r="4.5" fill="none" stroke="#2e2e2e" stroke-width="2.4" />
<circle cx="1182.8" cy="1813.2" r="4.5" fill="none" stroke="#fc9f42" stroke-width="2.4" />
<circle cx="1176.6" cy="1837.2" r="4.5" fill="none" stroke="#fc9f42" stroke-width="2.4" />
<circle cx="1182.8" cy="1845.7" r="4.5" fill="none" stroke="#fc9f42" stroke-width="2.4" />
<circle cx="1175.8" cy="1848.3" r="4.5" fill="none" stroke="#fc9f42" stroke-width="2.4" />
<circle cx="1169.9" cy="1864.2" r="4.5" fill="none" stroke="#fc9f42" stroke-width="2.4" />
<circle cx="1182.8" cy="1866.8" r="4.5" fill="none" stroke="#fc9f42" stroke-width="2.4" />
<circle cx="1196.1" cy="1868.6" r="4.5" fill="none" stroke="#fc9f42" stroke-width="2.4" />
<circle cx="1178.4" cy="1870.4" r="4.5" fill="none" stroke="#fc9f42" stroke-width="2.4" />
<circle cx="1189.5" cy="1872.3" r="4.5" fill="none" stroke="#fc9f42" stroke-width="2.4" />
<circle cx="1176.6" cy="1878.6" r="4.5" fill="none" stroke="#fc9f42" stroke-width="2.4" />
<circle cx="1236.4" cy="1814.3" r="4.5" fill="none" stroke="#5a57f6" stroke-width="2.4" />
<circle cx="1223.5" cy="1835.4" r="4.5" fill="none" stroke="#5a57f6" stroke-width="2.4" />
<circle cx="1249.7" cy="1842.7" r="4.5" fill="none" stroke="#5a57f6" stroke-width="2.4" />
<circle cx="1236.4" cy="1850.9" r="4.5" fill="none" stroke="#5a57f6" stroke-width="2.4" />
<circle cx="1223.5" cy="1861.9" r="4.5" fill="none" stroke="#5a57f6" stroke-width="2.4" />
<circle cx="1249.7" cy="1867.5" r="4.5" fill="none" stroke="#5a57f6" stroke-width="2.4" />
<circle cx="1223.5" cy="1871.6" r="4.5" fill="none" stroke="#5a57f6" stroke-width="2.4" />
<circle cx="1236.4" cy="1873.4" r="4.5" fill="none" stroke="#5a57f6" stroke-width="2.4" />
<circle cx="1249.7" cy="1880.4" r="4.5" fill="none" stroke="#5a57f6" stroke-width="2.4" />
<circle cx="1223.5" cy="1884.1" r="4.5" fill="none" stroke="#5a57f6" stroke-width="2.4" />
<line x1="1112.6" y1="1829.8" x2="1147.1" y2="1829.8" stroke="#333" stroke-width="2.2" />
<line x1="1165.8" y1="1865.6" x2="1200.3" y2="1865.6" stroke="#000" stroke-width="4" />
<line x1="1219.4" y1="1864.2" x2="1253.9" y2="1864.2" stroke="#000" stroke-width="4" />
<text x="1032.4" y="1806.1" font-size="19.3" text-anchor="middle" transform="rotate(-90 1032.4 1806.1)" fill="#111">NT50</text>
<text x="1056.4" y="1806.1" font-size="19.3" text-anchor="middle" transform="rotate(-90 1056.4 1806.1)" fill="#111">[Recipr. Dilution Factor]</text>
<text x="1483.9" y="1280.5" font-size="18" text-anchor="middle" fill="#111" style="font-weight:normal" stroke="#111" stroke-width="0.85" letter-spacing="0.45">Convalescent</text>
<rect x="1406.3" y="1292.9" width="160.6" height="240.3" fill="none" stroke="#000" stroke-width="2"/>
<line x1="1399.3" y1="1292.9" x2="1406.3" y2="1292.9" stroke="#000" stroke-width="2" />
<text x="1395.8" y="1298.5" font-size="16.3" text-anchor="end" fill="#111">+8x</text>
<line x1="1399.3" y1="1333.0" x2="1406.3" y2="1333.0" stroke="#000" stroke-width="2" />
<text x="1395.8" y="1338.5" font-size="16.3" text-anchor="end" fill="#111">+4x</text>
<line x1="1399.3" y1="1373.0" x2="1406.3" y2="1373.0" stroke="#000" stroke-width="2" />
<text x="1395.8" y="1378.6" font-size="16.3" text-anchor="end" fill="#111">+2x</text>
<line x1="1399.3" y1="1413.1" x2="1406.3" y2="1413.1" stroke="#000" stroke-width="2" />
<text x="1395.8" y="1418.7" font-size="16.3" text-anchor="end" fill="#111">1x</text>
<line x1="1399.3" y1="1453.1" x2="1406.3" y2="1453.1" stroke="#000" stroke-width="2" />
<text x="1395.8" y="1458.7" font-size="16.3" text-anchor="end" fill="#111">-2x</text>
<line x1="1399.3" y1="1493.2" x2="1406.3" y2="1493.2" stroke="#000" stroke-width="2" />
<text x="1395.8" y="1498.8" font-size="16.3" text-anchor="end" fill="#111">-4x</text>
<line x1="1399.3" y1="1533.2" x2="1406.3" y2="1533.2" stroke="#000" stroke-width="2" />
<text x="1395.8" y="1538.8" font-size="16.3" text-anchor="end" fill="#111">-8x</text>
<line x1="1406.3" y1="1413.1" x2="1566.9" y2="1413.1" stroke="#000" stroke-width="2" stroke-dasharray="6.5 5.2"/>
<line x1="1432.3" y1="1533.2" x2="1432.3" y2="1539.7" stroke="#000" stroke-width="2" />
<text x="1437.1" y="1550.8" font-size="19.4" text-anchor="end" transform="rotate(-45 1437.1 1550.8)" fill="#111" style="font-weight:normal" stroke="#111" stroke-width="0.85" letter-spacing="0.55">B.1</text>
<line x1="1486.1" y1="1533.2" x2="1486.1" y2="1539.7" stroke="#000" stroke-width="2" />
<text x="1490.9" y="1550.8" font-size="19.4" text-anchor="end" transform="rotate(-45 1490.9 1550.8)" fill="#111" style="font-weight:normal" stroke="#111" stroke-width="0.85" letter-spacing="0.55">B.1.617.2</text>
<line x1="1539.8" y1="1533.2" x2="1539.8" y2="1539.7" stroke="#000" stroke-width="2" />
<text x="1544.6" y="1550.8" font-size="19.4" text-anchor="end" transform="rotate(-45 1544.6 1550.8)" fill="#111" style="font-weight:normal" stroke="#111" stroke-width="0.85" letter-spacing="0.55">AY.4.2</text>
<circle cx="1432.3" cy="1413.1" r="4.3" fill="none" stroke="#2e2e2e" stroke-width="2" />
<circle cx="1486.1" cy="1370.0" r="4.5" fill="none" stroke="#fc9f42" stroke-width="2.4" />
<circle cx="1539.8" cy="1390.9" r="4.5" fill="none" stroke="#5a57f6" stroke-width="2.4" />
<circle cx="1486.1" cy="1416.5" r="4.5" fill="none" stroke="#fc9f42" stroke-width="2.4" />
<circle cx="1539.8" cy="1405.8" r="4.5" fill="none" stroke="#5a57f6" stroke-width="2.4" />
<circle cx="1486.1" cy="1417.2" r="4.5" fill="none" stroke="#fc9f42" stroke-width="2.4" />
<circle cx="1539.8" cy="1420.4" r="4.5" fill="none" stroke="#5a57f6" stroke-width="2.4" />
<circle cx="1486.1" cy="1426.9" r="4.5" fill="none" stroke="#fc9f42" stroke-width="2.4" />
<circle cx="1539.8" cy="1428.2" r="4.5" fill="none" stroke="#5a57f6" stroke-width="2.4" />
<circle cx="1486.1" cy="1432.8" r="4.5" fill="none" stroke="#fc9f42" stroke-width="2.4" />
<circle cx="1539.8" cy="1419.8" r="4.5" fill="none" stroke="#5a57f6" stroke-width="2.4" />
<circle cx="1486.1" cy="1447.7" r="4.5" fill="none" stroke="#fc9f42" stroke-width="2.4" />
<circle cx="1539.8" cy="1426.9" r="4.5" fill="none" stroke="#5a57f6" stroke-width="2.4" />
<circle cx="1486.1" cy="1453.6" r="4.5" fill="none" stroke="#fc9f42" stroke-width="2.4" />
<circle cx="1539.8" cy="1441.9" r="4.5" fill="none" stroke="#5a57f6" stroke-width="2.4" />
<circle cx="1486.1" cy="1454.2" r="4.5" fill="none" stroke="#fc9f42" stroke-width="2.4" />
<circle cx="1539.8" cy="1446.4" r="4.5" fill="none" stroke="#5a57f6" stroke-width="2.4" />
<circle cx="1486.1" cy="1454.9" r="4.5" fill="none" stroke="#fc9f42" stroke-width="2.4" />
<circle cx="1539.8" cy="1465.3" r="4.5" fill="none" stroke="#5a57f6" stroke-width="2.4" />
<circle cx="1486.1" cy="1501.7" r="4.5" fill="none" stroke="#fc9f42" stroke-width="2.4" />
<circle cx="1539.8" cy="1488.4" r="4.5" fill="none" stroke="#5a57f6" stroke-width="2.4" />
<path d="M1432.3,1413.1 L1486.1,1370.0 L1539.8,1390.9" stroke="#2e2e2e" stroke-width="2" fill="none" stroke-linejoin="round"/>
<path d="M1432.3,1413.1 L1486.1,1416.5 L1539.8,1405.8" stroke="#2e2e2e" stroke-width="2" fill="none" stroke-linejoin="round"/>
<path d="M1432.3,1413.1 L1486.1,1417.2 L1539.8,1420.4" stroke="#2e2e2e" stroke-width="2" fill="none" stroke-linejoin="round"/>
<path d="M1432.3,1413.1 L1486.1,1426.9 L1539.8,1428.2" stroke="#2e2e2e" stroke-width="2" fill="none" stroke-linejoin="round"/>
<path d="M1432.3,1413.1 L1486.1,1432.8 L1539.8,1419.8" stroke="#2e2e2e" stroke-width="2" fill="none" stroke-linejoin="round"/>
<path d="M1432.3,1413.1 L1486.1,1447.7 L1539.8,1426.9" stroke="#2e2e2e" stroke-width="2" fill="none" stroke-linejoin="round"/>
<path d="M1432.3,1413.1 L1486.1,1453.6 L1539.8,1441.9" stroke="#2e2e2e" stroke-width="2" fill="none" stroke-linejoin="round"/>
<path d="M1432.3,1413.1 L1486.1,1454.2 L1539.8,1446.4" stroke="#2e2e2e" stroke-width="2" fill="none" stroke-linejoin="round"/>
<path d="M1432.3,1413.1 L1486.1,1454.9 L1539.8,1465.3" stroke="#2e2e2e" stroke-width="2" fill="none" stroke-linejoin="round"/>
<path d="M1432.3,1413.1 L1486.1,1501.7 L1539.8,1488.4" stroke="#2e2e2e" stroke-width="2" fill="none" stroke-linejoin="round"/>
<path d="M1431.9,1399 V1303.8 H1511.9 V1310.8 M1479.4,1310.8 H1544.7" stroke="#000" stroke-width="2" fill="none" />
<path d="M1485.3,1354.1 V1347 H1540.5 V1354.1" stroke="#000" stroke-width="2" fill="none" />
<text x="1486.9" y="1333.6" font-size="23.5" text-anchor="middle" style="font-weight:normal" stroke="#000" stroke-width="0.7" letter-spacing="2.4">*</text>
<text x="1540.2" y="1333.6" font-size="23.5" text-anchor="middle" style="font-weight:normal" stroke="#000" stroke-width="0.7" letter-spacing="2.4">*</text>
<text x="1511.3" y="1342.8" font-size="14.3" text-anchor="middle" fill="#111" style="font-weight:normal" stroke="#111" stroke-width="0.7">ns</text>
<text x="1330.8" y="1414.1" font-size="19.3" text-anchor="middle" transform="rotate(-90 1330.8 1414.1)" fill="#111">Fold Change in NT50</text>
<text x="1354.8" y="1414.1" font-size="19.3" text-anchor="middle" transform="rotate(-90 1354.8 1414.1)" fill="#111">[Relative to B.1]</text>
<text x="1483.9" y="1672.5" font-size="18" text-anchor="middle" fill="#111" style="font-weight:normal" stroke="#111" stroke-width="0.85" letter-spacing="0.45">Vaccinated</text>
<rect x="1406.3" y="1684.9" width="160.6" height="240.3" fill="none" stroke="#000" stroke-width="2"/>
<line x1="1399.3" y1="1684.9" x2="1406.3" y2="1684.9" stroke="#000" stroke-width="2" />
<text x="1395.8" y="1690.5" font-size="16.3" text-anchor="end" fill="#111">+8x</text>
<line x1="1399.3" y1="1725.0" x2="1406.3" y2="1725.0" stroke="#000" stroke-width="2" />
<text x="1395.8" y="1730.5" font-size="16.3" text-anchor="end" fill="#111">+4x</text>
<line x1="1399.3" y1="1765.0" x2="1406.3" y2="1765.0" stroke="#000" stroke-width="2" />
<text x="1395.8" y="1770.6" font-size="16.3" text-anchor="end" fill="#111">+2x</text>
<line x1="1399.3" y1="1805.1" x2="1406.3" y2="1805.1" stroke="#000" stroke-width="2" />
<text x="1395.8" y="1810.7" font-size="16.3" text-anchor="end" fill="#111">1x</text>
<line x1="1399.3" y1="1845.1" x2="1406.3" y2="1845.1" stroke="#000" stroke-width="2" />
<text x="1395.8" y="1850.7" font-size="16.3" text-anchor="end" fill="#111">-2x</text>
<line x1="1399.3" y1="1885.2" x2="1406.3" y2="1885.2" stroke="#000" stroke-width="2" />
<text x="1395.8" y="1890.8" font-size="16.3" text-anchor="end" fill="#111">-4x</text>
<line x1="1399.3" y1="1925.2" x2="1406.3" y2="1925.2" stroke="#000" stroke-width="2" />
<text x="1395.8" y="1930.8" font-size="16.3" text-anchor="end" fill="#111">-8x</text>
<line x1="1406.3" y1="1805.1" x2="1566.9" y2="1805.1" stroke="#000" stroke-width="2" stroke-dasharray="6.5 5.2"/>
<line x1="1432.3" y1="1925.2" x2="1432.3" y2="1931.7" stroke="#000" stroke-width="2" />
<text x="1437.1" y="1942.8" font-size="19.4" text-anchor="end" transform="rotate(-45 1437.1 1942.8)" fill="#111" style="font-weight:normal" stroke="#111" stroke-width="0.85" letter-spacing="0.55">B.1</text>
<line x1="1486.1" y1="1925.2" x2="1486.1" y2="1931.7" stroke="#000" stroke-width="2" />
<text x="1490.9" y="1942.8" font-size="19.4" text-anchor="end" transform="rotate(-45 1490.9 1942.8)" fill="#111" style="font-weight:normal" stroke="#111" stroke-width="0.85" letter-spacing="0.55">B.1.617.2</text>
<line x1="1539.8" y1="1925.2" x2="1539.8" y2="1931.7" stroke="#000" stroke-width="2" />
<text x="1544.6" y="1942.8" font-size="19.4" text-anchor="end" transform="rotate(-45 1544.6 1942.8)" fill="#111" style="font-weight:normal" stroke="#111" stroke-width="0.85" letter-spacing="0.55">AY.4.2</text>
<circle cx="1432.3" cy="1805.1" r="4.3" fill="none" stroke="#2e2e2e" stroke-width="2" />
<circle cx="1486.1" cy="1832.7" r="4.5" fill="none" stroke="#fc9f42" stroke-width="2.4" />
<circle cx="1539.8" cy="1829.1" r="4.5" fill="none" stroke="#5a57f6" stroke-width="2.4" />
<circle cx="1486.1" cy="1844.0" r="4.5" fill="none" stroke="#fc9f42" stroke-width="2.4" />
<circle cx="1539.8" cy="1833.9" r="4.5" fill="none" stroke="#5a57f6" stroke-width="2.4" />
<circle cx="1486.1" cy="1845.3" r="4.5" fill="none" stroke="#fc9f42" stroke-width="2.4" />
<circle cx="1539.8" cy="1846.0" r="4.5" fill="none" stroke="#5a57f6" stroke-width="2.4" />
<circle cx="1486.1" cy="1846.6" r="4.5" fill="none" stroke="#fc9f42" stroke-width="2.4" />
<circle cx="1539.8" cy="1847.3" r="4.5" fill="none" stroke="#5a57f6" stroke-width="2.4" />
<circle cx="1486.1" cy="1847.3" r="4.5" fill="none" stroke="#fc9f42" stroke-width="2.4" />
<circle cx="1539.8" cy="1851.8" r="4.5" fill="none" stroke="#5a57f6" stroke-width="2.4" />
<circle cx="1486.1" cy="1856.4" r="4.5" fill="none" stroke="#fc9f42" stroke-width="2.4" />
<circle cx="1539.8" cy="1893.4" r="4.5" fill="none" stroke="#5a57f6" stroke-width="2.4" />
<circle cx="1486.1" cy="1867.4" r="4.5" fill="none" stroke="#fc9f42" stroke-width="2.4" />
<circle cx="1539.8" cy="1873.9" r="4.5" fill="none" stroke="#5a57f6" stroke-width="2.4" />
<circle cx="1486.1" cy="1870.0" r="4.5" fill="none" stroke="#fc9f42" stroke-width="2.4" />
<circle cx="1539.8" cy="1877.8" r="4.5" fill="none" stroke="#5a57f6" stroke-width="2.4" />
<circle cx="1486.1" cy="1886.3" r="4.5" fill="none" stroke="#fc9f42" stroke-width="2.4" />
<circle cx="1539.8" cy="1880.4" r="4.5" fill="none" stroke="#5a57f6" stroke-width="2.4" />
<circle cx="1486.1" cy="1908.4" r="4.5" fill="none" stroke="#fc9f42" stroke-width="2.4" />
<circle cx="1539.8" cy="1906.1" r="4.5" fill="none" stroke="#5a57f6" stroke-width="2.4" />
<path d="M1432.3,1805.1 L1486.1,1832.7 L1539.8,1829.1" stroke="#2e2e2e" stroke-width="2" fill="none" stroke-linejoin="round"/>
<path d="M1432.3,1805.1 L1486.1,1844.0 L1539.8,1833.9" stroke="#2e2e2e" stroke-width="2" fill="none" stroke-linejoin="round"/>
<path d="M1432.3,1805.1 L1486.1,1845.3 L1539.8,1846.0" stroke="#2e2e2e" stroke-width="2" fill="none" stroke-linejoin="round"/>
<path d="M1432.3,1805.1 L1486.1,1846.6 L1539.8,1847.3" stroke="#2e2e2e" stroke-width="2" fill="none" stroke-linejoin="round"/>
<path d="M1432.3,1805.1 L1486.1,1847.3 L1539.8,1851.8" stroke="#2e2e2e" stroke-width="2" fill="none" stroke-linejoin="round"/>
<path d="M1432.3,1805.1 L1486.1,1856.4 L1539.8,1893.4" stroke="#2e2e2e" stroke-width="2" fill="none" stroke-linejoin="round"/>
<path d="M1432.3,1805.1 L1486.1,1867.4 L1539.8,1873.9" stroke="#2e2e2e" stroke-width="2" fill="none" stroke-linejoin="round"/>
<path d="M1432.3,1805.1 L1486.1,1870.0 L1539.8,1877.8" stroke="#2e2e2e" stroke-width="2" fill="none" stroke-linejoin="round"/>
<path d="M1432.3,1805.1 L1486.1,1886.3 L1539.8,1880.4" stroke="#2e2e2e" stroke-width="2" fill="none" stroke-linejoin="round"/>
<path d="M1432.3,1805.1 L1486.1,1908.4 L1539.8,1906.1" stroke="#2e2e2e" stroke-width="2" fill="none" stroke-linejoin="round"/>
<path d="M1432.9,1791.1 V1745.2 H1512.6 V1752.1 M1480.1,1752.1 H1545" stroke="#000" stroke-width="2" fill="none" />
<path d="M1485.6,1795.3 V1787.5 H1541.1 V1795.3" stroke="#000" stroke-width="2" fill="none" />
<text x="1499.8" y="1775.4" font-size="23.5" text-anchor="middle" style="font-weight:normal" stroke="#000" stroke-width="0.7" letter-spacing="2.4">***</text>
<text x="1542.0" y="1775.4" font-size="23.5" text-anchor="middle" style="font-weight:normal" stroke="#000" stroke-width="0.7" letter-spacing="2.4">***</text>
<text x="1511.6" y="1784.0" font-size="14.3" text-anchor="middle" fill="#111" style="font-weight:normal" stroke="#111" stroke-width="0.7">ns</text>
<text x="1330.8" y="1806.1" font-size="19.3" text-anchor="middle" transform="rotate(-90 1330.8 1806.1)" fill="#111">Fold Change in NT50</text>
<text x="1354.8" y="1806.1" font-size="19.3" text-anchor="middle" transform="rotate(-90 1354.8 1806.1)" fill="#111">[Relative to B.1]</text>
</g>
</svg>
</body></html>
